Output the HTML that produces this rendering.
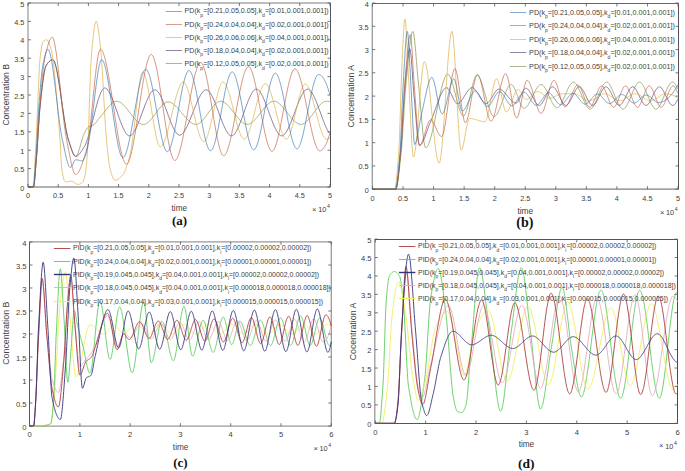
<!DOCTYPE html><html><head><meta charset="utf-8"><style>html,body{margin:0;padding:0;background:#fff;width:685px;height:471px;overflow:hidden}svg{display:block}text{font-family:'Liberation Sans', sans-serif;fill:#404040}</style></head><body>
<svg width="685" height="471" viewBox="0 0 685 471">
<line x1="28.00" y1="3.00" x2="28.00" y2="187.00" stroke="#a0a0a0" stroke-width="1.30"/>
<line x1="28.00" y1="3.00" x2="330.50" y2="3.00" stroke="#a8a8a8" stroke-width="1.30"/>
<line x1="330.50" y1="3.00" x2="330.50" y2="187.00" stroke="#555555" stroke-width="1.00"/>
<line x1="28.00" y1="187.00" x2="330.50" y2="187.00" stroke="#999999" stroke-width="1.30"/>
<line x1="372.30" y1="3.50" x2="372.30" y2="189.20" stroke="#999999" stroke-width="1.30"/>
<line x1="372.30" y1="3.50" x2="678.50" y2="3.50" stroke="#666666" stroke-width="1.00"/>
<line x1="678.50" y1="3.50" x2="678.50" y2="189.20" stroke="#555555" stroke-width="1.00"/>
<line x1="372.30" y1="189.20" x2="678.50" y2="189.20" stroke="#808080" stroke-width="1.20"/>
<line x1="29.50" y1="241.80" x2="29.50" y2="426.20" stroke="#5a5a5a" stroke-width="1.00"/>
<line x1="29.50" y1="241.80" x2="331.30" y2="241.80" stroke="#999999" stroke-width="1.30"/>
<line x1="331.30" y1="241.80" x2="331.30" y2="426.20" stroke="#999999" stroke-width="1.30"/>
<line x1="29.50" y1="426.20" x2="331.30" y2="426.20" stroke="#999999" stroke-width="1.30"/>
<line x1="374.80" y1="239.50" x2="374.80" y2="423.50" stroke="#999999" stroke-width="1.30"/>
<line x1="374.80" y1="239.50" x2="677.50" y2="239.50" stroke="#555555" stroke-width="1.00"/>
<line x1="677.50" y1="239.50" x2="677.50" y2="423.50" stroke="#4a4a4a" stroke-width="1.00"/>
<line x1="374.80" y1="423.50" x2="677.50" y2="423.50" stroke="#555555" stroke-width="1.00"/>
<path d="M28.0 187.0L28.4 187.0L28.7 187.0L29.1 187.0L29.4 187.0L29.8 187.0L30.2 187.0L30.5 187.0L30.9 187.0L31.3 187.0L31.6 187.0L32.0 187.0L32.3 187.0L32.7 187.0L33.1 187.0L33.4 187.0L33.8 186.3L34.2 184.2L34.5 181.2L34.9 177.3L35.2 172.9L35.6 168.2L36.0 163.5L36.3 159.0L36.7 154.6L37.1 149.7L37.4 144.3L37.8 138.6L38.1 132.8L38.5 127.0L38.9 121.4L39.2 116.1L39.6 111.3L40.0 107.2L40.3 103.8L40.7 100.4L41.0 97.1L41.4 93.8L41.8 90.6L42.1 87.5L42.5 84.5L42.9 81.7L43.2 79.0L43.6 76.5L43.9 74.2L44.3 72.1L44.7 70.3L45.0 68.7L45.4 67.3L45.8 66.3L46.1 65.6L46.5 65.0L46.8 64.5L47.2 63.9L47.6 63.4L47.9 63.0L48.3 62.5L48.7 62.1L49.0 61.7L49.4 61.4L49.7 61.0L50.1 60.7L50.5 60.5L50.8 60.2L51.2 60.1L51.6 59.9L51.9 59.8L52.3 59.7L52.6 59.7L53.0 59.7L53.4 60.0L53.7 60.4L54.1 61.0L54.5 61.8L54.8 62.7L55.2 63.8L55.5 65.1L55.9 66.5L56.3 68.0L56.6 69.7L57.0 71.5L57.4 73.4L57.7 75.4L58.1 77.4L58.4 79.6L58.8 81.8L59.2 84.1L59.5 86.5L59.9 88.9L60.3 91.4L60.6 93.9L61.0 96.4L61.3 98.9L61.7 101.5L62.1 104.0L62.4 106.5L62.8 109.0L63.2 111.5L63.5 114.0L63.9 116.4L64.2 118.8L64.6 121.1L65.0 123.3L65.3 125.5L65.7 127.6L66.1 129.6L66.4 131.5L66.8 133.2L67.1 134.9L67.5 136.5L67.9 137.9L68.2 139.1L68.6 140.3L69.0 141.4L69.3 142.5L69.7 143.7L70.0 144.8L70.4 145.9L70.8 147.1L71.1 148.2L71.5 149.2L71.9 150.3L72.2 151.2L72.6 152.1L72.9 153.0L73.3 153.8L73.7 154.5L74.0 155.1L74.4 155.6L74.7 156.0L75.1 156.3L75.5 156.4L75.8 156.4L76.2 156.3L76.6 156.0L76.9 155.5L77.3 154.8L77.6 154.1L78.0 153.2L78.4 152.2L78.7 151.1L79.1 150.0L79.5 148.8L79.8 147.5L80.2 146.2L80.5 144.9L80.9 143.6L81.3 142.3L81.6 141.0L82.0 139.7L82.4 138.5L82.7 137.3L83.1 136.3L83.4 135.3L83.8 134.4L84.2 133.6L84.5 132.9L84.9 132.2L85.3 131.5L85.6 130.8L86.0 130.2L86.3 129.5L86.7 128.9L87.1 128.4L87.4 127.9L87.8 127.5L88.2 127.2L88.5 126.9L88.9 126.7L89.2 126.6L89.6 126.4L90.0 126.3L90.3 126.2L90.7 126.1L91.1 126.0L91.4 125.9L91.8 125.8L92.1 125.7L92.5 125.5L92.9 125.4L93.2 125.2L93.6 124.9L94.0 124.7L94.3 124.3L94.7 124.0L95.0 123.6L95.4 123.1L95.8 122.7L96.1 122.2L96.5 121.7L96.9 121.2L97.2 120.8L97.6 120.3L97.9 119.8L98.3 119.3L98.7 118.9L99.0 118.4L99.4 118.1L99.8 117.7L100.1 117.3L100.5 116.8L100.8 116.4L101.2 116.0L101.6 115.5L101.9 115.1L102.3 114.6L102.7 114.2L103.0 113.7L103.4 113.3L103.7 112.8L104.1 112.3L104.5 111.9L104.8 111.4L105.2 110.9L105.6 110.5L105.9 110.0L106.3 109.5L106.6 109.1L107.0 108.6L107.4 108.2L107.7 107.7L108.1 107.3L108.5 106.9L108.8 106.5L109.2 106.1L109.5 105.7L109.9 105.3L110.3 104.9L110.6 104.6L111.0 104.2L111.4 103.9L111.7 103.6L112.1 103.3L112.4 103.0L112.8 102.7L113.2 102.5L113.5 102.3L113.9 102.1L114.3 101.9L114.6 101.7L115.0 101.6L115.3 101.5L115.7 101.4L116.1 101.3L116.4 101.3L116.8 101.3L117.2 101.3L117.5 101.3L117.9 101.4L118.2 101.5L118.6 101.6L119.0 101.7L119.3 101.8L119.7 102.0L120.0 102.2L120.4 102.4L120.8 102.7L121.1 102.9L121.5 103.2L121.9 103.5L122.2 103.8L122.6 104.1L122.9 104.4L123.3 104.8L123.7 105.1L124.0 105.5L124.4 105.9L124.8 106.3L125.1 106.7L125.5 107.1L125.8 107.5L126.2 107.9L126.6 108.4L126.9 108.8L127.3 109.3L127.7 109.7L128.0 110.2L128.4 110.6L128.7 111.1L129.1 111.6L129.5 112.1L129.8 112.5L130.2 113.0L130.6 113.5L130.9 114.0L131.3 114.4L131.6 114.9L132.0 115.4L132.4 115.8L132.7 116.3L133.1 116.7L133.5 117.2L133.8 117.6L134.2 118.1L134.5 118.5L134.9 118.9L135.3 119.3L135.6 119.7L136.0 120.1L136.4 120.5L136.7 120.8L137.1 121.2L137.4 121.5L137.8 121.8L138.2 122.1L138.5 122.4L138.9 122.7L139.3 122.9L139.6 123.2L140.0 123.4L140.3 123.6L140.7 123.8L141.1 124.0L141.4 124.1L141.8 124.2L142.2 124.3L142.5 124.4L142.9 124.4L143.2 124.4L143.6 124.4L144.0 124.4L144.3 124.3L144.7 124.3L145.1 124.1L145.4 124.0L145.8 123.8L146.1 123.7L146.5 123.4L146.9 123.2L147.2 123.0L147.6 122.7L148.0 122.4L148.3 122.1L148.7 121.8L149.0 121.4L149.4 121.1L149.8 120.7L150.1 120.3L150.5 119.9L150.9 119.5L151.2 119.1L151.6 118.7L151.9 118.2L152.3 117.8L152.7 117.3L153.0 116.9L153.4 116.4L153.8 115.9L154.1 115.4L154.5 114.9L154.8 114.4L155.2 114.0L155.6 113.5L155.9 113.0L156.3 112.5L156.7 112.0L157.0 111.5L157.4 111.0L157.7 110.5L158.1 110.1L158.5 109.6L158.8 109.1L159.2 108.7L159.6 108.2L159.9 107.8L160.3 107.3L160.6 106.9L161.0 106.5L161.4 106.1L161.7 105.7L162.1 105.3L162.5 105.0L162.8 104.7L163.2 104.3L163.5 104.0L163.9 103.7L164.3 103.5L164.6 103.2L165.0 103.0L165.3 102.8L165.7 102.6L166.1 102.4L166.4 102.3L166.8 102.2L167.2 102.1L167.5 102.0L167.9 102.0L168.2 102.0L168.6 102.0L169.0 102.1L169.3 102.1L169.7 102.2L170.1 102.3L170.4 102.4L170.8 102.6L171.1 102.7L171.5 102.9L171.9 103.1L172.2 103.3L172.6 103.5L173.0 103.8L173.3 104.1L173.7 104.3L174.0 104.6L174.4 104.9L174.8 105.2L175.1 105.6L175.5 105.9L175.9 106.2L176.2 106.6L176.6 107.0L176.9 107.3L177.3 107.7L177.7 108.1L178.0 108.5L178.4 108.9L178.8 109.3L179.1 109.8L179.5 110.2L179.8 110.6L180.2 111.0L180.6 111.5L180.9 111.9L181.3 112.3L181.7 112.8L182.0 113.2L182.4 113.7L182.7 114.1L183.1 114.5L183.5 115.0L183.8 115.4L184.2 115.8L184.6 116.3L184.9 116.7L185.3 117.1L185.6 117.5L186.0 117.9L186.4 118.3L186.7 118.7L187.1 119.1L187.5 119.5L187.8 119.8L188.2 120.2L188.5 120.5L188.9 120.9L189.3 121.2L189.6 121.5L190.0 121.8L190.4 122.1L190.7 122.4L191.1 122.6L191.4 122.9L191.8 123.1L192.2 123.3L192.5 123.5L192.9 123.7L193.3 123.9L193.6 124.0L194.0 124.1L194.3 124.2L194.7 124.3L195.1 124.4L195.4 124.4L195.8 124.4L196.2 124.4L196.5 124.4L196.9 124.3L197.2 124.2L197.6 124.1L198.0 124.0L198.3 123.8L198.7 123.6L199.1 123.4L199.4 123.2L199.8 122.9L200.1 122.6L200.5 122.3L200.9 122.0L201.2 121.7L201.6 121.3L202.0 121.0L202.3 120.6L202.7 120.2L203.0 119.8L203.4 119.4L203.8 118.9L204.1 118.5L204.5 118.0L204.9 117.6L205.2 117.1L205.6 116.6L205.9 116.1L206.3 115.6L206.7 115.1L207.0 114.6L207.4 114.1L207.8 113.6L208.1 113.1L208.5 112.6L208.8 112.1L209.2 111.6L209.6 111.1L209.9 110.6L210.3 110.1L210.6 109.6L211.0 109.1L211.4 108.6L211.7 108.1L212.1 107.7L212.5 107.2L212.8 106.8L213.2 106.3L213.5 105.9L213.9 105.5L214.3 105.1L214.6 104.7L215.0 104.4L215.4 104.0L215.7 103.7L216.1 103.4L216.4 103.1L216.8 102.8L217.2 102.5L217.5 102.3L217.9 102.1L218.3 101.9L218.6 101.7L219.0 101.6L219.3 101.4L219.7 101.4L220.1 101.3L220.4 101.3L220.8 101.3L221.2 101.3L221.5 101.3L221.9 101.4L222.2 101.5L222.6 101.6L223.0 101.7L223.3 101.9L223.7 102.1L224.1 102.3L224.4 102.5L224.8 102.7L225.1 103.0L225.5 103.3L225.9 103.6L226.2 103.9L226.6 104.2L227.0 104.5L227.3 104.9L227.7 105.2L228.0 105.6L228.4 106.0L228.8 106.4L229.1 106.8L229.5 107.2L229.9 107.6L230.2 108.1L230.6 108.5L230.9 109.0L231.3 109.4L231.7 109.9L232.0 110.3L232.4 110.8L232.8 111.3L233.1 111.7L233.5 112.2L233.8 112.7L234.2 113.2L234.6 113.6L234.9 114.1L235.3 114.6L235.7 115.0L236.0 115.5L236.4 116.0L236.7 116.4L237.1 116.9L237.5 117.3L237.8 117.8L238.2 118.2L238.6 118.6L238.9 119.0L239.3 119.4L239.6 119.8L240.0 120.2L240.4 120.6L240.7 120.9L241.1 121.3L241.5 121.6L241.8 121.9L242.2 122.2L242.5 122.5L242.9 122.8L243.3 123.0L243.6 123.3L244.0 123.5L244.4 123.7L244.7 123.8L245.1 124.0L245.4 124.1L245.8 124.2L246.2 124.3L246.5 124.4L246.9 124.4L247.3 124.4L247.6 124.4L248.0 124.4L248.3 124.3L248.7 124.2L249.1 124.1L249.4 124.0L249.8 123.8L250.2 123.7L250.5 123.5L250.9 123.3L251.2 123.0L251.6 122.8L252.0 122.5L252.3 122.2L252.7 121.9L253.1 121.6L253.4 121.3L253.8 120.9L254.1 120.6L254.5 120.2L254.9 119.8L255.2 119.4L255.6 119.0L255.9 118.6L256.3 118.2L256.7 117.8L257.0 117.3L257.4 116.9L257.8 116.4L258.1 116.0L258.5 115.5L258.8 115.0L259.2 114.6L259.6 114.1L259.9 113.6L260.3 113.2L260.7 112.7L261.0 112.2L261.4 111.7L261.7 111.3L262.1 110.8L262.5 110.3L262.8 109.9L263.2 109.4L263.6 109.0L263.9 108.5L264.3 108.1L264.6 107.6L265.0 107.2L265.4 106.8L265.7 106.4L266.1 106.0L266.5 105.6L266.8 105.2L267.2 104.9L267.5 104.5L267.9 104.2L268.3 103.9L268.6 103.6L269.0 103.3L269.4 103.0L269.7 102.7L270.1 102.5L270.4 102.3L270.8 102.1L271.2 101.9L271.5 101.7L271.9 101.6L272.3 101.5L272.6 101.4L273.0 101.3L273.3 101.3L273.7 101.3L274.1 101.3L274.4 101.3L274.8 101.3L275.2 101.4L275.5 101.5L275.9 101.6L276.2 101.8L276.6 101.9L277.0 102.1L277.3 102.3L277.7 102.5L278.1 102.8L278.4 103.0L278.8 103.3L279.1 103.6L279.5 103.9L279.9 104.2L280.2 104.5L280.6 104.8L281.0 105.2L281.3 105.6L281.7 105.9L282.0 106.3L282.4 106.7L282.8 107.1L283.1 107.5L283.5 108.0L283.9 108.4L284.2 108.8L284.6 109.3L284.9 109.7L285.3 110.2L285.7 110.6L286.0 111.1L286.4 111.5L286.8 112.0L287.1 112.5L287.5 112.9L287.8 113.4L288.2 113.9L288.6 114.3L288.9 114.8L289.3 115.2L289.7 115.7L290.0 116.1L290.4 116.6L290.7 117.0L291.1 117.4L291.5 117.9L291.8 118.3L292.2 118.7L292.6 119.1L292.9 119.5L293.3 119.9L293.6 120.3L294.0 120.6L294.4 121.0L294.7 121.3L295.1 121.6L295.5 121.9L295.8 122.2L296.2 122.5L296.5 122.8L296.9 123.0L297.3 123.2L297.6 123.5L298.0 123.6L298.4 123.8L298.7 124.0L299.1 124.1L299.4 124.2L299.8 124.3L300.2 124.4L300.5 124.4L300.9 124.4L301.2 124.4L301.6 124.4L302.0 124.3L302.3 124.3L302.7 124.1L303.1 124.0L303.4 123.8L303.8 123.7L304.1 123.5L304.5 123.2L304.9 123.0L305.2 122.7L305.6 122.4L306.0 122.1L306.3 121.8L306.7 121.5L307.0 121.1L307.4 120.8L307.8 120.4L308.1 120.0L308.5 119.6L308.9 119.2L309.2 118.7L309.6 118.3L309.9 117.8L310.3 117.4L310.7 116.9L311.0 116.4L311.4 116.0L311.8 115.5L312.1 115.0L312.5 114.5L312.8 114.0L313.2 113.5L313.6 113.0L313.9 112.5L314.3 112.0L314.7 111.5L315.0 111.0L315.4 110.5L315.7 110.1L316.1 109.6L316.5 109.1L316.8 108.6L317.2 108.2L317.6 107.7L317.9 107.3L318.3 106.8L318.6 106.4L319.0 106.0L319.4 105.6L319.7 105.2L320.1 104.8L320.5 104.5L320.8 104.1L321.2 103.8L321.5 103.5L321.9 103.2L322.3 102.9L322.6 102.6L323.0 102.4L323.4 102.2L323.7 102.0L324.1 101.8L324.4 101.6L324.8 101.5L325.2 101.4L325.5 101.3L325.9 101.3L326.3 101.3L326.6 101.3L327.0 101.3L327.3 101.3L327.7 101.3L328.1 101.3L328.4 101.4L328.8 101.4L329.2 101.5L329.5 101.5L329.9 101.6" fill="none" stroke="#76893a" stroke-width="0.65"/>
<path d="M28.0 187.0L28.4 187.0L28.7 187.0L29.1 187.0L29.4 187.0L29.8 187.0L30.2 187.0L30.5 187.0L30.9 187.0L31.3 187.0L31.6 187.0L32.0 187.0L32.3 187.0L32.7 187.0L33.1 187.0L33.4 187.0L33.8 186.3L34.2 184.2L34.5 181.2L34.9 177.3L35.2 172.9L35.6 168.2L36.0 163.5L36.3 159.0L36.7 154.6L37.1 149.7L37.4 144.3L37.8 138.6L38.1 132.8L38.5 127.0L38.9 121.4L39.2 116.1L39.6 111.3L40.0 107.2L40.3 103.8L40.7 100.4L41.0 97.1L41.4 93.8L41.8 90.6L42.1 87.5L42.5 84.5L42.9 81.7L43.2 79.0L43.6 76.5L43.9 74.2L44.3 72.1L44.7 70.3L45.0 68.7L45.4 67.3L45.8 66.3L46.1 65.6L46.5 65.0L46.8 64.5L47.2 63.9L47.6 63.4L47.9 63.0L48.3 62.5L48.7 62.1L49.0 61.7L49.4 61.4L49.7 61.0L50.1 60.7L50.5 60.5L50.8 60.2L51.2 60.1L51.6 59.9L51.9 59.8L52.3 59.7L52.6 59.7L53.0 59.7L53.4 60.0L53.7 60.4L54.1 61.0L54.5 61.8L54.8 62.7L55.2 63.8L55.5 65.1L55.9 66.5L56.3 68.0L56.6 69.7L57.0 71.5L57.4 73.4L57.7 75.4L58.1 77.4L58.4 79.6L58.8 81.8L59.2 84.1L59.5 86.5L59.9 88.9L60.3 91.4L60.6 93.9L61.0 96.4L61.3 98.9L61.7 101.5L62.1 104.0L62.4 106.5L62.8 109.0L63.2 111.5L63.5 114.0L63.9 116.4L64.2 118.8L64.6 121.1L65.0 123.3L65.3 125.5L65.7 127.6L66.1 129.6L66.4 131.5L66.8 133.2L67.1 134.9L67.5 136.5L67.9 137.9L68.2 139.1L68.6 140.3L69.0 141.4L69.3 142.5L69.7 143.7L70.0 144.8L70.4 145.9L70.8 147.1L71.1 148.2L71.5 149.2L71.9 150.3L72.2 151.2L72.6 152.1L72.9 153.0L73.3 153.8L73.7 154.5L74.0 155.1L74.4 155.6L74.7 156.0L75.1 156.3L75.5 156.4L75.8 156.5L76.2 156.4L76.6 156.3L76.9 156.2L77.3 156.0L77.6 155.7L78.0 155.4L78.4 155.1L78.7 154.7L79.1 154.3L79.5 153.9L79.8 153.4L80.2 153.0L80.5 152.5L80.9 151.9L81.3 151.4L81.6 150.9L82.0 150.3L82.4 149.7L82.7 149.2L83.1 148.6L83.4 148.0L83.8 147.4L84.2 146.9L84.5 146.3L84.9 145.6L85.3 144.9L85.6 144.1L86.0 143.3L86.3 142.4L86.7 141.4L87.1 140.4L87.4 139.4L87.8 138.3L88.2 137.1L88.5 135.9L88.9 134.7L89.2 133.5L89.6 132.2L90.0 130.9L90.3 129.6L90.7 128.2L91.1 126.8L91.4 125.4L91.8 124.0L92.1 122.6L92.5 121.2L92.9 119.7L93.2 118.3L93.6 116.9L94.0 115.4L94.3 114.0L94.7 112.6L95.0 111.2L95.4 109.8L95.8 108.4L96.1 107.0L96.5 105.7L96.9 104.4L97.2 103.1L97.6 101.9L97.9 100.7L98.3 99.5L98.7 98.4L99.0 97.3L99.4 96.2L99.8 95.2L100.1 94.3L100.5 93.4L100.8 92.6L101.2 91.8L101.6 91.1L101.9 90.5L102.3 89.9L102.7 89.4L103.0 88.9L103.4 88.6L103.7 88.3L104.1 88.1L104.5 88.0L104.8 88.0L105.2 88.1L105.6 88.2L105.9 88.3L106.3 88.6L106.6 88.8L107.0 89.2L107.4 89.5L107.7 90.0L108.1 90.4L108.5 91.0L108.8 91.5L109.2 92.1L109.5 92.8L109.9 93.4L110.3 94.2L110.6 94.9L111.0 95.7L111.4 96.5L111.7 97.3L112.1 98.2L112.4 99.1L112.8 100.0L113.2 100.9L113.5 101.9L113.9 102.9L114.3 103.8L114.6 104.8L115.0 105.9L115.3 106.9L115.7 107.9L116.1 109.0L116.4 110.0L116.8 111.1L117.2 112.1L117.5 113.2L117.9 114.2L118.2 115.2L118.6 116.3L119.0 117.3L119.3 118.3L119.7 119.3L120.0 120.3L120.4 121.3L120.8 122.3L121.1 123.2L121.5 124.2L121.9 125.1L122.2 126.0L122.6 126.8L122.9 127.6L123.3 128.4L123.7 129.2L124.0 129.9L124.4 130.6L124.8 131.3L125.1 131.9L125.5 132.5L125.8 133.1L126.2 133.6L126.6 134.0L126.9 134.4L127.3 134.8L127.7 135.1L128.0 135.4L128.4 135.6L128.7 135.7L129.1 135.8L129.5 135.8L129.8 135.8L130.2 135.7L130.6 135.6L130.9 135.4L131.3 135.2L131.6 134.9L132.0 134.6L132.4 134.2L132.7 133.8L133.1 133.3L133.5 132.8L133.8 132.3L134.2 131.7L134.5 131.1L134.9 130.4L135.3 129.7L135.6 129.0L136.0 128.3L136.4 127.5L136.7 126.7L137.1 125.9L137.4 125.1L137.8 124.2L138.2 123.3L138.5 122.4L138.9 121.5L139.3 120.6L139.6 119.7L140.0 118.7L140.3 117.7L140.7 116.8L141.1 115.8L141.4 114.8L141.8 113.8L142.2 112.8L142.5 111.9L142.9 110.9L143.2 109.9L143.6 108.9L144.0 108.0L144.3 107.0L144.7 106.0L145.1 105.1L145.4 104.2L145.8 103.3L146.1 102.4L146.5 101.5L146.9 100.6L147.2 99.8L147.6 99.0L148.0 98.2L148.3 97.4L148.7 96.7L149.0 96.0L149.4 95.3L149.8 94.6L150.1 94.0L150.5 93.4L150.9 92.9L151.2 92.4L151.6 91.9L151.9 91.5L152.3 91.1L152.7 90.8L153.0 90.5L153.4 90.3L153.8 90.1L154.1 90.0L154.5 89.9L154.8 89.8L155.2 89.9L155.6 90.0L155.9 90.1L156.3 90.3L156.7 90.5L157.0 90.8L157.4 91.2L157.7 91.6L158.1 92.0L158.5 92.5L158.8 93.0L159.2 93.5L159.6 94.1L159.9 94.8L160.3 95.4L160.6 96.1L161.0 96.9L161.4 97.6L161.7 98.4L162.1 99.2L162.5 100.0L162.8 100.9L163.2 101.8L163.5 102.7L163.9 103.6L164.3 104.5L164.6 105.5L165.0 106.4L165.3 107.4L165.7 108.4L166.1 109.3L166.4 110.3L166.8 111.3L167.2 112.3L167.5 113.3L167.9 114.3L168.2 115.3L168.6 116.3L169.0 117.3L169.3 118.2L169.7 119.2L170.1 120.1L170.4 121.1L170.8 122.0L171.1 122.9L171.5 123.8L171.9 124.6L172.2 125.5L172.6 126.3L173.0 127.1L173.3 127.9L173.7 128.6L174.0 129.3L174.4 130.0L174.8 130.6L175.1 131.2L175.5 131.8L175.9 132.3L176.2 132.8L176.6 133.3L176.9 133.7L177.3 134.0L177.7 134.3L178.0 134.6L178.4 134.8L178.8 135.0L179.1 135.1L179.5 135.1L179.8 135.1L180.2 135.0L180.6 134.9L180.9 134.8L181.3 134.6L181.7 134.3L182.0 134.1L182.4 133.7L182.7 133.4L183.1 133.0L183.5 132.5L183.8 132.0L184.2 131.5L184.6 131.0L184.9 130.4L185.3 129.8L185.6 129.2L186.0 128.5L186.4 127.8L186.7 127.1L187.1 126.4L187.5 125.6L187.8 124.8L188.2 124.0L188.5 123.2L188.9 122.4L189.3 121.5L189.6 120.6L190.0 119.8L190.4 118.9L190.7 118.0L191.1 117.1L191.4 116.2L191.8 115.3L192.2 114.3L192.5 113.4L192.9 112.5L193.3 111.6L193.6 110.6L194.0 109.7L194.3 108.8L194.7 107.9L195.1 107.0L195.4 106.1L195.8 105.2L196.2 104.3L196.5 103.5L196.9 102.6L197.2 101.8L197.6 100.9L198.0 100.1L198.3 99.4L198.7 98.6L199.1 97.9L199.4 97.2L199.8 96.5L200.1 95.8L200.5 95.2L200.9 94.6L201.2 94.0L201.6 93.4L202.0 92.9L202.3 92.4L202.7 92.0L203.0 91.6L203.4 91.2L203.8 90.9L204.1 90.6L204.5 90.4L204.9 90.2L205.2 90.0L205.6 89.9L205.9 89.9L206.3 89.9L206.7 89.9L207.0 90.0L207.4 90.2L207.8 90.4L208.1 90.6L208.5 90.9L208.8 91.3L209.2 91.6L209.6 92.1L209.9 92.6L210.3 93.1L210.6 93.6L211.0 94.2L211.4 94.8L211.7 95.5L212.1 96.2L212.5 96.9L212.8 97.7L213.2 98.4L213.5 99.2L213.9 100.1L214.3 100.9L214.6 101.8L215.0 102.7L215.4 103.6L215.7 104.5L216.1 105.4L216.4 106.4L216.8 107.3L217.2 108.3L217.5 109.2L217.9 110.2L218.3 111.2L218.6 112.2L219.0 113.2L219.3 114.2L219.7 115.1L220.1 116.1L220.4 117.1L220.8 118.1L221.2 119.0L221.5 120.0L221.9 120.9L222.2 121.8L222.6 122.7L223.0 123.6L223.3 124.5L223.7 125.4L224.1 126.2L224.4 127.0L224.8 127.8L225.1 128.5L225.5 129.3L225.9 130.0L226.2 130.6L226.6 131.3L227.0 131.9L227.3 132.4L227.7 133.0L228.0 133.5L228.4 133.9L228.8 134.3L229.1 134.7L229.5 135.0L229.9 135.3L230.2 135.5L230.6 135.7L230.9 135.8L231.3 135.8L231.7 135.8L232.0 135.8L232.4 135.7L232.8 135.5L233.1 135.3L233.5 135.0L233.8 134.7L234.2 134.3L234.6 133.9L234.9 133.5L235.3 133.0L235.7 132.4L236.0 131.8L236.4 131.2L236.7 130.5L237.1 129.8L237.5 129.1L237.8 128.4L238.2 127.6L238.6 126.7L238.9 125.9L239.3 125.0L239.6 124.1L240.0 123.2L240.4 122.3L240.7 121.3L241.1 120.4L241.5 119.4L241.8 118.4L242.2 117.4L242.5 116.4L242.9 115.4L243.3 114.4L243.6 113.3L244.0 112.3L244.4 111.3L244.7 110.3L245.1 109.2L245.4 108.2L245.8 107.2L246.2 106.2L246.5 105.2L246.9 104.3L247.3 103.3L247.6 102.4L248.0 101.4L248.3 100.5L248.7 99.6L249.1 98.8L249.4 97.9L249.8 97.1L250.2 96.4L250.5 95.6L250.9 94.9L251.2 94.2L251.6 93.5L252.0 92.9L252.3 92.4L252.7 91.8L253.1 91.3L253.4 90.9L253.8 90.5L254.1 90.1L254.5 89.8L254.9 89.6L255.2 89.4L255.6 89.2L255.9 89.1L256.3 89.1L256.7 89.1L257.0 89.2L257.4 89.4L257.8 89.6L258.1 89.8L258.5 90.1L258.8 90.4L259.2 90.8L259.6 91.2L259.9 91.7L260.3 92.2L260.7 92.8L261.0 93.3L261.4 94.0L261.7 94.6L262.1 95.3L262.5 96.0L262.8 96.8L263.2 97.6L263.6 98.4L263.9 99.2L264.3 100.1L264.6 100.9L265.0 101.8L265.4 102.7L265.7 103.7L266.1 104.6L266.5 105.6L266.8 106.5L267.2 107.5L267.5 108.5L267.9 109.5L268.3 110.5L268.6 111.5L269.0 112.5L269.4 113.5L269.7 114.5L270.1 115.5L270.4 116.5L270.8 117.5L271.2 118.4L271.5 119.4L271.9 120.4L272.3 121.3L272.6 122.2L273.0 123.1L273.3 124.0L273.7 124.9L274.1 125.8L274.4 126.6L274.8 127.4L275.2 128.2L275.5 128.9L275.9 129.6L276.2 130.3L276.6 131.0L277.0 131.6L277.3 132.2L277.7 132.7L278.1 133.3L278.4 133.7L278.8 134.2L279.1 134.5L279.5 134.9L279.9 135.2L280.2 135.4L280.6 135.6L281.0 135.7L281.3 135.8L281.7 135.8L282.0 135.8L282.4 135.7L282.8 135.6L283.1 135.4L283.5 135.2L283.9 134.9L284.2 134.6L284.6 134.2L284.9 133.8L285.3 133.4L285.7 132.9L286.0 132.4L286.4 131.8L286.8 131.2L287.1 130.6L287.5 129.9L287.8 129.2L288.2 128.5L288.6 127.7L288.9 127.0L289.3 126.2L289.7 125.3L290.0 124.5L290.4 123.6L290.7 122.8L291.1 121.9L291.5 120.9L291.8 120.0L292.2 119.1L292.6 118.1L292.9 117.2L293.3 116.2L293.6 115.2L294.0 114.3L294.4 113.3L294.7 112.3L295.1 111.3L295.5 110.4L295.8 109.4L296.2 108.4L296.5 107.5L296.9 106.5L297.3 105.6L297.6 104.6L298.0 103.7L298.4 102.8L298.7 101.9L299.1 101.0L299.4 100.2L299.8 99.3L300.2 98.5L300.5 97.7L300.9 97.0L301.2 96.2L301.6 95.5L302.0 94.8L302.3 94.2L302.7 93.6L303.1 93.0L303.4 92.4L303.8 91.9L304.1 91.4L304.5 91.0L304.9 90.6L305.2 90.3L305.6 89.9L306.0 89.7L306.3 89.5L306.7 89.3L307.0 89.2L307.4 89.1L307.8 89.1L308.1 89.2L308.5 89.3L308.9 89.4L309.2 89.6L309.6 89.9L309.9 90.2L310.3 90.5L310.7 90.9L311.0 91.4L311.4 91.9L311.8 92.4L312.1 93.0L312.5 93.6L312.8 94.2L313.2 94.9L313.6 95.6L313.9 96.3L314.3 97.1L314.7 97.8L315.0 98.7L315.4 99.5L315.7 100.3L316.1 101.2L316.5 102.1L316.8 103.0L317.2 104.0L317.6 104.9L317.9 105.9L318.3 106.9L318.6 107.8L319.0 108.8L319.4 109.8L319.7 110.8L320.1 111.8L320.5 112.8L320.8 113.8L321.2 114.8L321.5 115.8L321.9 116.8L322.3 117.8L322.6 118.8L323.0 119.7L323.4 120.7L323.7 121.6L324.1 122.5L324.4 123.4L324.8 124.3L325.2 125.2L325.5 126.0L325.9 126.9L326.3 127.7L326.6 128.4L327.0 129.2L327.3 129.9L327.7 130.6L328.1 131.2L328.4 131.8L328.8 132.4L329.2 132.9L329.5 133.4L329.9 133.9" fill="none" stroke="#4e3366" stroke-width="0.65"/>
<path d="M28.0 187.0L28.4 187.0L28.7 187.0L29.1 187.0L29.4 187.0L29.8 187.0L30.2 187.0L30.5 187.0L30.9 187.0L31.3 187.0L31.6 187.0L32.0 187.0L32.3 187.0L32.7 187.0L33.1 186.5L33.4 184.2L33.8 180.2L34.2 175.2L34.5 169.4L34.9 163.4L35.2 157.6L35.6 151.3L36.0 144.0L36.3 136.1L36.7 127.7L37.1 119.3L37.4 111.2L37.8 103.5L38.1 95.4L38.5 86.9L38.9 78.6L39.2 70.9L39.6 64.3L40.0 59.4L40.3 56.1L40.7 53.2L41.0 50.5L41.4 48.1L41.8 46.0L42.1 44.2L42.5 42.9L42.9 42.0L43.2 41.5L43.6 41.2L43.9 40.9L44.3 40.7L44.7 40.4L45.0 40.2L45.4 40.1L45.8 39.9L46.1 39.9L46.5 39.8L46.8 39.8L47.2 40.0L47.6 40.3L47.9 40.8L48.3 41.4L48.7 42.2L49.0 43.1L49.4 44.1L49.7 45.1L50.1 46.2L50.5 47.4L50.8 48.6L51.2 49.9L51.6 51.4L51.9 53.2L52.3 55.3L52.6 57.7L53.0 60.3L53.4 63.1L53.7 66.1L54.1 69.3L54.5 72.8L54.8 76.4L55.2 80.1L55.5 84.0L55.9 88.1L56.3 92.3L56.6 96.6L57.0 101.0L57.4 105.5L57.7 110.0L58.1 114.7L58.4 119.3L58.8 124.1L59.2 128.8L59.5 133.6L59.9 138.3L60.3 143.5L60.6 150.2L61.0 157.4L61.3 163.8L61.7 168.4L62.1 170.8L62.4 172.8L62.8 174.7L63.2 176.4L63.5 177.9L63.9 179.2L64.2 180.3L64.6 181.1L65.0 181.6L65.3 181.8L65.7 181.8L66.1 181.8L66.4 181.8L66.8 181.8L67.1 181.7L67.5 181.7L67.9 181.6L68.2 181.5L68.6 181.5L69.0 181.4L69.3 181.3L69.7 181.3L70.0 181.2L70.4 181.2L70.8 181.1L71.1 181.1L71.5 181.1L71.9 181.1L72.2 181.2L72.6 181.3L72.9 181.5L73.3 181.7L73.7 181.9L74.0 182.2L74.4 182.5L74.7 182.7L75.1 183.0L75.5 183.3L75.8 183.5L76.2 183.7L76.6 184.0L76.9 184.1L77.3 184.3L77.6 184.4L78.0 184.4L78.4 184.4L78.7 184.4L79.1 184.3L79.5 184.2L79.8 184.1L80.2 183.9L80.5 183.7L80.9 183.5L81.3 183.3L81.6 183.0L82.0 182.7L82.4 182.4L82.7 182.1L83.1 181.7L83.4 181.1L83.8 180.1L84.2 178.9L84.5 177.4L84.9 175.7L85.3 173.8L85.6 171.6L86.0 169.3L86.3 166.3L86.7 162.2L87.1 157.3L87.4 151.7L87.8 145.8L88.2 138.7L88.5 129.9L88.9 119.8L89.2 108.9L89.6 97.7L90.0 86.7L90.3 76.4L90.7 67.2L91.1 59.8L91.4 54.5L91.8 50.6L92.1 46.7L92.5 43.0L92.9 39.5L93.2 36.2L93.6 33.1L94.0 30.4L94.3 27.9L94.7 25.8L95.0 24.1L95.4 22.7L95.8 21.8L96.1 21.4L96.5 21.5L96.9 22.2L97.2 23.4L97.6 25.0L97.9 27.0L98.3 29.4L98.7 32.0L99.0 34.8L99.4 37.8L99.8 40.9L100.1 44.0L100.5 47.2L100.8 50.6L101.2 54.8L101.6 59.6L101.9 65.0L102.3 70.8L102.7 76.9L103.0 83.4L103.4 89.9L103.7 96.6L104.1 103.2L104.5 109.7L104.8 116.0L105.2 122.0L105.6 127.6L105.9 132.7L106.3 137.2L106.6 141.1L107.0 144.9L107.4 148.6L107.7 152.1L108.1 155.5L108.5 158.7L108.8 161.6L109.2 164.2L109.5 166.5L109.9 168.3L110.3 169.8L110.6 171.1L111.0 172.3L111.4 173.6L111.7 174.7L112.1 175.8L112.4 176.8L112.8 177.7L113.2 178.4L113.5 179.1L113.9 179.6L114.3 180.0L114.6 180.3L115.0 180.4L115.3 180.4L115.7 180.3L116.1 180.2L116.4 180.1L116.8 180.0L117.2 179.8L117.5 179.6L117.9 179.4L118.2 179.2L118.6 179.0L119.0 178.7L119.3 178.4L119.7 178.1L120.0 177.8L120.4 177.4L120.8 177.1L121.1 176.7L121.5 176.3L121.9 175.9L122.2 175.5L122.6 175.1L122.9 174.7L123.3 174.2L123.7 173.6L124.0 173.0L124.4 172.2L124.8 171.4L125.1 170.6L125.5 169.7L125.8 168.7L126.2 167.7L126.6 166.7L126.9 165.6L127.3 164.5L127.7 163.4L128.0 162.3L128.4 161.1L128.7 159.8L129.1 158.4L129.5 157.0L129.8 155.5L130.2 153.9L130.6 152.2L130.9 150.5L131.3 148.6L131.6 146.4L132.0 144.1L132.4 141.6L132.7 139.0L133.1 136.2L133.5 133.3L133.8 130.3L134.2 127.3L134.5 124.1L134.9 121.0L135.3 117.7L135.6 114.5L136.0 111.3L136.4 108.1L136.7 104.9L137.1 101.8L137.4 98.7L137.8 95.7L138.2 92.9L138.5 90.1L138.9 87.5L139.3 85.0L139.6 82.7L140.0 80.6L140.3 78.6L140.7 76.9L141.1 75.5L141.4 74.3L141.8 73.3L142.2 72.6L142.5 72.3L142.9 72.2L143.2 72.4L143.6 72.7L144.0 73.2L144.3 73.9L144.7 74.7L145.1 75.7L145.4 76.8L145.8 78.1L146.1 79.5L146.5 81.0L146.9 82.6L147.2 84.3L147.6 86.1L148.0 88.0L148.3 90.0L148.7 92.0L149.0 94.1L149.4 96.3L149.8 98.5L150.1 100.7L150.5 103.0L150.9 105.3L151.2 107.6L151.6 109.9L151.9 112.2L152.3 114.5L152.7 116.8L153.0 119.1L153.4 121.3L153.8 123.5L154.1 125.7L154.5 127.7L154.8 129.8L155.2 131.7L155.6 133.6L155.9 135.4L156.3 137.0L156.7 138.6L157.0 140.1L157.4 141.4L157.7 142.6L158.1 143.7L158.5 144.7L158.8 145.4L159.2 146.1L159.6 146.5L159.9 146.8L160.3 146.9L160.6 146.8L161.0 146.7L161.4 146.5L161.7 146.1L162.1 145.7L162.5 145.3L162.8 144.7L163.2 144.0L163.5 143.3L163.9 142.6L164.3 141.7L164.6 140.8L165.0 139.8L165.3 138.8L165.7 137.7L166.1 136.6L166.4 135.4L166.8 134.2L167.2 132.9L167.5 131.6L167.9 130.2L168.2 128.9L168.6 127.5L169.0 126.0L169.3 124.6L169.7 123.1L170.1 121.6L170.4 120.1L170.8 118.6L171.1 117.1L171.5 115.5L171.9 114.0L172.2 112.5L172.6 110.9L173.0 109.4L173.3 107.9L173.7 106.4L174.0 104.9L174.4 103.5L174.8 102.0L175.1 100.6L175.5 99.2L175.9 97.9L176.2 96.5L176.6 95.3L176.9 94.0L177.3 92.8L177.7 91.7L178.0 90.6L178.4 89.5L178.8 88.5L179.1 87.6L179.5 86.7L179.8 85.9L180.2 85.2L180.6 84.5L180.9 83.9L181.3 83.4L181.7 83.0L182.0 82.6L182.4 82.4L182.7 82.2L183.1 82.1L183.5 82.1L183.8 82.3L184.2 82.5L184.6 82.8L184.9 83.3L185.3 83.8L185.6 84.4L186.0 85.1L186.4 85.9L186.7 86.7L187.1 87.7L187.5 88.7L187.8 89.7L188.2 90.9L188.5 92.0L188.9 93.3L189.3 94.6L189.6 95.9L190.0 97.3L190.4 98.7L190.7 100.1L191.1 101.6L191.4 103.1L191.8 104.6L192.2 106.2L192.5 107.7L192.9 109.3L193.3 110.9L193.6 112.5L194.0 114.0L194.3 115.6L194.7 117.2L195.1 118.7L195.4 120.2L195.8 121.8L196.2 123.2L196.5 124.7L196.9 126.1L197.2 127.5L197.6 128.9L198.0 130.2L198.3 131.4L198.7 132.6L199.1 133.8L199.4 134.8L199.8 135.9L200.1 136.8L200.5 137.7L200.9 138.5L201.2 139.2L201.6 139.9L202.0 140.4L202.3 140.9L202.7 141.3L203.0 141.5L203.4 141.7L203.8 141.7L204.1 141.7L204.5 141.5L204.9 141.2L205.2 140.8L205.6 140.3L205.9 139.6L206.3 138.9L206.7 138.1L207.0 137.2L207.4 136.2L207.8 135.2L208.1 134.0L208.5 132.8L208.8 131.6L209.2 130.2L209.6 128.9L209.9 127.4L210.3 125.9L210.6 124.4L211.0 122.9L211.4 121.3L211.7 119.7L212.1 118.0L212.5 116.4L212.8 114.7L213.2 113.0L213.5 111.4L213.9 109.7L214.3 108.0L214.6 106.4L215.0 104.7L215.4 103.1L215.7 101.5L216.1 99.9L216.4 98.4L216.8 96.9L217.2 95.5L217.5 94.1L217.9 92.7L218.3 91.4L218.6 90.2L219.0 89.1L219.3 88.0L219.7 87.0L220.1 86.0L220.4 85.2L220.8 84.4L221.2 83.8L221.5 83.2L221.9 82.8L222.2 82.5L222.6 82.2L223.0 82.1L223.3 82.1L223.7 82.3L224.1 82.5L224.4 82.8L224.8 83.2L225.1 83.6L225.5 84.2L225.9 84.8L226.2 85.5L226.6 86.3L227.0 87.1L227.3 88.1L227.7 89.0L228.0 90.0L228.4 91.1L228.8 92.3L229.1 93.4L229.5 94.6L229.9 95.9L230.2 97.2L230.6 98.5L230.9 99.9L231.3 101.3L231.7 102.7L232.0 104.1L232.4 105.5L232.8 107.0L233.1 108.4L233.5 109.9L233.8 111.4L234.2 112.8L234.6 114.3L234.9 115.7L235.3 117.2L235.7 118.6L236.0 120.0L236.4 121.4L236.7 122.8L237.1 124.1L237.5 125.4L237.8 126.6L238.2 127.9L238.6 129.0L238.9 130.2L239.3 131.2L239.6 132.3L240.0 133.2L240.4 134.1L240.7 135.0L241.1 135.8L241.5 136.5L241.8 137.1L242.2 137.6L242.5 138.1L242.9 138.5L243.3 138.8L243.6 139.0L244.0 139.1L244.4 139.2L244.7 139.1L245.1 138.9L245.4 138.6L245.8 138.3L246.2 137.9L246.5 137.3L246.9 136.7L247.3 136.1L247.6 135.3L248.0 134.5L248.3 133.7L248.7 132.8L249.1 131.8L249.4 130.7L249.8 129.7L250.2 128.5L250.5 127.4L250.9 126.1L251.2 124.9L251.6 123.6L252.0 122.3L252.3 121.0L252.7 119.6L253.1 118.2L253.4 116.8L253.8 115.4L254.1 114.0L254.5 112.6L254.9 111.1L255.2 109.7L255.6 108.3L255.9 106.9L256.3 105.5L256.7 104.1L257.0 102.7L257.4 101.3L257.8 100.0L258.1 98.7L258.5 97.4L258.8 96.2L259.2 95.0L259.6 93.8L259.9 92.7L260.3 91.7L260.7 90.6L261.0 89.7L261.4 88.8L261.7 87.9L262.1 87.2L262.5 86.4L262.8 85.8L263.2 85.2L263.6 84.7L263.9 84.3L264.3 84.0L264.6 83.8L265.0 83.6L265.4 83.6L265.7 83.6L266.1 83.8L266.5 84.0L266.8 84.3L267.2 84.7L267.5 85.2L267.9 85.8L268.3 86.4L268.6 87.2L269.0 87.9L269.4 88.8L269.7 89.7L270.1 90.6L270.4 91.7L270.8 92.7L271.2 93.8L271.5 95.0L271.9 96.2L272.3 97.4L272.6 98.7L273.0 100.0L273.3 101.3L273.7 102.7L274.1 104.1L274.4 105.5L274.8 106.9L275.2 108.3L275.5 109.7L275.9 111.1L276.2 112.6L276.6 114.0L277.0 115.4L277.3 116.8L277.7 118.2L278.1 119.6L278.4 121.0L278.8 122.3L279.1 123.6L279.5 124.9L279.9 126.1L280.2 127.4L280.6 128.5L281.0 129.7L281.3 130.7L281.7 131.8L282.0 132.8L282.4 133.7L282.8 134.5L283.1 135.3L283.5 136.1L283.9 136.7L284.2 137.3L284.6 137.9L284.9 138.3L285.3 138.6L285.7 138.9L286.0 139.1L286.4 139.2L286.8 139.1L287.1 139.0L287.5 138.7L287.8 138.4L288.2 137.9L288.6 137.3L288.9 136.6L289.3 135.9L289.7 135.0L290.0 134.1L290.4 133.1L290.7 132.0L291.1 130.8L291.5 129.6L291.8 128.3L292.2 127.0L292.6 125.6L292.9 124.2L293.3 122.8L293.6 121.3L294.0 119.7L294.4 118.2L294.7 116.6L295.1 115.0L295.5 113.4L295.8 111.8L296.2 110.2L296.5 108.6L296.9 107.0L297.3 105.5L297.6 103.9L298.0 102.4L298.4 100.9L298.7 99.4L299.1 98.0L299.4 96.6L299.8 95.2L300.2 93.9L300.5 92.7L300.9 91.5L301.2 90.4L301.6 89.4L302.0 88.4L302.3 87.5L302.7 86.7L303.1 86.0L303.4 85.4L303.8 84.9L304.1 84.5L304.5 84.2L304.9 84.0L305.2 84.0L305.6 84.0L306.0 84.2L306.3 84.4L306.7 84.7L307.0 85.1L307.4 85.6L307.8 86.2L308.1 86.8L308.5 87.5L308.9 88.3L309.2 89.1L309.6 90.0L309.9 91.0L310.3 92.0L310.7 93.0L311.0 94.1L311.4 95.3L311.8 96.5L312.1 97.7L312.5 99.0L312.8 100.3L313.2 101.6L313.6 102.9L313.9 104.3L314.3 105.7L314.7 107.1L315.0 108.5L315.4 109.9L315.7 111.3L316.1 112.7L316.5 114.2L316.8 115.6L317.2 117.0L317.6 118.4L317.9 119.7L318.3 121.1L318.6 122.4L319.0 123.7L319.4 125.0L319.7 126.2L320.1 127.4L320.5 128.6L320.8 129.7L321.2 130.8L321.5 131.8L321.9 132.8L322.3 133.7L322.6 134.6L323.0 135.4L323.4 136.1L323.7 136.8L324.1 137.3L324.4 137.9L324.8 138.3L325.2 138.6L325.5 138.9L325.9 139.1L326.3 139.2L326.6 139.2L327.0 139.1L327.3 139.1L327.7 139.0L328.1 138.8L328.4 138.7L328.8 138.5L329.2 138.3L329.5 138.0L329.9 137.8" fill="none" stroke="#d9aa35" stroke-width="0.65"/>
<path d="M28.0 187.0L28.4 187.0L28.7 187.0L29.1 187.0L29.4 187.0L29.8 187.0L30.2 187.0L30.5 187.0L30.9 187.0L31.3 187.0L31.6 187.0L32.0 187.0L32.3 187.0L32.7 187.0L33.1 187.0L33.4 187.0L33.8 186.3L34.2 184.3L34.5 181.3L34.9 177.4L35.2 173.1L35.6 168.4L36.0 163.6L36.3 159.0L36.7 154.5L37.1 149.5L37.4 143.9L37.8 137.9L38.1 131.8L38.5 125.6L38.9 119.6L39.2 113.8L39.6 108.5L40.0 103.8L40.3 99.6L40.7 95.5L41.0 91.5L41.4 87.6L41.8 83.7L42.1 80.0L42.5 76.4L42.9 72.9L43.2 69.7L43.6 66.6L43.9 63.8L44.3 61.2L44.7 58.8L45.0 56.8L45.4 55.0L45.8 53.5L46.1 52.1L46.5 50.6L46.8 49.2L47.2 47.9L47.6 46.6L47.9 45.3L48.3 44.1L48.7 43.0L49.0 42.0L49.4 41.0L49.7 40.1L50.1 39.4L50.5 38.7L50.8 38.2L51.2 37.7L51.6 37.4L51.9 37.3L52.3 37.2L52.6 37.5L53.0 38.0L53.4 38.8L53.7 39.8L54.1 41.1L54.5 42.6L54.8 44.4L55.2 46.3L55.5 48.5L55.9 50.8L56.3 53.2L56.6 55.9L57.0 58.6L57.4 61.5L57.7 64.5L58.1 67.7L58.4 70.9L58.8 74.2L59.2 77.5L59.5 80.9L59.9 84.4L60.3 87.8L60.6 91.3L61.0 94.8L61.3 98.3L61.7 101.7L62.1 105.1L62.4 108.5L62.8 111.8L63.2 115.0L63.5 118.2L63.9 121.2L64.2 124.2L64.6 127.0L65.0 129.6L65.3 132.1L65.7 134.5L66.1 136.7L66.4 138.7L66.8 140.5L67.1 142.3L67.5 144.1L67.9 146.0L68.2 147.9L68.6 149.7L69.0 151.6L69.3 153.5L69.7 155.4L70.0 157.2L70.4 159.0L70.8 160.7L71.1 162.4L71.5 164.0L71.9 165.6L72.2 167.0L72.6 168.3L72.9 169.6L73.3 170.7L73.7 171.7L74.0 172.6L74.4 173.3L74.7 173.8L75.1 174.2L75.5 174.4L75.8 174.5L76.2 174.4L76.6 174.3L76.9 174.0L77.3 173.7L77.6 173.4L78.0 172.9L78.4 172.4L78.7 171.8L79.1 171.2L79.5 170.5L79.8 169.8L80.2 169.0L80.5 168.1L80.9 167.2L81.3 166.3L81.6 165.3L82.0 164.3L82.4 163.3L82.7 162.2L83.1 161.1L83.4 159.9L83.8 158.8L84.2 157.6L84.5 156.4L84.9 155.2L85.3 154.0L85.6 152.8L86.0 151.5L86.3 150.3L86.7 149.0L87.1 147.6L87.4 145.8L87.8 143.9L88.2 141.7L88.5 139.3L88.9 136.7L89.2 133.9L89.6 131.0L90.0 127.9L90.3 124.7L90.7 121.4L91.1 118.0L91.4 114.5L91.8 111.0L92.1 107.4L92.5 103.8L92.9 100.1L93.2 96.5L93.6 92.9L94.0 89.3L94.3 85.8L94.7 82.3L95.0 78.9L95.4 75.6L95.8 72.5L96.1 69.5L96.5 66.6L96.9 63.9L97.2 61.3L97.6 59.0L97.9 56.9L98.3 55.0L98.7 53.3L99.0 51.9L99.4 50.8L99.8 50.0L100.1 49.5L100.5 49.4L100.8 49.4L101.2 49.6L101.6 50.0L101.9 50.4L102.3 51.0L102.7 51.6L103.0 52.4L103.4 53.3L103.7 54.3L104.1 55.5L104.5 56.7L104.8 57.9L105.2 59.3L105.6 60.8L105.9 62.4L106.3 64.0L106.6 65.7L107.0 67.5L107.4 69.3L107.7 71.2L108.1 73.2L108.5 75.2L108.8 77.3L109.2 79.4L109.5 81.5L109.9 83.7L110.3 86.0L110.6 88.3L111.0 90.6L111.4 92.9L111.7 95.2L112.1 97.6L112.4 100.0L112.8 102.4L113.2 104.8L113.5 107.2L113.9 109.6L114.3 112.0L114.6 114.4L115.0 116.7L115.3 119.1L115.7 121.4L116.1 123.8L116.4 126.1L116.8 128.3L117.2 130.6L117.5 132.7L117.9 134.9L118.2 137.0L118.6 139.0L119.0 141.0L119.3 143.0L119.7 144.9L120.0 146.7L120.4 148.4L120.8 150.1L121.1 151.7L121.5 153.3L121.9 154.7L122.2 156.0L122.6 157.3L122.9 158.5L123.3 159.6L123.7 160.5L124.0 161.4L124.4 162.1L124.8 162.8L125.1 163.3L125.5 163.7L125.8 164.0L126.2 164.2L126.6 164.2L126.9 164.1L127.3 163.8L127.7 163.4L128.0 162.9L128.4 162.3L128.7 161.5L129.1 160.7L129.5 159.7L129.8 158.6L130.2 157.4L130.6 156.1L130.9 154.8L131.3 153.3L131.6 151.7L132.0 150.1L132.4 148.4L132.7 146.6L133.1 144.7L133.5 142.8L133.8 140.8L134.2 138.8L134.5 136.7L134.9 134.6L135.3 132.4L135.6 130.1L136.0 127.9L136.4 125.6L136.7 123.3L137.1 120.9L137.4 118.5L137.8 116.2L138.2 113.8L138.5 111.4L138.9 109.0L139.3 106.5L139.6 104.1L140.0 101.8L140.3 99.4L140.7 97.0L141.1 94.7L141.4 92.4L141.8 90.1L142.2 87.8L142.5 85.6L142.9 83.4L143.2 81.3L143.6 79.2L144.0 77.2L144.3 75.2L144.7 73.3L145.1 71.5L145.4 69.7L145.8 68.1L146.1 66.4L146.5 64.9L146.9 63.5L147.2 62.1L147.6 60.9L148.0 59.7L148.3 58.7L148.7 57.7L149.0 56.9L149.4 56.2L149.8 55.6L150.1 55.1L150.5 54.8L150.9 54.6L151.2 54.5L151.6 54.6L151.9 54.8L152.3 55.2L152.7 55.7L153.0 56.3L153.4 57.1L153.8 57.9L154.1 58.9L154.5 60.1L154.8 61.3L155.2 62.6L155.6 64.0L155.9 65.5L156.3 67.2L156.7 68.8L157.0 70.6L157.4 72.5L157.7 74.4L158.1 76.4L158.5 78.4L158.8 80.6L159.2 82.7L159.6 84.9L159.9 87.2L160.3 89.5L160.6 91.8L161.0 94.2L161.4 96.6L161.7 99.0L162.1 101.4L162.5 103.8L162.8 106.3L163.2 108.7L163.5 111.2L163.9 113.6L164.3 116.0L164.6 118.4L165.0 120.8L165.3 123.2L165.7 125.5L166.1 127.8L166.4 130.1L166.8 132.3L167.2 134.5L167.5 136.6L167.9 138.6L168.2 140.6L168.6 142.5L169.0 144.4L169.3 146.2L169.7 147.9L170.1 149.5L170.4 151.0L170.8 152.4L171.1 153.8L171.5 155.0L171.9 156.1L172.2 157.1L172.6 158.0L173.0 158.7L173.3 159.3L173.7 159.8L174.0 160.2L174.4 160.4L174.8 160.5L175.1 160.4L175.5 160.3L175.9 160.0L176.2 159.6L176.6 159.1L176.9 158.6L177.3 157.9L177.7 157.1L178.0 156.3L178.4 155.3L178.8 154.3L179.1 153.2L179.5 152.0L179.8 150.8L180.2 149.4L180.6 148.0L180.9 146.6L181.3 145.1L181.7 143.5L182.0 141.9L182.4 140.2L182.7 138.5L183.1 136.7L183.5 134.9L183.8 133.1L184.2 131.2L184.6 129.3L184.9 127.4L185.3 125.4L185.6 123.4L186.0 121.4L186.4 119.4L186.7 117.4L187.1 115.3L187.5 113.3L187.8 111.2L188.2 109.2L188.5 107.1L188.9 105.1L189.3 103.1L189.6 101.0L190.0 99.1L190.4 97.1L190.7 95.1L191.1 93.2L191.4 91.3L191.8 89.4L192.2 87.6L192.5 85.8L192.9 84.0L193.3 82.3L193.6 80.7L194.0 79.1L194.3 77.5L194.7 76.0L195.1 74.6L195.4 73.2L195.8 71.9L196.2 70.7L196.5 69.6L196.9 68.5L197.2 67.5L197.6 66.6L198.0 65.7L198.3 65.0L198.7 64.4L199.1 63.8L199.4 63.4L199.8 63.0L200.1 62.8L200.5 62.6L200.9 62.6L201.2 62.7L201.6 63.0L202.0 63.4L202.3 63.9L202.7 64.5L203.0 65.2L203.4 66.1L203.8 67.0L204.1 68.1L204.5 69.2L204.9 70.5L205.2 71.8L205.6 73.3L205.9 74.8L206.3 76.3L206.7 78.0L207.0 79.7L207.4 81.5L207.8 83.3L208.1 85.2L208.5 87.2L208.8 89.2L209.2 91.2L209.6 93.3L209.9 95.4L210.3 97.5L210.6 99.7L211.0 101.8L211.4 104.0L211.7 106.2L212.1 108.4L212.5 110.6L212.8 112.8L213.2 115.0L213.5 117.2L213.9 119.4L214.3 121.5L214.6 123.7L215.0 125.7L215.4 127.8L215.7 129.8L216.1 131.8L216.4 133.7L216.8 135.6L217.2 137.4L217.5 139.2L217.9 140.9L218.3 142.5L218.6 144.1L219.0 145.6L219.3 147.0L219.7 148.3L220.1 149.5L220.4 150.6L220.8 151.6L221.2 152.6L221.5 153.4L221.9 154.1L222.2 154.7L222.6 155.1L223.0 155.4L223.3 155.7L223.7 155.7L224.1 155.7L224.4 155.5L224.8 155.2L225.1 154.8L225.5 154.4L225.9 153.8L226.2 153.1L226.6 152.3L227.0 151.5L227.3 150.6L227.7 149.5L228.0 148.4L228.4 147.3L228.8 146.0L229.1 144.7L229.5 143.4L229.9 141.9L230.2 140.4L230.6 138.9L230.9 137.3L231.3 135.7L231.7 134.0L232.0 132.2L232.4 130.5L232.8 128.7L233.1 126.9L233.5 125.0L233.8 123.1L234.2 121.2L234.6 119.3L234.9 117.4L235.3 115.4L235.7 113.5L236.0 111.5L236.4 109.6L236.7 107.6L237.1 105.7L237.5 103.7L237.8 101.8L238.2 99.9L238.6 98.0L238.9 96.1L239.3 94.3L239.6 92.5L240.0 90.7L240.4 89.0L240.7 87.3L241.1 85.6L241.5 84.0L241.8 82.5L242.2 80.9L242.5 79.5L242.9 78.1L243.3 76.8L243.6 75.5L244.0 74.3L244.4 73.2L244.7 72.2L245.1 71.2L245.4 70.3L245.8 69.5L246.2 68.8L246.5 68.2L246.9 67.7L247.3 67.3L247.6 67.0L248.0 66.8L248.3 66.7L248.7 66.7L249.1 66.8L249.4 67.1L249.8 67.4L250.2 67.9L250.5 68.5L250.9 69.2L251.2 69.9L251.6 70.8L252.0 71.7L252.3 72.8L252.7 73.9L253.1 75.1L253.4 76.3L253.8 77.6L254.1 79.0L254.5 80.5L254.9 82.0L255.2 83.6L255.6 85.2L255.9 86.9L256.3 88.6L256.7 90.4L257.0 92.2L257.4 94.0L257.8 95.8L258.1 97.7L258.5 99.6L258.8 101.5L259.2 103.5L259.6 105.4L259.9 107.4L260.3 109.3L260.7 111.3L261.0 113.2L261.4 115.1L261.7 117.1L262.1 119.0L262.5 120.9L262.8 122.8L263.2 124.6L263.6 126.4L263.9 128.2L264.3 129.9L264.6 131.6L265.0 133.3L265.4 134.9L265.7 136.5L266.1 138.0L266.5 139.4L266.8 140.8L267.2 142.1L267.5 143.3L267.9 144.5L268.3 145.6L268.6 146.6L269.0 147.5L269.4 148.3L269.7 149.0L270.1 149.7L270.4 150.2L270.8 150.7L271.2 151.0L271.5 151.2L271.9 151.3L272.3 151.3L272.6 151.1L273.0 150.9L273.3 150.5L273.7 150.0L274.1 149.4L274.4 148.8L274.8 148.0L275.2 147.1L275.5 146.1L275.9 145.1L276.2 143.9L276.6 142.7L277.0 141.4L277.3 140.1L277.7 138.7L278.1 137.2L278.4 135.6L278.8 134.0L279.1 132.4L279.5 130.7L279.9 129.0L280.2 127.2L280.6 125.4L281.0 123.5L281.3 121.7L281.7 119.8L282.0 117.9L282.4 115.9L282.8 114.0L283.1 112.0L283.5 110.1L283.9 108.1L284.2 106.2L284.6 104.2L284.9 102.3L285.3 100.4L285.7 98.5L286.0 96.6L286.4 94.8L286.8 93.0L287.1 91.2L287.5 89.5L287.8 87.8L288.2 86.1L288.6 84.5L288.9 83.0L289.3 81.5L289.7 80.1L290.0 78.7L290.4 77.4L290.7 76.2L291.1 75.1L291.5 74.0L291.8 73.1L292.2 72.2L292.6 71.4L292.9 70.7L293.3 70.1L293.6 69.7L294.0 69.3L294.4 69.0L294.7 68.9L295.1 68.9L295.5 69.0L295.8 69.2L296.2 69.4L296.5 69.8L296.9 70.3L297.3 70.9L297.6 71.5L298.0 72.2L298.4 73.0L298.7 73.9L299.1 74.9L299.4 75.9L299.8 77.0L300.2 78.2L300.5 79.4L300.9 80.7L301.2 82.0L301.6 83.4L302.0 84.9L302.3 86.3L302.7 87.9L303.1 89.4L303.4 91.0L303.8 92.7L304.1 94.3L304.5 96.0L304.9 97.8L305.2 99.5L305.6 101.3L306.0 103.0L306.3 104.8L306.7 106.6L307.0 108.4L307.4 110.2L307.8 112.0L308.1 113.8L308.5 115.6L308.9 117.4L309.2 119.1L309.6 120.9L309.9 122.6L310.3 124.3L310.7 126.0L311.0 127.7L311.4 129.3L311.8 130.9L312.1 132.4L312.5 134.0L312.8 135.4L313.2 136.9L313.6 138.2L313.9 139.5L314.3 140.8L314.7 142.0L315.0 143.2L315.4 144.2L315.7 145.2L316.1 146.2L316.5 147.0L316.8 147.8L317.2 148.5L317.6 149.1L317.9 149.7L318.3 150.1L318.6 150.5L319.0 150.7L319.4 150.9L319.7 150.9L320.1 150.9L320.5 150.8L320.8 150.7L321.2 150.6L321.5 150.4L321.9 150.1L322.3 149.8L322.6 149.4L323.0 149.1L323.4 148.6L323.7 148.1L324.1 147.6L324.4 147.0L324.8 146.4L325.2 145.8L325.5 145.0L325.9 144.3L326.3 143.5L326.6 142.7L327.0 141.8L327.3 140.9L327.7 139.9L328.1 138.9L328.4 137.8L328.8 136.7L329.2 135.6L329.5 134.4L329.9 133.2" fill="none" stroke="#c0583a" stroke-width="0.65"/>
<path d="M28.0 187.0L28.4 187.0L28.7 187.0L29.1 187.0L29.4 187.0L29.8 187.0L30.2 187.0L30.5 187.0L30.9 187.0L31.3 187.0L31.6 187.0L32.0 187.0L32.3 187.0L32.7 187.0L33.1 187.0L33.4 187.0L33.8 185.9L34.2 182.8L34.5 178.3L34.9 172.8L35.2 167.0L35.6 161.1L36.0 155.8L36.3 150.0L36.7 143.7L37.1 137.0L37.4 130.2L37.8 123.4L38.1 117.0L38.5 111.1L38.9 106.0L39.2 101.4L39.6 96.8L40.0 92.4L40.3 88.0L40.7 83.9L41.0 79.9L41.4 76.2L41.8 72.9L42.1 69.8L42.5 67.2L42.9 64.9L43.2 63.2L43.6 61.5L43.9 59.9L44.3 58.3L44.7 56.8L45.0 55.4L45.4 54.1L45.8 53.0L46.1 51.9L46.5 51.1L46.8 50.3L47.2 49.8L47.6 49.5L47.9 49.4L48.3 49.5L48.7 49.9L49.0 50.5L49.4 51.3L49.7 52.4L50.1 53.7L50.5 55.1L50.8 56.8L51.2 58.6L51.6 60.5L51.9 62.7L52.3 64.9L52.6 67.3L53.0 69.8L53.4 72.4L53.7 75.1L54.1 77.9L54.5 80.8L54.8 83.7L55.2 86.7L55.5 89.7L55.9 92.8L56.3 95.8L56.6 98.9L57.0 102.0L57.4 105.0L57.7 108.0L58.1 111.0L58.4 114.0L58.8 116.8L59.2 119.6L59.5 122.4L59.9 125.0L60.3 127.5L60.6 129.9L61.0 132.2L61.3 134.4L61.7 136.4L62.1 138.2L62.4 139.9L62.8 141.5L63.2 143.2L63.5 144.9L63.9 146.6L64.2 148.3L64.6 150.0L65.0 151.8L65.3 153.5L65.7 155.1L66.1 156.7L66.4 158.2L66.8 159.7L67.1 161.1L67.5 162.4L67.9 163.5L68.2 164.6L68.6 165.5L69.0 166.2L69.3 166.8L69.7 167.2L70.0 167.5L70.4 167.5L70.8 167.3L71.1 167.0L71.5 166.5L71.9 165.9L72.2 165.3L72.6 164.5L72.9 163.8L73.3 163.0L73.7 162.2L74.0 161.5L74.4 160.9L74.7 160.4L75.1 160.0L75.5 159.8L75.8 159.8L76.2 159.8L76.6 159.8L76.9 159.9L77.3 159.9L77.6 160.0L78.0 160.1L78.4 160.2L78.7 160.2L79.1 160.3L79.5 160.4L79.8 160.5L80.2 160.6L80.5 160.7L80.9 160.7L81.3 160.8L81.6 160.8L82.0 160.9L82.4 160.9L82.7 160.8L83.1 160.5L83.4 160.0L83.8 159.4L84.2 158.6L84.5 157.8L84.9 156.9L85.3 155.9L85.6 154.9L86.0 153.9L86.3 152.7L86.7 151.4L87.1 149.8L87.4 148.1L87.8 146.3L88.2 144.4L88.5 142.4L88.9 140.5L89.2 138.6L89.6 136.5L90.0 134.3L90.3 131.9L90.7 129.4L91.1 126.8L91.4 124.1L91.8 121.3L92.1 118.4L92.5 115.4L92.9 112.4L93.2 109.4L93.6 106.3L94.0 103.2L94.3 100.1L94.7 97.1L95.0 94.1L95.4 91.1L95.8 88.1L96.1 85.3L96.5 82.5L96.9 79.8L97.2 77.3L97.6 74.8L97.9 72.5L98.3 70.3L98.7 68.3L99.0 66.5L99.4 64.8L99.8 63.4L100.1 62.2L100.5 61.2L100.8 60.4L101.2 59.9L101.6 59.7L101.9 59.7L102.3 59.9L102.7 60.3L103.0 60.8L103.4 61.5L103.7 62.3L104.1 63.2L104.5 64.3L104.8 65.5L105.2 66.8L105.6 68.3L105.9 69.9L106.3 71.5L106.6 73.3L107.0 75.1L107.4 77.1L107.7 79.1L108.1 81.2L108.5 83.3L108.8 85.5L109.2 87.8L109.5 90.2L109.9 92.5L110.3 94.9L110.6 97.4L111.0 99.8L111.4 102.3L111.7 104.8L112.1 107.4L112.4 109.9L112.8 112.4L113.2 114.9L113.5 117.4L113.9 119.9L114.3 122.3L114.6 124.7L115.0 127.1L115.3 129.4L115.7 131.7L116.1 133.9L116.4 136.1L116.8 138.2L117.2 140.2L117.5 142.1L117.9 144.0L118.2 145.7L118.6 147.4L119.0 148.9L119.3 150.4L119.7 151.7L120.0 152.9L120.4 154.0L120.8 155.0L121.1 155.8L121.5 156.4L121.9 157.0L122.2 157.3L122.6 157.5L122.9 157.6L123.3 157.4L123.7 157.2L124.0 156.9L124.4 156.4L124.8 155.8L125.1 155.1L125.5 154.3L125.8 153.4L126.2 152.4L126.6 151.3L126.9 150.1L127.3 148.8L127.7 147.5L128.0 146.0L128.4 144.5L128.7 143.0L129.1 141.3L129.5 139.6L129.8 137.9L130.2 136.1L130.6 134.2L130.9 132.4L131.3 130.4L131.6 128.5L132.0 126.5L132.4 124.5L132.7 122.4L133.1 120.3L133.5 118.3L133.8 116.2L134.2 114.1L134.5 112.0L134.9 109.9L135.3 107.8L135.6 105.8L136.0 103.7L136.4 101.7L136.7 99.7L137.1 97.7L137.4 95.7L137.8 93.8L138.2 91.9L138.5 90.1L138.9 88.3L139.3 86.6L139.6 84.9L140.0 83.3L140.3 81.8L140.7 80.3L141.1 78.9L141.4 77.6L141.8 76.3L142.2 75.2L142.5 74.1L142.9 73.1L143.2 72.2L143.6 71.5L144.0 70.8L144.3 70.3L144.7 69.8L145.1 69.5L145.4 69.3L145.8 69.2L146.1 69.3L146.5 69.5L146.9 69.8L147.2 70.3L147.6 70.9L148.0 71.6L148.3 72.4L148.7 73.3L149.0 74.3L149.4 75.4L149.8 76.6L150.1 77.9L150.5 79.3L150.9 80.8L151.2 82.3L151.6 83.9L151.9 85.5L152.3 87.3L152.7 89.0L153.0 90.9L153.4 92.7L153.8 94.7L154.1 96.6L154.5 98.6L154.8 100.6L155.2 102.6L155.6 104.7L155.9 106.7L156.3 108.8L156.7 110.9L157.0 113.0L157.4 115.0L157.7 117.1L158.1 119.1L158.5 121.1L158.8 123.1L159.2 125.1L159.6 127.1L159.9 128.9L160.3 130.8L160.6 132.6L161.0 134.4L161.4 136.1L161.7 137.7L162.1 139.3L162.5 140.8L162.8 142.2L163.2 143.5L163.5 144.8L163.9 146.0L164.3 147.0L164.6 148.0L165.0 148.9L165.3 149.6L165.7 150.3L166.1 150.8L166.4 151.2L166.8 151.5L167.2 151.6L167.5 151.7L167.9 151.5L168.2 151.3L168.6 150.9L169.0 150.4L169.3 149.8L169.7 149.0L170.1 148.2L170.4 147.3L170.8 146.2L171.1 145.1L171.5 143.9L171.9 142.6L172.2 141.2L172.6 139.7L173.0 138.2L173.3 136.6L173.7 134.9L174.0 133.2L174.4 131.4L174.8 129.6L175.1 127.8L175.5 125.9L175.9 123.9L176.2 122.0L176.6 120.0L176.9 118.0L177.3 115.9L177.7 113.9L178.0 111.9L178.4 109.8L178.8 107.8L179.1 105.8L179.5 103.7L179.8 101.7L180.2 99.8L180.6 97.8L180.9 95.9L181.3 94.0L181.7 92.1L182.0 90.3L182.4 88.6L182.7 86.9L183.1 85.2L183.5 83.6L183.8 82.1L184.2 80.7L184.6 79.3L184.9 78.0L185.3 76.8L185.6 75.7L186.0 74.7L186.4 73.8L186.7 73.0L187.1 72.3L187.5 71.7L187.8 71.2L188.2 70.9L188.5 70.6L188.9 70.6L189.3 70.6L189.6 70.8L190.0 71.1L190.4 71.5L190.7 72.1L191.1 72.7L191.4 73.5L191.8 74.3L192.2 75.3L192.5 76.4L192.9 77.5L193.3 78.8L193.6 80.1L194.0 81.5L194.3 83.0L194.7 84.5L195.1 86.1L195.4 87.8L195.8 89.5L196.2 91.3L196.5 93.1L196.9 95.0L197.2 96.9L197.6 98.8L198.0 100.7L198.3 102.7L198.7 104.7L199.1 106.7L199.4 108.7L199.8 110.7L200.1 112.8L200.5 114.8L200.9 116.8L201.2 118.8L201.6 120.7L202.0 122.7L202.3 124.6L202.7 126.5L203.0 128.3L203.4 130.2L203.8 131.9L204.1 133.6L204.5 135.3L204.9 136.9L205.2 138.4L205.6 139.9L205.9 141.3L206.3 142.6L206.7 143.9L207.0 145.0L207.4 146.1L207.8 147.0L208.1 147.9L208.5 148.6L208.8 149.3L209.2 149.8L209.6 150.2L209.9 150.5L210.3 150.7L210.6 150.7L211.0 150.6L211.4 150.4L211.7 150.1L212.1 149.6L212.5 149.0L212.8 148.3L213.2 147.5L213.5 146.6L213.9 145.6L214.3 144.5L214.6 143.4L215.0 142.1L215.4 140.8L215.7 139.4L216.1 137.9L216.4 136.3L216.8 134.7L217.2 133.1L217.5 131.4L217.9 129.6L218.3 127.8L218.6 126.0L219.0 124.1L219.3 122.2L219.7 120.3L220.1 118.3L220.4 116.3L220.8 114.4L221.2 112.4L221.5 110.4L221.9 108.4L222.2 106.4L222.6 104.5L223.0 102.5L223.3 100.6L223.7 98.7L224.1 96.8L224.4 95.0L224.8 93.2L225.1 91.4L225.5 89.7L225.9 88.0L226.2 86.4L226.6 84.9L227.0 83.4L227.3 82.0L227.7 80.6L228.0 79.3L228.4 78.2L228.8 77.1L229.1 76.1L229.5 75.2L229.9 74.4L230.2 73.7L230.6 73.1L230.9 72.6L231.3 72.2L231.7 72.0L232.0 71.9L232.4 71.9L232.8 72.1L233.1 72.3L233.5 72.7L233.8 73.2L234.2 73.9L234.6 74.6L234.9 75.4L235.3 76.3L235.7 77.4L236.0 78.5L236.4 79.7L236.7 80.9L237.1 82.3L237.5 83.7L237.8 85.2L238.2 86.8L238.6 88.4L238.9 90.0L239.3 91.7L239.6 93.5L240.0 95.3L240.4 97.1L240.7 99.0L241.1 100.9L241.5 102.8L241.8 104.7L242.2 106.7L242.5 108.6L242.9 110.6L243.3 112.6L243.6 114.5L244.0 116.5L244.4 118.4L244.7 120.3L245.1 122.2L245.4 124.1L245.8 125.9L246.2 127.7L246.5 129.5L246.9 131.2L247.3 132.9L247.6 134.5L248.0 136.1L248.3 137.6L248.7 139.0L249.1 140.4L249.4 141.7L249.8 142.9L250.2 144.1L250.5 145.1L250.9 146.1L251.2 146.9L251.6 147.7L252.0 148.3L252.3 148.9L252.7 149.3L253.1 149.6L253.4 149.8L253.8 149.8L254.1 149.7L254.5 149.5L254.9 149.2L255.2 148.8L255.6 148.2L255.9 147.6L256.3 146.8L256.7 146.0L257.0 145.0L257.4 144.0L257.8 142.9L258.1 141.6L258.5 140.4L258.8 139.0L259.2 137.6L259.6 136.1L259.9 134.5L260.3 132.9L260.7 131.3L261.0 129.6L261.4 127.8L261.7 126.0L262.1 124.2L262.5 122.4L262.8 120.5L263.2 118.6L263.6 116.7L263.9 114.8L264.3 112.9L264.6 110.9L265.0 109.0L265.4 107.1L265.7 105.2L266.1 103.3L266.5 101.4L266.8 99.5L267.2 97.7L267.5 95.9L267.9 94.2L268.3 92.4L268.6 90.8L269.0 89.1L269.4 87.6L269.7 86.0L270.1 84.6L270.4 83.2L270.8 81.9L271.2 80.6L271.5 79.5L271.9 78.4L272.3 77.4L272.6 76.5L273.0 75.7L273.3 75.0L273.7 74.4L274.1 73.9L274.4 73.6L274.8 73.3L275.2 73.2L275.5 73.2L275.9 73.3L276.2 73.6L276.6 73.9L277.0 74.4L277.3 75.0L277.7 75.7L278.1 76.5L278.4 77.4L278.8 78.3L279.1 79.4L279.5 80.6L279.9 81.8L280.2 83.1L280.6 84.5L281.0 85.9L281.3 87.4L281.7 88.9L282.0 90.6L282.4 92.2L282.8 93.9L283.1 95.6L283.5 97.4L283.9 99.2L284.2 101.1L284.6 102.9L284.9 104.8L285.3 106.7L285.7 108.6L286.0 110.5L286.4 112.4L286.8 114.3L287.1 116.2L287.5 118.1L287.8 119.9L288.2 121.8L288.6 123.6L288.9 125.4L289.3 127.2L289.7 128.9L290.0 130.6L290.4 132.2L290.7 133.8L291.1 135.3L291.5 136.8L291.8 138.2L292.2 139.6L292.6 140.8L292.9 142.0L293.3 143.1L293.6 144.2L294.0 145.1L294.4 145.9L294.7 146.7L295.1 147.3L295.5 147.9L295.8 148.3L296.2 148.6L296.5 148.8L296.9 148.9L297.3 148.8L297.6 148.7L298.0 148.4L298.4 148.0L298.7 147.5L299.1 146.8L299.4 146.1L299.8 145.3L300.2 144.4L300.5 143.4L300.9 142.3L301.2 141.2L301.6 139.9L302.0 138.6L302.3 137.2L302.7 135.8L303.1 134.3L303.4 132.8L303.8 131.2L304.1 129.5L304.5 127.8L304.9 126.1L305.2 124.3L305.6 122.6L306.0 120.8L306.3 118.9L306.7 117.1L307.0 115.2L307.4 113.3L307.8 111.5L308.1 109.6L308.5 107.7L308.9 105.9L309.2 104.0L309.6 102.2L309.9 100.4L310.3 98.6L310.7 96.9L311.0 95.1L311.4 93.5L311.8 91.8L312.1 90.2L312.5 88.7L312.8 87.2L313.2 85.8L313.6 84.4L313.9 83.2L314.3 81.9L314.7 80.8L315.0 79.7L315.4 78.8L315.7 77.9L316.1 77.1L316.5 76.4L316.8 75.8L317.2 75.3L317.6 74.9L317.9 74.7L318.3 74.5L318.6 74.5L319.0 74.5L319.4 74.6L319.7 74.7L320.1 74.9L320.5 75.1L320.8 75.3L321.2 75.6L321.5 75.9L321.9 76.3L322.3 76.7L322.6 77.1L323.0 77.6L323.4 78.2L323.7 78.7L324.1 79.3L324.4 80.0L324.8 80.7L325.2 81.4L325.5 82.2L325.9 83.0L326.3 83.9L326.6 84.8L327.0 85.7L327.3 86.7L327.7 87.7L328.1 88.8L328.4 89.9L328.8 91.1L329.2 92.3L329.5 93.5L329.9 94.8" fill="none" stroke="#2f72ad" stroke-width="0.65"/>
<path d="M372.5 189.2L372.9 189.2L373.2 189.2L373.6 189.2L374.0 189.2L374.3 189.2L374.7 189.2L375.1 189.2L375.4 189.2L375.8 189.2L376.2 189.2L376.5 189.2L376.9 189.2L377.3 189.2L377.6 189.2L378.0 189.2L378.4 189.2L378.7 189.2L379.1 189.2L379.5 189.2L379.8 189.2L380.2 189.2L380.6 189.2L380.9 189.2L381.3 189.2L381.7 189.2L382.0 189.2L382.4 189.2L382.8 189.2L383.1 189.2L383.5 189.2L383.9 189.2L384.2 189.2L384.6 189.2L385.0 189.2L385.3 189.2L385.7 189.2L386.1 189.2L386.4 189.2L386.8 189.2L387.2 189.2L387.5 189.2L387.9 189.2L388.3 189.2L388.6 189.2L389.0 189.2L389.4 189.2L389.7 189.2L390.1 189.2L390.5 189.2L390.8 189.2L391.2 189.2L391.6 189.2L391.9 189.2L392.3 189.2L392.7 189.2L393.0 189.2L393.4 189.2L393.8 189.2L394.1 189.2L394.5 189.2L394.9 189.2L395.2 189.2L395.6 189.2L396.0 189.1L396.3 188.5L396.7 187.4L397.1 185.9L397.4 184.0L397.8 181.8L398.2 179.3L398.5 176.5L398.9 173.4L399.3 170.2L399.6 166.9L400.0 163.5L400.4 160.0L400.7 156.5L401.1 153.1L401.5 149.5L401.8 145.3L402.2 140.5L402.6 135.2L402.9 129.5L403.3 123.6L403.7 117.5L404.0 111.5L404.4 105.5L404.8 99.7L405.1 94.2L405.5 89.2L405.9 84.7L406.2 80.9L406.6 77.1L407.0 73.3L407.3 69.5L407.7 65.7L408.1 61.9L408.4 58.2L408.8 54.6L409.2 51.1L409.5 47.8L409.9 44.7L410.3 41.9L410.6 39.3L411.0 37.0L411.4 35.1L411.7 33.5L412.1 32.4L412.5 31.6L412.8 31.4L413.2 31.8L413.6 33.1L413.9 35.1L414.3 37.7L414.7 40.8L415.0 44.5L415.4 48.4L415.8 52.7L416.1 57.1L416.5 61.6L416.9 66.1L417.2 70.5L417.6 74.7L418.0 78.6L418.3 82.1L418.7 85.6L419.1 89.4L419.4 93.3L419.8 97.5L420.2 101.8L420.5 106.1L420.9 110.5L421.3 114.8L421.6 119.1L422.0 123.3L422.4 127.3L422.7 131.1L423.1 134.6L423.5 137.8L423.8 140.6L424.2 143.1L424.6 145.1L424.9 146.5L425.3 147.5L425.7 147.8L426.0 147.7L426.4 147.5L426.8 147.2L427.1 146.8L427.5 146.3L427.9 145.7L428.2 145.0L428.6 144.2L429.0 143.3L429.3 142.3L429.7 141.3L430.1 140.1L430.4 138.9L430.8 137.6L431.2 136.3L431.5 134.9L431.9 133.4L432.3 131.9L432.6 130.3L433.0 128.7L433.4 127.0L433.7 125.4L434.1 123.6L434.5 121.9L434.8 120.1L435.2 118.3L435.6 116.5L435.9 114.7L436.3 112.8L436.7 111.0L437.0 109.2L437.4 107.3L437.8 105.5L438.1 103.7L438.5 101.9L438.9 100.1L439.2 98.4L439.6 96.6L440.0 94.9L440.3 93.3L440.7 91.7L441.1 90.1L441.4 88.6L441.8 87.1L442.2 85.7L442.5 84.4L442.9 83.1L443.3 81.9L443.6 80.7L444.0 79.7L444.4 78.7L444.7 77.8L445.1 77.0L445.5 76.3L445.8 75.7L446.2 75.2L446.6 74.8L446.9 74.5L447.3 74.3L447.7 74.2L448.0 74.3L448.4 74.5L448.8 74.8L449.1 75.2L449.5 75.8L449.9 76.4L450.2 77.1L450.6 78.0L451.0 78.9L451.3 79.9L451.7 80.9L452.1 82.1L452.4 83.3L452.8 84.5L453.2 85.8L453.5 87.1L453.9 88.5L454.3 89.9L454.6 91.3L455.0 92.8L455.4 94.2L455.7 95.7L456.1 97.1L456.5 98.5L456.8 100.0L457.2 101.4L457.6 102.7L457.9 104.1L458.3 105.4L458.7 106.7L459.0 107.9L459.4 109.0L459.8 110.1L460.1 111.1L460.5 112.1L460.9 112.9L461.2 113.7L461.6 114.4L462.0 114.9L462.3 115.4L462.7 115.8L463.1 116.0L463.4 116.1L463.8 116.1L464.1 115.9L464.5 115.5L464.9 115.0L465.2 114.3L465.6 113.5L466.0 112.5L466.3 111.5L466.7 110.3L467.1 109.1L467.4 107.7L467.8 106.3L468.2 104.8L468.5 103.3L468.9 101.7L469.3 100.1L469.6 98.4L470.0 96.8L470.4 95.1L470.7 93.4L471.1 91.7L471.5 90.1L471.8 88.5L472.2 86.9L472.6 85.4L472.9 84.0L473.3 82.6L473.7 81.3L474.0 80.2L474.4 79.1L474.8 78.1L475.1 77.2L475.5 76.5L475.9 75.9L476.2 75.5L476.6 75.2L477.0 75.2L477.3 75.2L477.7 75.4L478.1 75.6L478.4 76.0L478.8 76.5L479.2 77.0L479.5 77.7L479.9 78.4L480.3 79.2L480.6 80.0L481.0 81.0L481.4 82.0L481.7 83.0L482.1 84.1L482.5 85.2L482.8 86.4L483.2 87.6L483.6 88.9L483.9 90.2L484.3 91.5L484.7 92.8L485.0 94.1L485.4 95.4L485.8 96.8L486.1 98.1L486.5 99.4L486.9 100.7L487.2 102.0L487.6 103.3L488.0 104.5L488.3 105.7L488.7 106.9L489.1 108.0L489.4 109.1L489.8 110.1L490.2 111.1L490.5 112.0L490.9 112.8L491.3 113.6L491.6 114.3L492.0 114.9L492.4 115.4L492.7 115.9L493.1 116.2L493.5 116.4L493.8 116.6L494.2 116.6L494.6 116.5L494.9 116.3L495.3 116.1L495.7 115.8L496.0 115.4L496.4 115.0L496.8 114.5L497.1 113.9L497.5 113.2L497.9 112.6L498.2 111.8L498.6 111.0L499.0 110.2L499.3 109.4L499.7 108.5L500.1 107.5L500.4 106.6L500.8 105.6L501.2 104.6L501.5 103.6L501.9 102.6L502.3 101.6L502.6 100.5L503.0 99.5L503.4 98.5L503.7 97.4L504.1 96.4L504.5 95.4L504.8 94.5L505.2 93.5L505.6 92.6L505.9 91.7L506.3 90.8L506.7 90.0L507.0 89.2L507.4 88.5L507.8 87.8L508.1 87.2L508.5 86.6L508.9 86.1L509.2 85.6L509.6 85.2L510.0 84.9L510.3 84.7L510.7 84.5L511.1 84.5L511.4 84.5L511.8 84.6L512.2 84.9L512.5 85.2L512.9 85.6L513.3 86.1L513.6 86.7L514.0 87.4L514.4 88.1L514.7 88.9L515.1 89.7L515.5 90.6L515.8 91.5L516.2 92.5L516.6 93.5L516.9 94.5L517.3 95.5L517.7 96.5L518.0 97.5L518.4 98.5L518.8 99.5L519.1 100.5L519.5 101.4L519.9 102.3L520.2 103.2L520.6 104.0L521.0 104.8L521.3 105.5L521.7 106.2L522.1 106.7L522.4 107.2L522.8 107.6L523.2 107.9L523.5 108.1L523.9 108.2L524.3 108.2L524.6 108.1L525.0 108.0L525.4 107.8L525.7 107.5L526.1 107.2L526.5 106.9L526.8 106.5L527.2 106.1L527.6 105.6L527.9 105.0L528.3 104.5L528.7 103.9L529.0 103.3L529.4 102.6L529.8 102.0L530.1 101.3L530.5 100.6L530.9 99.8L531.2 99.1L531.6 98.4L532.0 97.6L532.3 96.8L532.7 96.1L533.1 95.3L533.4 94.6L533.8 93.8L534.2 93.1L534.5 92.3L534.9 91.6L535.3 90.9L535.6 90.2L536.0 89.6L536.4 89.0L536.7 88.4L537.1 87.8L537.5 87.3L537.8 86.8L538.2 86.3L538.6 85.9L538.9 85.5L539.3 85.2L539.7 85.0L540.0 84.7L540.4 84.6L540.8 84.5L541.1 84.5L541.5 84.5L541.9 84.6L542.2 84.8L542.6 85.0L543.0 85.3L543.3 85.7L543.7 86.1L544.1 86.5L544.4 87.1L544.8 87.6L545.2 88.2L545.5 88.8L545.9 89.5L546.3 90.2L546.6 90.9L547.0 91.6L547.4 92.4L547.7 93.2L548.1 94.0L548.5 94.8L548.8 95.6L549.2 96.4L549.6 97.2L549.9 98.0L550.3 98.8L550.7 99.5L551.0 100.3L551.4 101.1L551.8 101.8L552.1 102.5L552.5 103.2L552.9 103.8L553.2 104.4L553.6 105.0L554.0 105.5L554.3 106.0L554.7 106.4L555.1 106.8L555.4 107.1L555.8 107.3L556.2 107.5L556.5 107.7L556.9 107.7L557.3 107.7L557.6 107.6L558.0 107.5L558.4 107.3L558.7 107.0L559.1 106.6L559.5 106.2L559.8 105.8L560.2 105.3L560.6 104.7L560.9 104.1L561.3 103.5L561.7 102.8L562.0 102.1L562.4 101.4L562.8 100.6L563.1 99.8L563.5 99.0L563.9 98.2L564.2 97.3L564.6 96.5L565.0 95.6L565.3 94.8L565.7 93.9L566.1 93.1L566.4 92.3L566.8 91.4L567.2 90.6L567.5 89.8L567.9 89.0L568.3 88.3L568.6 87.5L569.0 86.9L569.4 86.2L569.7 85.6L570.1 85.0L570.5 84.4L570.8 84.0L571.2 83.5L571.6 83.1L571.9 82.8L572.3 82.5L572.7 82.3L573.0 82.2L573.4 82.1L573.8 82.2L574.1 82.2L574.5 82.4L574.9 82.6L575.2 82.9L575.6 83.3L576.0 83.7L576.3 84.2L576.7 84.8L577.1 85.3L577.4 86.0L577.8 86.6L578.2 87.3L578.5 88.1L578.9 88.9L579.3 89.7L579.6 90.5L580.0 91.4L580.4 92.2L580.7 93.1L581.1 94.0L581.5 94.9L581.8 95.8L582.2 96.7L582.6 97.6L582.9 98.5L583.3 99.3L583.7 100.2L584.0 101.0L584.4 101.9L584.8 102.7L585.1 103.4L585.5 104.2L585.9 104.9L586.2 105.5L586.6 106.1L587.0 106.7L587.3 107.2L587.7 107.7L588.1 108.1L588.4 108.4L588.8 108.7L589.2 108.9L589.5 109.1L589.9 109.1L590.3 109.1L590.6 109.0L591.0 108.9L591.4 108.6L591.7 108.3L592.1 108.0L592.5 107.5L592.8 107.1L593.2 106.5L593.6 105.9L593.9 105.3L594.3 104.6L594.7 103.9L595.0 103.2L595.4 102.4L595.8 101.6L596.1 100.8L596.5 99.9L596.9 99.1L597.2 98.2L597.6 97.3L598.0 96.4L598.3 95.5L598.7 94.6L599.1 93.7L599.4 92.8L599.8 91.9L600.2 91.1L600.5 90.2L600.9 89.4L601.3 88.6L601.6 87.8L602.0 87.1L602.4 86.4L602.7 85.8L603.1 85.1L603.5 84.6L603.8 84.1L604.2 83.6L604.6 83.2L604.9 82.8L605.3 82.6L605.7 82.3L606.0 82.2L606.4 82.1L606.8 82.2L607.1 82.2L607.5 82.4L607.9 82.6L608.2 82.9L608.6 83.3L609.0 83.7L609.3 84.2L609.7 84.8L610.1 85.3L610.4 86.0L610.8 86.6L611.2 87.3L611.5 88.1L611.9 88.9L612.3 89.7L612.6 90.5L613.0 91.4L613.4 92.2L613.7 93.1L614.1 94.0L614.5 94.9L614.8 95.8L615.2 96.7L615.6 97.6L615.9 98.5L616.3 99.3L616.7 100.2L617.0 101.0L617.4 101.9L617.8 102.7L618.1 103.4L618.5 104.2L618.9 104.9L619.2 105.5L619.6 106.1L620.0 106.7L620.3 107.2L620.7 107.7L621.1 108.1L621.4 108.4L621.8 108.7L622.2 108.9L622.5 109.1L622.9 109.1L623.3 109.1L623.6 109.0L624.0 108.9L624.4 108.6L624.7 108.3L625.1 108.0L625.5 107.5L625.8 107.1L626.2 106.5L626.6 105.9L626.9 105.3L627.3 104.6L627.7 103.9L628.0 103.2L628.4 102.4L628.8 101.6L629.1 100.8L629.5 99.9L629.9 99.1L630.2 98.2L630.6 97.3L631.0 96.4L631.3 95.5L631.7 94.6L632.1 93.7L632.4 92.8L632.8 91.9L633.2 91.1L633.5 90.2L633.9 89.4L634.3 88.6L634.6 87.8L635.0 87.1L635.4 86.4L635.7 85.8L636.1 85.1L636.5 84.6L636.8 84.1L637.2 83.6L637.6 83.2L637.9 82.8L638.3 82.6L638.7 82.3L639.0 82.2L639.4 82.1L639.8 82.2L640.1 82.2L640.5 82.4L640.9 82.6L641.2 82.9L641.6 83.3L642.0 83.7L642.3 84.2L642.7 84.8L643.1 85.3L643.4 86.0L643.8 86.6L644.2 87.3L644.5 88.1L644.9 88.9L645.3 89.7L645.6 90.5L646.0 91.4L646.4 92.2L646.7 93.1L647.1 94.0L647.5 94.9L647.8 95.8L648.2 96.7L648.5 97.6L648.9 98.5L649.3 99.3L649.6 100.2L650.0 101.0L650.4 101.9L650.7 102.7L651.1 103.4L651.5 104.2L651.8 104.9L652.2 105.5L652.6 106.1L652.9 106.7L653.3 107.2L653.7 107.7L654.0 108.1L654.4 108.4L654.8 108.7L655.1 108.9L655.5 109.1L655.9 109.1L656.2 109.1L656.6 109.0L657.0 108.9L657.3 108.6L657.7 108.3L658.1 108.0L658.4 107.5L658.8 107.1L659.2 106.5L659.5 105.9L659.9 105.3L660.3 104.6L660.6 103.9L661.0 103.2L661.4 102.4L661.7 101.6L662.1 100.8L662.5 99.9L662.8 99.1L663.2 98.2L663.6 97.3L663.9 96.4L664.3 95.5L664.7 94.6L665.0 93.7L665.4 92.8L665.8 91.9L666.1 91.1L666.5 90.2L666.9 89.4L667.2 88.6L667.6 87.8L668.0 87.1L668.3 86.4L668.7 85.8L669.1 85.1L669.4 84.6L669.8 84.1L670.2 83.6L670.5 83.2L670.9 82.8L671.3 82.6L671.6 82.3L672.0 82.2L672.4 82.1L672.7 82.2L673.1 82.2L673.5 82.4L673.8 82.6L674.2 82.9L674.6 83.3L674.9 83.7L675.3 84.2L675.7 84.8L676.0 85.3L676.4 86.0L676.8 86.6L677.1 87.3L677.5 88.1L677.9 88.9" fill="none" stroke="#76893a" stroke-width="0.65"/>
<path d="M372.5 189.2L372.9 189.2L373.2 189.2L373.6 189.2L374.0 189.2L374.3 189.2L374.7 189.2L375.1 189.2L375.4 189.2L375.8 189.2L376.2 189.2L376.5 189.2L376.9 189.2L377.3 189.2L377.6 189.2L378.0 189.2L378.4 189.2L378.7 189.2L379.1 189.2L379.5 189.2L379.8 189.2L380.2 189.2L380.6 189.2L380.9 189.2L381.3 189.2L381.7 189.2L382.0 189.2L382.4 189.2L382.8 189.2L383.1 189.2L383.5 189.2L383.9 189.2L384.2 189.2L384.6 189.2L385.0 189.2L385.3 189.2L385.7 189.2L386.1 189.2L386.4 189.2L386.8 189.2L387.2 189.2L387.5 189.2L387.9 189.2L388.3 189.2L388.6 189.2L389.0 189.2L389.4 189.2L389.7 189.2L390.1 189.2L390.5 189.2L390.8 189.2L391.2 189.2L391.6 189.2L391.9 189.2L392.3 189.2L392.7 189.2L393.0 189.2L393.4 189.2L393.8 189.2L394.1 189.2L394.5 189.2L394.9 189.2L395.2 189.2L395.6 189.2L396.0 189.0L396.3 188.3L396.7 186.9L397.1 185.0L397.4 182.7L397.8 179.9L398.2 176.8L398.5 173.5L398.9 169.8L399.3 166.1L399.6 162.2L400.0 158.3L400.4 154.5L400.7 150.7L401.1 146.2L401.5 141.0L401.8 135.3L402.2 129.1L402.6 122.7L402.9 116.2L403.3 109.8L403.7 103.6L404.0 97.9L404.4 92.6L404.8 88.1L405.1 84.2L405.5 80.3L405.9 76.3L406.2 72.4L406.6 68.5L407.0 64.8L407.3 61.3L407.7 58.2L408.1 55.3L408.4 52.9L408.8 51.0L409.2 49.6L409.5 48.8L409.9 48.7L410.3 49.8L410.6 52.2L411.0 55.5L411.4 59.7L411.7 64.5L412.1 69.7L412.5 75.1L412.8 80.5L413.2 85.7L413.6 90.6L413.9 94.8L414.3 98.6L414.7 102.6L415.0 106.8L415.4 111.2L415.8 115.5L416.1 119.9L416.5 124.2L416.9 128.3L417.2 132.1L417.6 135.6L418.0 138.7L418.3 141.3L418.7 143.4L419.1 144.7L419.4 145.4L419.8 145.4L420.2 145.3L420.5 145.1L420.9 144.8L421.3 144.4L421.6 143.9L422.0 143.4L422.4 142.7L422.7 142.0L423.1 141.3L423.5 140.5L423.8 139.6L424.2 138.8L424.6 137.8L424.9 136.9L425.3 135.9L425.7 134.8L426.0 133.8L426.4 132.8L426.8 131.7L427.1 130.7L427.5 129.6L427.9 128.6L428.2 127.5L428.6 126.5L429.0 125.5L429.3 124.6L429.7 123.7L430.1 122.8L430.4 122.0L430.8 121.2L431.2 120.3L431.5 119.5L431.9 118.6L432.3 117.7L432.6 116.7L433.0 115.8L433.4 114.8L433.7 113.8L434.1 112.8L434.5 111.8L434.8 110.7L435.2 109.7L435.6 108.6L435.9 107.6L436.3 106.6L436.7 105.5L437.0 104.5L437.4 103.5L437.8 102.4L438.1 101.4L438.5 100.4L438.9 99.5L439.2 98.5L439.6 97.6L440.0 96.7L440.3 95.8L440.7 95.0L441.1 94.2L441.4 93.4L441.8 92.7L442.2 92.0L442.5 91.3L442.9 90.7L443.3 90.2L443.6 89.7L444.0 89.2L444.4 88.8L444.7 88.5L445.1 88.2L445.5 88.0L445.8 87.8L446.2 87.7L446.6 87.7L446.9 87.8L447.3 88.0L447.7 88.3L448.0 88.6L448.4 89.0L448.8 89.5L449.1 90.1L449.5 90.7L449.9 91.4L450.2 92.1L450.6 92.8L451.0 93.5L451.3 94.3L451.7 95.1L452.1 95.9L452.4 96.7L452.8 97.5L453.2 98.2L453.5 99.0L453.9 99.7L454.3 100.3L454.6 101.0L455.0 101.6L455.4 102.1L455.7 102.5L456.1 102.9L456.5 103.2L456.8 103.4L457.2 103.5L457.6 103.5L457.9 103.5L458.3 103.4L458.7 103.2L459.0 103.0L459.4 102.8L459.8 102.5L460.1 102.1L460.5 101.8L460.9 101.4L461.2 100.9L461.6 100.5L462.0 100.0L462.3 99.4L462.7 98.9L463.1 98.4L463.4 97.8L463.8 97.2L464.1 96.6L464.5 96.0L464.9 95.4L465.2 94.8L465.6 94.3L466.0 93.7L466.3 93.1L466.7 92.5L467.1 92.0L467.4 91.5L467.8 91.0L468.2 90.5L468.5 90.0L468.9 89.6L469.3 89.2L469.6 88.9L470.0 88.6L470.4 88.3L470.7 88.1L471.1 87.9L471.5 87.8L471.8 87.7L472.2 87.7L472.6 87.8L472.9 87.9L473.3 88.1L473.7 88.3L474.0 88.6L474.4 88.9L474.8 89.2L475.1 89.6L475.5 90.1L475.9 90.6L476.2 91.1L476.6 91.6L477.0 92.1L477.3 92.7L477.7 93.3L478.1 93.9L478.4 94.5L478.8 95.1L479.2 95.7L479.5 96.4L479.9 97.0L480.3 97.6L480.6 98.2L481.0 98.8L481.4 99.3L481.7 99.9L482.1 100.4L482.5 100.9L482.8 101.3L483.2 101.8L483.6 102.2L483.9 102.5L484.3 102.8L484.7 103.1L485.0 103.3L485.4 103.4L485.8 103.5L486.1 103.5L486.5 103.5L486.9 103.4L487.2 103.2L487.6 103.0L488.0 102.7L488.3 102.4L488.7 102.0L489.1 101.6L489.4 101.2L489.8 100.7L490.2 100.2L490.5 99.6L490.9 99.1L491.3 98.5L491.6 97.9L492.0 97.3L492.4 96.6L492.7 96.0L493.1 95.4L493.5 94.8L493.8 94.2L494.2 93.6L494.6 93.0L494.9 92.5L495.3 92.0L495.7 91.5L496.0 91.0L496.4 90.6L496.8 90.2L497.1 89.9L497.5 89.6L497.9 89.4L498.2 89.3L498.6 89.2L499.0 89.1L499.3 89.1L499.7 89.2L500.1 89.3L500.4 89.4L500.8 89.6L501.2 89.8L501.5 90.0L501.9 90.2L502.3 90.5L502.6 90.8L503.0 91.1L503.4 91.4L503.7 91.8L504.1 92.1L504.5 92.5L504.8 92.9L505.2 93.3L505.6 93.7L505.9 94.2L506.3 94.6L506.7 95.1L507.0 95.5L507.4 96.0L507.8 96.4L508.1 96.8L508.5 97.3L508.9 97.7L509.2 98.2L509.6 98.6L510.0 99.0L510.3 99.4L510.7 99.8L511.1 100.2L511.4 100.6L511.8 100.9L512.2 101.2L512.5 101.5L512.9 101.8L513.3 102.1L513.6 102.3L514.0 102.5L514.4 102.7L514.7 102.8L515.1 103.0L515.5 103.0L515.8 103.1L516.2 103.1L516.6 103.0L516.9 102.8L517.3 102.4L517.7 102.0L518.0 101.5L518.4 101.0L518.8 100.3L519.1 99.6L519.5 98.9L519.9 98.1L520.2 97.3L520.6 96.5L521.0 95.6L521.3 94.8L521.7 94.0L522.1 93.2L522.4 92.4L522.8 91.6L523.2 90.9L523.5 90.3L523.9 89.7L524.3 89.2L524.6 88.8L525.0 88.5L525.4 88.3L525.7 88.2L526.1 88.2L526.5 88.3L526.8 88.5L527.2 88.7L527.6 89.0L527.9 89.3L528.3 89.7L528.7 90.2L529.0 90.6L529.4 91.2L529.8 91.8L530.1 92.4L530.5 93.0L530.9 93.6L531.2 94.3L531.6 95.0L532.0 95.7L532.3 96.4L532.7 97.1L533.1 97.8L533.4 98.5L533.8 99.2L534.2 99.9L534.5 100.6L534.9 101.2L535.3 101.8L535.6 102.4L536.0 102.9L536.4 103.4L536.7 103.9L537.1 104.3L537.5 104.6L537.8 104.9L538.2 105.1L538.6 105.3L538.9 105.4L539.3 105.4L539.7 105.3L540.0 105.2L540.4 105.0L540.8 104.7L541.1 104.4L541.5 104.0L541.9 103.5L542.2 103.0L542.6 102.4L543.0 101.8L543.3 101.2L543.7 100.5L544.1 99.8L544.4 99.1L544.8 98.3L545.2 97.6L545.5 96.8L545.9 96.1L546.3 95.3L546.6 94.5L547.0 93.8L547.4 93.1L547.7 92.3L548.1 91.6L548.5 91.0L548.8 90.3L549.2 89.7L549.6 89.2L549.9 88.7L550.3 88.2L550.7 87.8L551.0 87.5L551.4 87.2L551.8 87.0L552.1 86.8L552.5 86.8L552.9 86.8L553.2 86.9L553.6 87.1L554.0 87.4L554.3 87.7L554.7 88.1L555.1 88.5L555.4 89.0L555.8 89.5L556.2 90.1L556.5 90.8L556.9 91.4L557.3 92.1L557.6 92.8L558.0 93.5L558.4 94.3L558.7 95.0L559.1 95.8L559.5 96.6L559.8 97.3L560.2 98.1L560.6 98.8L560.9 99.6L561.3 100.3L561.7 101.0L562.0 101.6L562.4 102.2L562.8 102.8L563.1 103.3L563.5 103.8L563.9 104.2L564.2 104.6L564.6 104.9L565.0 105.1L565.3 105.3L565.7 105.4L566.1 105.4L566.4 105.3L566.8 105.2L567.2 104.9L567.5 104.7L567.9 104.3L568.3 103.9L568.6 103.4L569.0 102.9L569.4 102.3L569.7 101.7L570.1 101.1L570.5 100.4L570.8 99.7L571.2 99.0L571.6 98.2L571.9 97.5L572.3 96.7L572.7 95.9L573.0 95.2L573.4 94.4L573.8 93.7L574.1 92.9L574.5 92.2L574.9 91.5L575.2 90.9L575.6 90.2L576.0 89.6L576.3 89.1L576.7 88.6L577.1 88.1L577.4 87.7L577.8 87.4L578.2 87.1L578.5 87.0L578.9 86.8L579.3 86.8L579.6 86.8L580.0 87.0L580.4 87.1L580.7 87.4L581.1 87.7L581.5 88.1L581.8 88.6L582.2 89.1L582.6 89.6L582.9 90.2L583.3 90.9L583.7 91.5L584.0 92.2L584.4 92.9L584.8 93.7L585.1 94.4L585.5 95.2L585.9 95.9L586.2 96.7L586.6 97.5L587.0 98.2L587.3 99.0L587.7 99.7L588.1 100.4L588.4 101.1L588.8 101.7L589.2 102.3L589.5 102.9L589.9 103.4L590.3 103.9L590.6 104.3L591.0 104.7L591.4 104.9L591.7 105.2L592.1 105.3L592.5 105.4L592.8 105.4L593.2 105.3L593.6 105.1L593.9 104.9L594.3 104.6L594.7 104.2L595.0 103.8L595.4 103.3L595.8 102.8L596.1 102.2L596.5 101.6L596.9 101.0L597.2 100.3L597.6 99.6L598.0 98.8L598.3 98.1L598.7 97.3L599.1 96.6L599.4 95.8L599.8 95.0L600.2 94.3L600.5 93.5L600.9 92.8L601.3 92.1L601.6 91.4L602.0 90.8L602.4 90.1L602.7 89.5L603.1 89.0L603.5 88.5L603.8 88.1L604.2 87.7L604.6 87.4L604.9 87.1L605.3 86.9L605.7 86.8L606.0 86.8L606.4 86.8L606.8 87.0L607.1 87.2L607.5 87.5L607.9 87.8L608.2 88.2L608.6 88.7L609.0 89.2L609.3 89.7L609.7 90.3L610.1 91.0L610.4 91.6L610.8 92.3L611.2 93.1L611.5 93.8L611.9 94.5L612.3 95.3L612.6 96.1L613.0 96.8L613.4 97.6L613.7 98.3L614.1 99.1L614.5 99.8L614.8 100.5L615.2 101.2L615.6 101.8L615.9 102.4L616.3 103.0L616.7 103.5L617.0 104.0L617.4 104.4L617.8 104.7L618.1 105.0L618.5 105.2L618.9 105.3L619.2 105.4L619.6 105.4L620.0 105.3L620.3 105.1L620.7 104.9L621.1 104.5L621.4 104.2L621.8 103.7L622.2 103.2L622.5 102.7L622.9 102.1L623.3 101.5L623.6 100.8L624.0 100.2L624.4 99.5L624.7 98.7L625.1 98.0L625.5 97.2L625.8 96.5L626.2 95.7L626.6 94.9L626.9 94.2L627.3 93.4L627.7 92.7L628.0 92.0L628.4 91.3L628.8 90.6L629.1 90.0L629.5 89.5L629.9 88.9L630.2 88.4L630.6 88.0L631.0 87.6L631.3 87.3L631.7 87.1L632.1 86.9L632.4 86.8L632.8 86.8L633.2 86.9L633.5 87.0L633.9 87.2L634.3 87.5L634.6 87.9L635.0 88.3L635.4 88.8L635.7 89.3L636.1 89.8L636.5 90.4L636.8 91.1L637.2 91.8L637.6 92.5L637.9 93.2L638.3 93.9L638.7 94.7L639.0 95.4L639.4 96.2L639.8 97.0L640.1 97.7L640.5 98.5L640.9 99.2L641.2 99.9L641.6 100.6L642.0 101.3L642.3 101.9L642.7 102.5L643.1 103.1L643.4 103.6L643.8 104.0L644.2 104.4L644.5 104.8L644.9 105.0L645.3 105.2L645.6 105.4L646.0 105.4L646.4 105.4L646.7 105.3L647.1 105.1L647.5 104.8L647.8 104.5L648.2 104.1L648.5 103.7L648.9 103.2L649.3 102.6L649.6 102.0L650.0 101.4L650.4 100.7L650.7 100.0L651.1 99.3L651.5 98.6L651.8 97.8L652.2 97.1L652.6 96.3L652.9 95.6L653.3 94.8L653.7 94.0L654.0 93.3L654.4 92.6L654.8 91.9L655.1 91.2L655.5 90.5L655.9 89.9L656.2 89.4L656.6 88.8L657.0 88.4L657.3 87.9L657.7 87.6L658.1 87.3L658.4 87.0L658.8 86.9L659.2 86.8L659.5 86.8L659.9 86.9L660.3 87.0L660.6 87.3L661.0 87.6L661.4 87.9L661.7 88.4L662.1 88.8L662.5 89.4L662.8 89.9L663.2 90.5L663.6 91.2L663.9 91.9L664.3 92.6L664.7 93.3L665.0 94.0L665.4 94.8L665.8 95.6L666.1 96.3L666.5 97.1L666.9 97.8L667.2 98.6L667.6 99.3L668.0 100.0L668.3 100.7L668.7 101.4L669.1 102.0L669.4 102.6L669.8 103.2L670.2 103.7L670.5 104.1L670.9 104.5L671.3 104.8L671.6 105.1L672.0 105.3L672.4 105.4L672.7 105.4L673.1 105.4L673.5 105.2L673.8 105.0L674.2 104.8L674.6 104.4L674.9 104.0L675.3 103.6L675.7 103.1L676.0 102.5L676.4 101.9L676.8 101.3L677.1 100.6L677.5 99.9L677.9 99.2" fill="none" stroke="#4e3366" stroke-width="0.65"/>
<path d="M372.5 189.2L372.9 189.2L373.2 189.2L373.6 189.2L374.0 189.2L374.3 189.2L374.7 189.2L375.1 189.2L375.4 189.2L375.8 189.2L376.2 189.2L376.5 189.2L376.9 189.2L377.3 189.2L377.6 189.2L378.0 189.2L378.4 189.2L378.7 189.2L379.1 189.2L379.5 189.2L379.8 189.2L380.2 189.2L380.6 189.2L380.9 189.2L381.3 189.2L381.7 189.2L382.0 189.2L382.4 189.2L382.8 189.2L383.1 189.2L383.5 189.2L383.9 189.2L384.2 189.2L384.6 189.2L385.0 189.2L385.3 189.2L385.7 189.2L386.1 189.2L386.4 189.2L386.8 189.2L387.2 189.2L387.5 189.2L387.9 189.2L388.3 189.2L388.6 189.2L389.0 189.2L389.4 189.2L389.7 189.2L390.1 189.2L390.5 189.2L390.8 189.2L391.2 189.2L391.6 189.2L391.9 189.2L392.3 189.2L392.7 189.2L393.0 189.2L393.4 189.2L393.8 189.2L394.1 189.2L394.5 189.2L394.9 188.8L395.2 187.7L395.6 185.9L396.0 183.6L396.3 180.7L396.7 177.3L397.1 173.5L397.4 169.3L397.8 164.8L398.2 160.1L398.5 155.3L398.9 150.1L399.3 142.9L399.6 133.4L400.0 122.4L400.4 110.6L400.7 98.6L401.1 87.1L401.5 76.7L401.8 68.2L402.2 60.4L402.6 52.4L402.9 44.4L403.3 36.9L403.7 30.2L404.0 24.8L404.4 20.9L404.8 19.0L405.1 19.3L405.5 21.8L405.9 26.0L406.2 31.7L406.6 38.4L407.0 45.8L407.3 53.5L407.7 61.3L408.1 68.7L408.4 75.4L408.8 81.6L409.2 88.4L409.5 95.9L409.9 103.6L410.3 111.6L410.6 119.5L411.0 127.1L411.4 134.4L411.7 140.9L412.1 146.7L412.5 151.3L412.8 154.7L413.2 156.7L413.6 157.0L413.9 156.5L414.3 155.4L414.7 153.8L415.0 151.7L415.4 149.1L415.8 146.1L416.1 142.8L416.5 139.1L416.9 135.1L417.2 130.9L417.6 126.5L418.0 122.0L418.3 117.3L418.7 112.5L419.1 107.8L419.4 103.0L419.8 98.3L420.2 93.7L420.5 89.3L420.9 85.0L421.3 80.9L421.6 77.2L422.0 73.7L422.4 70.6L422.7 67.9L423.1 65.6L423.5 63.8L423.8 62.5L424.2 61.8L424.6 61.7L424.9 62.0L425.3 62.6L425.7 63.6L426.0 65.0L426.4 66.6L426.8 68.5L427.1 70.6L427.5 73.0L427.9 75.6L428.2 78.5L428.6 81.5L429.0 84.6L429.3 88.0L429.7 91.4L430.1 95.0L430.4 98.6L430.8 102.3L431.2 106.1L431.5 109.9L431.9 113.7L432.3 117.5L432.6 121.2L433.0 125.0L433.4 128.6L433.7 132.2L434.1 135.7L434.5 139.0L434.8 142.3L435.2 145.3L435.6 148.2L435.9 150.9L436.3 153.4L436.7 155.6L437.0 157.6L437.4 159.3L437.8 160.7L438.1 161.8L438.5 162.6L438.9 163.0L439.2 163.1L439.6 162.6L440.0 161.5L440.3 159.8L440.7 157.6L441.1 154.9L441.4 151.8L441.8 148.2L442.2 144.3L442.5 140.0L442.9 135.5L443.3 130.6L443.6 125.6L444.0 120.3L444.4 114.9L444.7 109.4L445.1 103.8L445.5 98.2L445.8 92.6L446.2 87.0L446.6 81.4L446.9 76.0L447.3 70.7L447.7 65.5L448.0 60.6L448.4 56.0L448.8 51.6L449.1 47.6L449.5 43.9L449.9 40.6L450.2 37.8L450.6 35.4L451.0 33.6L451.3 32.3L451.7 31.5L452.1 31.5L452.4 32.4L452.8 34.3L453.2 37.2L453.5 40.9L453.9 45.3L454.3 50.4L454.6 56.0L455.0 62.2L455.4 68.7L455.7 75.5L456.1 82.5L456.5 89.6L456.8 96.7L457.2 103.7L457.6 110.6L457.9 117.2L458.3 123.5L458.7 129.3L459.0 134.6L459.4 139.2L459.8 143.2L460.1 146.3L460.5 148.6L460.9 149.8L461.2 150.1L461.6 149.8L462.0 149.2L462.3 148.3L462.7 147.2L463.1 145.9L463.4 144.4L463.8 142.7L464.1 140.9L464.5 139.0L464.9 137.0L465.2 134.9L465.6 132.9L466.0 130.9L466.3 128.9L466.7 127.1L467.1 125.3L467.4 123.6L467.8 122.2L468.2 120.9L468.5 119.9L468.9 119.1L469.3 118.6L469.6 118.4L470.0 118.4L470.4 118.5L470.7 118.5L471.1 118.5L471.5 118.6L471.8 118.6L472.2 118.7L472.6 118.8L472.9 118.8L473.3 118.9L473.7 119.0L474.0 119.1L474.4 119.2L474.8 119.3L475.1 119.4L475.5 119.5L475.9 119.6L476.2 119.7L476.6 119.9L477.0 120.0L477.3 120.1L477.7 120.2L478.1 120.3L478.4 120.4L478.8 120.6L479.2 120.7L479.5 120.8L479.9 120.9L480.3 121.0L480.6 121.1L481.0 121.2L481.4 121.3L481.7 121.3L482.1 121.4L482.5 121.5L482.8 121.5L483.2 121.6L483.6 121.6L483.9 121.7L484.3 121.7L484.7 121.7L485.0 121.7L485.4 121.5L485.8 121.0L486.1 120.4L486.5 119.5L486.9 118.5L487.2 117.2L487.6 115.9L488.0 114.4L488.3 112.7L488.7 111.0L489.1 109.2L489.4 107.3L489.8 105.3L490.2 103.3L490.5 101.3L490.9 99.3L491.3 97.3L491.6 95.3L492.0 93.3L492.4 91.4L492.7 89.6L493.1 87.8L493.5 86.2L493.8 84.7L494.2 83.3L494.6 82.1L494.9 81.1L495.3 80.2L495.7 79.5L496.0 79.1L496.4 78.9L496.8 78.9L497.1 79.2L497.5 79.8L497.9 80.6L498.2 81.6L498.6 82.7L499.0 84.0L499.3 85.5L499.7 87.1L500.1 88.8L500.4 90.5L500.8 92.3L501.2 94.2L501.5 96.0L501.9 97.9L502.3 99.7L502.6 101.5L503.0 103.2L503.4 104.8L503.7 106.3L504.1 107.7L504.5 108.9L504.8 109.9L505.2 110.8L505.6 111.4L505.9 111.8L506.3 111.9L506.7 111.9L507.0 111.7L507.4 111.4L507.8 110.9L508.1 110.4L508.5 109.8L508.9 109.1L509.2 108.4L509.6 107.5L510.0 106.6L510.3 105.7L510.7 104.7L511.1 103.7L511.4 102.7L511.8 101.6L512.2 100.6L512.5 99.5L512.9 98.5L513.3 97.4L513.6 96.4L514.0 95.5L514.4 94.6L514.7 93.7L515.1 92.9L515.5 92.1L515.8 91.5L516.2 90.9L516.6 90.4L516.9 90.0L517.3 89.8L517.7 89.6L518.0 89.6L518.4 89.7L518.8 89.9L519.1 90.1L519.5 90.5L519.9 90.9L520.2 91.4L520.6 91.9L521.0 92.4L521.3 93.0L521.7 93.6L522.1 94.3L522.4 94.9L522.8 95.5L523.2 96.1L523.5 96.7L523.9 97.2L524.3 97.8L524.6 98.2L525.0 98.6L525.4 98.9L525.7 99.2L526.1 99.3L526.5 99.4L526.8 99.3L527.2 99.3L527.6 99.1L527.9 99.0L528.3 98.8L528.7 98.5L529.0 98.3L529.4 98.0L529.8 97.6L530.1 97.3L530.5 96.9L530.9 96.6L531.2 96.2L531.6 95.8L532.0 95.4L532.3 95.0L532.7 94.6L533.1 94.2L533.4 93.9L533.8 93.5L534.2 93.2L534.5 92.8L534.9 92.5L535.3 92.3L535.6 92.0L536.0 91.8L536.4 91.7L536.7 91.5L537.1 91.5L537.5 91.4L537.8 91.5L538.2 91.5L538.6 91.6L538.9 91.7L539.3 91.9L539.7 92.0L540.0 92.2L540.4 92.5L540.8 92.7L541.1 93.0L541.5 93.2L541.9 93.5L542.2 93.8L542.6 94.1L543.0 94.4L543.3 94.7L543.7 95.0L544.1 95.4L544.4 95.7L544.8 96.0L545.2 96.3L545.5 96.6L545.9 96.8L546.3 97.1L546.6 97.3L547.0 97.6L547.4 97.8L547.7 97.9L548.1 98.1L548.5 98.2L548.8 98.3L549.2 98.4L549.6 98.4L549.9 98.4L550.3 98.4L550.7 98.3L551.0 98.3L551.4 98.2L551.8 98.1L552.1 97.9L552.5 97.8L552.9 97.6L553.2 97.5L553.6 97.3L554.0 97.1L554.3 96.9L554.7 96.7L555.1 96.5L555.4 96.3L555.8 96.1L556.2 95.9L556.5 95.7L556.9 95.5L557.3 95.3L557.6 95.1L558.0 94.9L558.4 94.7L558.7 94.6L559.1 94.4L559.5 94.3L559.8 94.1L560.2 94.0L560.6 93.9L560.9 93.9L561.3 93.8L561.7 93.8L562.0 93.8L562.4 93.8L562.8 93.8L563.1 93.8L563.5 93.8L563.9 93.8L564.2 93.8L564.6 93.8L565.0 93.8L565.3 93.8L565.7 93.8L566.1 93.8L566.4 93.8L566.8 93.8L567.2 93.8L567.5 93.8L567.9 93.8L568.3 93.8L568.6 93.8L569.0 93.8L569.4 93.8L569.7 93.8L570.1 93.8L570.5 93.8L570.8 93.8L571.2 93.8L571.6 93.8L571.9 93.8L572.3 93.8L572.7 93.8L573.0 93.8L573.4 93.8L573.8 93.8L574.1 93.8L574.5 93.8L574.9 93.8L575.2 93.9L575.6 94.0L576.0 94.1L576.3 94.2L576.7 94.3L577.1 94.4L577.4 94.6L577.8 94.8L578.2 95.0L578.5 95.2L578.9 95.4L579.3 95.6L579.6 95.8L580.0 96.1L580.4 96.3L580.7 96.6L581.1 96.8L581.5 97.1L581.8 97.3L582.2 97.6L582.6 97.8L582.9 98.1L583.3 98.3L583.7 98.5L584.0 98.8L584.4 99.0L584.8 99.2L585.1 99.4L585.5 99.6L585.9 99.8L586.2 100.0L586.6 100.1L587.0 100.3L587.3 100.4L587.7 100.5L588.1 100.6L588.4 100.7L588.8 100.7L589.2 100.7L589.5 100.8L589.9 100.7L590.3 100.7L590.6 100.6L591.0 100.5L591.4 100.4L591.7 100.3L592.1 100.2L592.5 100.0L592.8 99.9L593.2 99.7L593.6 99.5L593.9 99.3L594.3 99.1L594.7 98.8L595.0 98.6L595.4 98.4L595.8 98.1L596.1 97.9L596.5 97.6L596.9 97.4L597.2 97.1L597.6 96.9L598.0 96.6L598.3 96.4L598.7 96.2L599.1 95.9L599.4 95.7L599.8 95.5L600.2 95.2L600.5 95.0L600.9 94.8L601.3 94.7L601.6 94.5L602.0 94.3L602.4 94.2L602.7 94.1L603.1 94.0L603.5 93.9L603.8 93.8L604.2 93.8L604.6 93.8L604.9 93.8L605.3 93.8L605.7 93.9L606.0 93.9L606.4 94.0L606.8 94.1L607.1 94.3L607.5 94.4L607.9 94.6L608.2 94.7L608.6 94.9L609.0 95.1L609.3 95.3L609.7 95.5L610.1 95.8L610.4 96.0L610.8 96.2L611.2 96.5L611.5 96.7L611.9 97.0L612.3 97.2L612.6 97.5L613.0 97.7L613.4 98.0L613.7 98.2L614.1 98.5L614.5 98.7L614.8 98.9L615.2 99.1L615.6 99.4L615.9 99.6L616.3 99.7L616.7 99.9L617.0 100.1L617.4 100.2L617.8 100.4L618.1 100.5L618.5 100.6L618.9 100.7L619.2 100.7L619.6 100.7L620.0 100.8L620.3 100.7L620.7 100.7L621.1 100.7L621.4 100.6L621.8 100.5L622.2 100.4L622.5 100.2L622.9 100.1L623.3 99.9L623.6 99.7L624.0 99.6L624.4 99.4L624.7 99.1L625.1 98.9L625.5 98.7L625.8 98.5L626.2 98.2L626.6 98.0L626.9 97.7L627.3 97.5L627.7 97.2L628.0 97.0L628.4 96.7L628.8 96.5L629.1 96.2L629.5 96.0L629.9 95.8L630.2 95.5L630.6 95.3L631.0 95.1L631.3 94.9L631.7 94.7L632.1 94.6L632.4 94.4L632.8 94.3L633.2 94.1L633.5 94.0L633.9 93.9L634.3 93.9L634.6 93.8L635.0 93.8L635.4 93.8L635.7 93.8L636.1 93.8L636.5 93.9L636.8 94.0L637.2 94.1L637.6 94.2L637.9 94.3L638.3 94.5L638.7 94.7L639.0 94.8L639.4 95.0L639.8 95.2L640.1 95.5L640.5 95.7L640.9 95.9L641.2 96.2L641.6 96.4L642.0 96.6L642.3 96.9L642.7 97.1L643.1 97.4L643.4 97.6L643.8 97.9L644.2 98.1L644.5 98.4L644.9 98.6L645.3 98.8L645.6 99.1L646.0 99.3L646.4 99.5L646.7 99.7L647.1 99.9L647.5 100.0L647.8 100.2L648.2 100.3L648.5 100.4L648.9 100.5L649.3 100.6L649.6 100.7L650.0 100.7L650.4 100.8L650.7 100.7L651.1 100.7L651.5 100.7L651.8 100.6L652.2 100.5L652.6 100.4L652.9 100.3L653.3 100.1L653.7 100.0L654.0 99.8L654.4 99.6L654.8 99.4L655.1 99.2L655.5 99.0L655.9 98.8L656.2 98.5L656.6 98.3L657.0 98.1L657.3 97.8L657.7 97.6L658.1 97.3L658.4 97.1L658.8 96.8L659.2 96.6L659.5 96.3L659.9 96.1L660.3 95.8L660.6 95.6L661.0 95.4L661.4 95.2L661.7 95.0L662.1 94.8L662.5 94.6L662.8 94.4L663.2 94.3L663.6 94.2L663.9 94.1L664.3 94.0L664.7 93.9L665.0 93.8L665.4 93.8L665.8 93.8L666.1 93.8L666.5 93.8L666.9 93.8L667.2 93.8L667.6 93.9L668.0 93.9L668.3 94.0L668.7 94.0L669.1 94.1L669.4 94.2L669.8 94.3L670.2 94.4L670.5 94.5L670.9 94.6L671.3 94.7L671.6 94.8L672.0 94.9L672.4 95.1L672.7 95.2L673.1 95.4L673.5 95.5L673.8 95.7L674.2 95.9L674.6 96.1L674.9 96.3L675.3 96.5L675.7 96.7L676.0 96.9L676.4 97.2L676.8 97.4L677.1 97.6L677.5 97.9L677.9 98.2" fill="none" stroke="#d9aa35" stroke-width="0.65"/>
<path d="M372.5 189.2L372.9 189.2L373.2 189.2L373.6 189.2L374.0 189.2L374.3 189.2L374.7 189.2L375.1 189.2L375.4 189.2L375.8 189.2L376.2 189.2L376.5 189.2L376.9 189.2L377.3 189.2L377.6 189.2L378.0 189.2L378.4 189.2L378.7 189.2L379.1 189.2L379.5 189.2L379.8 189.2L380.2 189.2L380.6 189.2L380.9 189.2L381.3 189.2L381.7 189.2L382.0 189.2L382.4 189.2L382.8 189.2L383.1 189.2L383.5 189.2L383.9 189.2L384.2 189.2L384.6 189.2L385.0 189.2L385.3 189.2L385.7 189.2L386.1 189.2L386.4 189.2L386.8 189.2L387.2 189.2L387.5 189.2L387.9 189.2L388.3 189.2L388.6 189.2L389.0 189.2L389.4 189.2L389.7 189.2L390.1 189.2L390.5 189.2L390.8 189.2L391.2 189.2L391.6 189.2L391.9 189.2L392.3 189.2L392.7 189.2L393.0 189.2L393.4 189.2L393.8 189.2L394.1 189.2L394.5 189.2L394.9 189.2L395.2 189.2L395.6 189.2L396.0 189.1L396.3 188.3L396.7 187.0L397.1 185.1L397.4 182.8L397.8 180.1L398.2 177.0L398.5 173.6L398.9 170.0L399.3 166.3L399.6 162.4L400.0 158.5L400.4 154.5L400.7 150.6L401.1 146.0L401.5 140.5L401.8 134.4L402.2 127.9L402.6 121.0L402.9 114.1L403.3 107.2L403.7 100.5L404.0 94.2L404.4 88.5L404.8 83.6L405.1 79.3L405.5 75.0L405.9 70.6L406.2 66.2L406.6 61.9L407.0 57.7L407.3 53.7L407.7 49.9L408.1 46.4L408.4 43.3L408.8 40.5L409.2 38.2L409.5 36.5L409.9 35.3L410.3 34.7L410.6 35.1L411.0 37.1L411.4 40.6L411.7 45.3L412.1 50.8L412.5 56.9L412.8 63.2L413.2 69.4L413.6 75.3L413.9 80.6L414.3 85.2L414.7 90.2L415.0 95.5L415.4 101.0L415.8 106.6L416.1 112.3L416.5 117.8L416.9 123.1L417.2 128.0L417.6 132.6L418.0 136.6L418.3 140.0L418.7 142.7L419.1 144.5L419.4 145.4L419.8 145.4L420.2 145.2L420.5 144.9L420.9 144.4L421.3 143.8L421.6 143.0L422.0 142.2L422.4 141.3L422.7 140.3L423.1 139.2L423.5 138.0L423.8 136.8L424.2 135.6L424.6 134.3L424.9 133.1L425.3 131.8L425.7 130.5L426.0 129.3L426.4 128.0L426.8 126.9L427.1 125.7L427.5 124.7L427.9 123.7L428.2 122.8L428.6 122.0L429.0 121.3L429.3 120.7L429.7 120.3L430.1 120.0L430.4 119.8L430.8 119.9L431.2 120.0L431.5 120.2L431.9 120.5L432.3 120.9L432.6 121.4L433.0 122.0L433.4 122.6L433.7 123.2L434.1 123.9L434.5 124.7L434.8 125.5L435.2 126.3L435.6 127.1L435.9 127.9L436.3 128.8L436.7 129.6L437.0 130.4L437.4 131.2L437.8 132.0L438.1 132.7L438.5 133.4L438.9 134.1L439.2 134.7L439.6 135.2L440.0 135.7L440.3 136.0L440.7 136.3L441.1 136.5L441.4 136.6L441.8 136.5L442.2 136.2L442.5 135.6L442.9 134.7L443.3 133.6L443.6 132.2L444.0 130.7L444.4 128.9L444.7 127.0L445.1 124.9L445.5 122.7L445.8 120.3L446.2 117.9L446.6 115.3L446.9 112.7L447.3 110.0L447.7 107.2L448.0 104.5L448.4 101.7L448.8 98.9L449.1 96.2L449.5 93.5L449.9 90.8L450.2 88.2L450.6 85.7L451.0 83.3L451.3 81.0L451.7 78.9L452.1 76.9L452.4 75.1L452.8 73.5L453.2 72.1L453.5 70.9L453.9 69.9L454.3 69.2L454.6 68.8L455.0 68.6L455.4 68.8L455.7 69.4L456.1 70.3L456.5 71.6L456.8 73.1L457.2 74.9L457.6 76.9L457.9 79.1L458.3 81.5L458.7 84.1L459.0 86.7L459.4 89.5L459.8 92.3L460.1 95.2L460.5 98.0L460.9 100.8L461.2 103.6L461.6 106.3L462.0 108.9L462.3 111.4L462.7 113.7L463.1 115.7L463.4 117.6L463.8 119.2L464.1 120.6L464.5 121.6L464.9 122.3L465.2 122.6L465.6 122.6L466.0 122.3L466.3 121.8L466.7 121.0L467.1 120.1L467.4 118.9L467.8 117.6L468.2 116.2L468.5 114.6L468.9 112.9L469.3 111.0L469.6 109.1L470.0 107.1L470.4 105.1L470.7 103.0L471.1 100.8L471.5 98.7L471.8 96.5L472.2 94.4L472.6 92.3L472.9 90.2L473.3 88.2L473.7 86.3L474.0 84.4L474.4 82.7L474.8 81.1L475.1 79.7L475.5 78.4L475.9 77.2L476.2 76.3L476.6 75.6L477.0 75.0L477.3 74.7L477.7 74.7L478.1 74.9L478.4 75.2L478.8 75.8L479.2 76.5L479.5 77.4L479.9 78.4L480.3 79.5L480.6 80.8L481.0 82.2L481.4 83.7L481.7 85.3L482.1 86.9L482.5 88.7L482.8 90.5L483.2 92.3L483.6 94.2L483.9 96.1L484.3 98.0L484.7 99.9L485.0 101.8L485.4 103.6L485.8 105.5L486.1 107.2L486.5 109.0L486.9 110.6L487.2 112.2L487.6 113.7L488.0 115.1L488.3 116.4L488.7 117.6L489.1 118.6L489.4 119.4L489.8 120.2L490.2 120.7L490.5 121.1L490.9 121.2L491.3 121.2L491.6 121.0L492.0 120.6L492.4 120.1L492.7 119.4L493.1 118.6L493.5 117.7L493.8 116.7L494.2 115.5L494.6 114.3L494.9 112.9L495.3 111.5L495.7 110.0L496.0 108.4L496.4 106.8L496.8 105.1L497.1 103.4L497.5 101.6L497.9 99.9L498.2 98.1L498.6 96.3L499.0 94.5L499.3 92.8L499.7 91.0L500.1 89.3L500.4 87.7L500.8 86.1L501.2 84.5L501.5 83.0L501.9 81.6L502.3 80.3L502.6 79.1L503.0 78.0L503.4 77.0L503.7 76.1L504.1 75.3L504.5 74.7L504.8 74.2L505.2 73.9L505.6 73.8L505.9 73.8L506.3 74.2L506.7 74.7L507.0 75.6L507.4 76.6L507.8 77.9L508.1 79.3L508.5 80.9L508.9 82.7L509.2 84.6L509.6 86.6L510.0 88.6L510.3 90.7L510.7 92.9L511.1 95.1L511.4 97.3L511.8 99.5L512.2 101.7L512.5 103.8L512.9 105.9L513.3 107.8L513.6 109.6L514.0 111.3L514.4 112.9L514.7 114.3L515.1 115.5L515.5 116.5L515.8 117.2L516.2 117.7L516.6 118.0L516.9 117.9L517.3 117.6L517.7 117.0L518.0 116.2L518.4 115.2L518.8 114.1L519.1 112.7L519.5 111.2L519.9 109.6L520.2 107.8L520.6 106.0L521.0 104.1L521.3 102.1L521.7 100.1L522.1 98.1L522.4 96.1L522.8 94.2L523.2 92.3L523.5 90.4L523.9 88.7L524.3 87.1L524.6 85.6L525.0 84.2L525.4 83.0L525.7 82.0L526.1 81.2L526.5 80.6L526.8 80.3L527.2 80.3L527.6 80.4L527.9 80.6L528.3 81.0L528.7 81.4L529.0 82.0L529.4 82.7L529.8 83.4L530.1 84.3L530.5 85.2L530.9 86.2L531.2 87.2L531.6 88.3L532.0 89.5L532.3 90.7L532.7 91.9L533.1 93.2L533.4 94.4L533.8 95.7L534.2 97.0L534.5 98.3L534.9 99.6L535.3 100.9L535.6 102.1L536.0 103.3L536.4 104.5L536.7 105.6L537.1 106.7L537.5 107.7L537.8 108.7L538.2 109.6L538.6 110.4L538.9 111.1L539.3 111.8L539.7 112.3L540.0 112.7L540.4 113.1L540.8 113.3L541.1 113.3L541.5 113.2L541.9 113.0L542.2 112.6L542.6 112.1L543.0 111.5L543.3 110.7L543.7 109.9L544.1 108.9L544.4 107.9L544.8 106.8L545.2 105.6L545.5 104.3L545.9 103.0L546.3 101.7L546.6 100.3L547.0 98.9L547.4 97.5L547.7 96.1L548.1 94.7L548.5 93.3L548.8 91.9L549.2 90.6L549.6 89.3L549.9 88.0L550.3 86.8L550.7 85.7L551.0 84.7L551.4 83.7L551.8 82.9L552.1 82.1L552.5 81.5L552.9 81.0L553.2 80.6L553.6 80.4L554.0 80.3L554.3 80.4L554.7 80.6L555.1 81.0L555.4 81.6L555.8 82.2L556.2 83.0L556.5 83.9L556.9 84.9L557.3 86.0L557.6 87.2L558.0 88.4L558.4 89.6L558.7 90.9L559.1 92.2L559.5 93.5L559.8 94.9L560.2 96.2L560.6 97.5L560.9 98.7L561.3 99.9L561.7 101.1L562.0 102.2L562.4 103.1L562.8 104.0L563.1 104.8L563.5 105.5L563.9 106.1L564.2 106.5L564.6 106.7L565.0 106.8L565.3 106.8L565.7 106.6L566.1 106.4L566.4 106.0L566.8 105.6L567.2 105.1L567.5 104.5L567.9 103.9L568.3 103.2L568.6 102.5L569.0 101.7L569.4 100.9L569.7 100.0L570.1 99.1L570.5 98.2L570.8 97.3L571.2 96.3L571.6 95.4L571.9 94.5L572.3 93.5L572.7 92.6L573.0 91.7L573.4 90.9L573.8 90.1L574.1 89.3L574.5 88.5L574.9 87.8L575.2 87.2L575.6 86.6L576.0 86.1L576.3 85.7L576.7 85.4L577.1 85.1L577.4 85.0L577.8 84.9L578.2 85.0L578.5 85.2L578.9 85.5L579.3 85.9L579.6 86.4L580.0 86.9L580.4 87.6L580.7 88.3L581.1 89.1L581.5 90.0L581.8 90.9L582.2 91.8L582.6 92.8L582.9 93.8L583.3 94.8L583.7 95.8L584.0 96.9L584.4 97.9L584.8 98.9L585.1 99.9L585.5 100.9L585.9 101.8L586.2 102.7L586.6 103.5L587.0 104.3L587.3 104.9L587.7 105.6L588.1 106.1L588.4 106.6L588.8 106.9L589.2 107.1L589.5 107.3L589.9 107.3L590.3 107.1L590.6 106.9L591.0 106.6L591.4 106.2L591.7 105.6L592.1 105.0L592.5 104.4L592.8 103.6L593.2 102.9L593.6 102.0L593.9 101.1L594.3 100.2L594.7 99.3L595.0 98.3L595.4 97.3L595.8 96.3L596.1 95.3L596.5 94.4L596.9 93.4L597.2 92.5L597.6 91.6L598.0 90.7L598.3 89.9L598.7 89.1L599.1 88.4L599.4 87.8L599.8 87.2L600.2 86.8L600.5 86.4L600.9 86.1L601.3 85.9L601.6 85.9L602.0 85.9L602.4 86.1L602.7 86.4L603.1 86.8L603.5 87.2L603.8 87.8L604.2 88.4L604.6 89.1L604.9 89.9L605.3 90.7L605.7 91.6L606.0 92.5L606.4 93.4L606.8 94.4L607.1 95.3L607.5 96.3L607.9 97.3L608.2 98.3L608.6 99.3L609.0 100.2L609.3 101.1L609.7 102.0L610.1 102.9L610.4 103.6L610.8 104.4L611.2 105.0L611.5 105.6L611.9 106.2L612.3 106.6L612.6 106.9L613.0 107.1L613.4 107.3L613.7 107.3L614.1 107.1L614.5 106.9L614.8 106.6L615.2 106.2L615.6 105.6L615.9 105.0L616.3 104.4L616.7 103.6L617.0 102.9L617.4 102.0L617.8 101.1L618.1 100.2L618.5 99.3L618.9 98.3L619.2 97.3L619.6 96.3L620.0 95.3L620.3 94.4L620.7 93.4L621.1 92.5L621.4 91.6L621.8 90.7L622.2 89.9L622.5 89.1L622.9 88.4L623.3 87.8L623.6 87.2L624.0 86.8L624.4 86.4L624.7 86.1L625.1 85.9L625.5 85.9L625.8 85.9L626.2 86.1L626.6 86.4L626.9 86.8L627.3 87.2L627.7 87.8L628.0 88.4L628.4 89.1L628.8 89.9L629.1 90.7L629.5 91.6L629.9 92.5L630.2 93.4L630.6 94.4L631.0 95.3L631.3 96.3L631.7 97.3L632.1 98.3L632.4 99.3L632.8 100.2L633.2 101.1L633.5 102.0L633.9 102.9L634.3 103.6L634.6 104.4L635.0 105.0L635.4 105.6L635.7 106.2L636.1 106.6L636.5 106.9L636.8 107.1L637.2 107.3L637.6 107.3L637.9 107.1L638.3 106.9L638.7 106.6L639.0 106.2L639.4 105.6L639.8 105.0L640.1 104.4L640.5 103.6L640.9 102.9L641.2 102.0L641.6 101.1L642.0 100.2L642.3 99.3L642.7 98.3L643.1 97.3L643.4 96.3L643.8 95.3L644.2 94.4L644.5 93.4L644.9 92.5L645.3 91.6L645.6 90.7L646.0 89.9L646.4 89.1L646.7 88.4L647.1 87.8L647.5 87.2L647.8 86.8L648.2 86.4L648.5 86.1L648.9 85.9L649.3 85.9L649.6 85.9L650.0 86.1L650.4 86.4L650.7 86.8L651.1 87.2L651.5 87.8L651.8 88.4L652.2 89.1L652.6 89.9L652.9 90.7L653.3 91.6L653.7 92.5L654.0 93.4L654.4 94.4L654.8 95.3L655.1 96.3L655.5 97.3L655.9 98.3L656.2 99.3L656.6 100.2L657.0 101.1L657.3 102.0L657.7 102.9L658.1 103.6L658.4 104.4L658.8 105.0L659.2 105.6L659.5 106.2L659.9 106.6L660.3 106.9L660.6 107.1L661.0 107.3L661.4 107.3L661.7 107.1L662.1 106.9L662.5 106.6L662.8 106.2L663.2 105.6L663.6 105.0L663.9 104.4L664.3 103.6L664.7 102.9L665.0 102.0L665.4 101.1L665.8 100.2L666.1 99.3L666.5 98.3L666.9 97.3L667.2 96.3L667.6 95.3L668.0 94.4L668.3 93.4L668.7 92.5L669.1 91.6L669.4 90.7L669.8 89.9L670.2 89.1L670.5 88.4L670.9 87.8L671.3 87.2L671.6 86.8L672.0 86.4L672.4 86.1L672.7 85.9L673.1 85.9L673.5 85.9L673.8 86.1L674.2 86.4L674.6 86.8L674.9 87.2L675.3 87.8L675.7 88.4L676.0 89.1L676.4 89.9L676.8 90.7L677.1 91.6L677.5 92.5L677.9 93.4" fill="none" stroke="#c0583a" stroke-width="0.65"/>
<path d="M372.5 189.2L372.9 189.2L373.2 189.2L373.6 189.2L374.0 189.2L374.3 189.2L374.7 189.2L375.1 189.2L375.4 189.2L375.8 189.2L376.2 189.2L376.5 189.2L376.9 189.2L377.3 189.2L377.6 189.2L378.0 189.2L378.4 189.2L378.7 189.2L379.1 189.2L379.5 189.2L379.8 189.2L380.2 189.2L380.6 189.2L380.9 189.2L381.3 189.2L381.7 189.2L382.0 189.2L382.4 189.2L382.8 189.2L383.1 189.2L383.5 189.2L383.9 189.2L384.2 189.2L384.6 189.2L385.0 189.2L385.3 189.2L385.7 189.2L386.1 189.2L386.4 189.2L386.8 189.2L387.2 189.2L387.5 189.2L387.9 189.2L388.3 189.2L388.6 189.2L389.0 189.2L389.4 189.2L389.7 189.2L390.1 189.2L390.5 189.2L390.8 189.2L391.2 189.2L391.6 189.2L391.9 189.2L392.3 189.2L392.7 189.2L393.0 189.2L393.4 189.2L393.8 189.2L394.1 189.2L394.5 189.2L394.9 189.2L395.2 189.2L395.6 188.7L396.0 187.6L396.3 186.1L396.7 184.0L397.1 181.6L397.4 178.7L397.8 175.5L398.2 172.1L398.5 168.4L398.9 164.5L399.3 160.4L399.6 156.2L400.0 152.0L400.4 146.7L400.7 139.8L401.1 131.6L401.5 122.7L401.8 113.5L402.2 104.5L402.6 96.1L402.9 88.9L403.3 82.7L403.7 76.4L404.0 69.9L404.4 63.5L404.8 57.2L405.1 51.3L405.5 45.9L405.9 41.1L406.2 37.1L406.6 34.0L407.0 32.1L407.3 31.4L407.7 32.4L408.1 35.3L408.4 39.8L408.8 45.5L409.2 52.0L409.5 59.2L409.9 66.5L410.3 73.8L410.6 80.7L411.0 86.8L411.4 93.0L411.7 100.0L412.1 107.6L412.5 115.2L412.8 122.7L413.2 129.6L413.6 135.6L413.9 140.3L414.3 143.4L414.7 144.5L415.0 144.3L415.4 143.8L415.8 143.0L416.1 141.9L416.5 140.5L416.9 139.0L417.2 137.2L417.6 135.3L418.0 133.3L418.3 131.2L418.7 129.1L419.1 126.9L419.4 124.7L419.8 122.6L420.2 120.6L420.5 118.6L420.9 116.8L421.3 115.2L421.6 113.7L422.0 112.2L422.4 110.6L422.7 108.9L423.1 107.3L423.5 105.5L423.8 103.8L424.2 102.0L424.6 100.3L424.9 98.5L425.3 96.8L425.7 95.1L426.0 93.4L426.4 91.7L426.8 90.1L427.1 88.6L427.5 87.1L427.9 85.7L428.2 84.3L428.6 83.1L429.0 82.0L429.3 80.9L429.7 80.0L430.1 79.2L430.4 78.6L430.8 78.1L431.2 77.7L431.5 77.5L431.9 77.5L432.3 77.7L432.6 78.2L433.0 78.9L433.4 79.8L433.7 80.9L434.1 82.1L434.5 83.5L434.8 85.1L435.2 86.7L435.6 88.4L435.9 90.3L436.3 92.1L436.7 94.0L437.0 96.0L437.4 97.9L437.8 99.8L438.1 101.6L438.5 103.4L438.9 105.1L439.2 106.7L439.6 108.2L440.0 109.6L440.3 110.8L440.7 111.8L441.1 112.7L441.4 113.3L441.8 113.7L442.2 113.8L442.5 113.7L442.9 113.4L443.3 112.9L443.6 112.3L444.0 111.5L444.4 110.5L444.7 109.4L445.1 108.2L445.5 106.9L445.8 105.5L446.2 104.1L446.6 102.5L446.9 101.0L447.3 99.4L447.7 97.7L448.0 96.1L448.4 94.4L448.8 92.8L449.1 91.2L449.5 89.6L449.9 88.1L450.2 86.7L450.6 85.3L451.0 84.0L451.3 82.9L451.7 81.8L452.1 80.9L452.4 80.2L452.8 79.6L453.2 79.2L453.5 78.9L453.9 78.9L454.3 79.2L454.6 79.8L455.0 80.7L455.4 81.8L455.7 83.1L456.1 84.7L456.5 86.4L456.8 88.2L457.2 90.2L457.6 92.2L457.9 94.2L458.3 96.3L458.7 98.4L459.0 100.3L459.4 102.3L459.8 104.1L460.1 105.7L460.5 107.2L460.9 108.5L461.2 109.5L461.6 110.3L462.0 110.8L462.3 111.0L462.7 110.9L463.1 110.8L463.4 110.6L463.8 110.3L464.1 109.9L464.5 109.4L464.9 108.9L465.2 108.3L465.6 107.7L466.0 107.0L466.3 106.3L466.7 105.6L467.1 104.8L467.4 104.0L467.8 103.1L468.2 102.3L468.5 101.4L468.9 100.6L469.3 99.7L469.6 98.9L470.0 98.0L470.4 97.2L470.7 96.4L471.1 95.7L471.5 94.9L471.8 94.3L472.2 93.6L472.6 93.1L472.9 92.5L473.3 92.1L473.7 91.7L474.0 91.4L474.4 91.2L474.8 91.0L475.1 91.0L475.5 91.0L475.9 91.1L476.2 91.3L476.6 91.6L477.0 91.9L477.3 92.3L477.7 92.7L478.1 93.2L478.4 93.7L478.8 94.3L479.2 94.9L479.5 95.5L479.9 96.2L480.3 96.8L480.6 97.5L481.0 98.2L481.4 98.9L481.7 99.6L482.1 100.3L482.5 101.0L482.8 101.6L483.2 102.2L483.6 102.8L483.9 103.4L484.3 104.0L484.7 104.5L485.0 104.9L485.4 105.3L485.8 105.7L486.1 105.9L486.5 106.2L486.9 106.3L487.2 106.4L487.6 106.4L488.0 106.3L488.3 106.1L488.7 105.9L489.1 105.6L489.4 105.2L489.8 104.8L490.2 104.4L490.5 103.9L490.9 103.4L491.3 102.8L491.6 102.2L492.0 101.6L492.4 101.0L492.7 100.3L493.1 99.7L493.5 99.0L493.8 98.4L494.2 97.7L494.6 97.1L494.9 96.4L495.3 95.8L495.7 95.2L496.0 94.7L496.4 94.2L496.8 93.7L497.1 93.2L497.5 92.8L497.9 92.5L498.2 92.2L498.6 92.0L499.0 91.8L499.3 91.7L499.7 91.7L500.1 91.8L500.4 91.9L500.8 92.1L501.2 92.3L501.5 92.7L501.9 93.0L502.3 93.4L502.6 93.9L503.0 94.4L503.4 94.9L503.7 95.5L504.1 96.1L504.5 96.7L504.8 97.3L505.2 97.9L505.6 98.5L505.9 99.2L506.3 99.8L506.7 100.4L507.0 101.0L507.4 101.6L507.8 102.2L508.1 102.8L508.5 103.3L508.9 103.8L509.2 104.2L509.6 104.6L510.0 105.0L510.3 105.2L510.7 105.5L511.1 105.7L511.4 105.8L511.8 105.8L512.2 105.8L512.5 105.7L512.9 105.5L513.3 105.3L513.6 105.0L514.0 104.7L514.4 104.3L514.7 103.8L515.1 103.4L515.5 102.9L515.8 102.4L516.2 101.8L516.6 101.2L516.9 100.6L517.3 100.0L517.7 99.4L518.0 98.8L518.4 98.2L518.8 97.6L519.1 97.0L519.5 96.4L519.9 95.9L520.2 95.4L520.6 94.8L521.0 94.4L521.3 93.9L521.7 93.5L522.1 93.2L522.4 92.9L522.8 92.6L523.2 92.4L523.5 92.3L523.9 92.3L524.3 92.3L524.6 92.3L525.0 92.5L525.4 92.7L525.7 92.9L526.1 93.3L526.5 93.6L526.8 94.0L527.2 94.4L527.6 94.9L527.9 95.4L528.3 95.9L528.7 96.5L529.0 97.0L529.4 97.6L529.8 98.2L530.1 98.8L530.5 99.3L530.9 99.9L531.2 100.5L531.6 101.0L532.0 101.6L532.3 102.1L532.7 102.6L533.1 103.1L533.4 103.5L533.8 103.9L534.2 104.3L534.5 104.6L534.9 104.8L535.3 105.0L535.6 105.2L536.0 105.2L536.4 105.2L536.7 105.2L537.1 105.1L537.5 104.9L537.8 104.7L538.2 104.4L538.6 104.1L538.9 103.7L539.3 103.3L539.7 102.9L540.0 102.4L540.4 101.9L540.8 101.4L541.1 100.9L541.5 100.3L541.9 99.8L542.2 99.2L542.6 98.7L543.0 98.1L543.3 97.6L543.7 97.0L544.1 96.5L544.4 96.0L544.8 95.5L545.2 95.0L545.5 94.6L545.9 94.2L546.3 93.9L546.6 93.6L547.0 93.3L547.4 93.1L547.7 92.9L548.1 92.8L548.5 92.8L548.8 92.8L549.2 92.9L549.6 93.1L549.9 93.3L550.3 93.5L550.7 93.8L551.0 94.2L551.4 94.5L551.8 94.9L552.1 95.4L552.5 95.8L552.9 96.3L553.2 96.8L553.6 97.3L554.0 97.9L554.3 98.4L554.7 98.9L555.1 99.5L555.4 100.0L555.8 100.5L556.2 101.0L556.5 101.5L556.9 102.0L557.3 102.4L557.6 102.8L558.0 103.2L558.4 103.6L558.7 103.9L559.1 104.1L559.5 104.4L559.8 104.5L560.2 104.6L560.6 104.7L560.9 104.7L561.3 104.6L561.7 104.5L562.0 104.3L562.4 104.1L562.8 103.8L563.1 103.5L563.5 103.2L563.9 102.8L564.2 102.4L564.6 102.0L565.0 101.5L565.3 101.0L565.7 100.5L566.1 100.0L566.4 99.5L566.8 99.0L567.2 98.5L567.5 98.0L567.9 97.5L568.3 97.0L568.6 96.6L569.0 96.1L569.4 95.7L569.7 95.3L570.1 94.9L570.5 94.5L570.8 94.2L571.2 94.0L571.6 93.8L571.9 93.6L572.3 93.5L572.7 93.4L573.0 93.4L573.4 93.4L573.8 93.5L574.1 93.7L574.5 93.9L574.9 94.1L575.2 94.4L575.6 94.7L576.0 95.1L576.3 95.4L576.7 95.8L577.1 96.3L577.4 96.7L577.8 97.2L578.2 97.6L578.5 98.1L578.9 98.6L579.3 99.1L579.6 99.6L580.0 100.0L580.4 100.5L580.7 101.0L581.1 101.4L581.5 101.8L581.8 102.2L582.2 102.6L582.6 102.9L582.9 103.2L583.3 103.5L583.7 103.7L584.0 103.9L584.4 104.0L584.8 104.1L585.1 104.1L585.5 104.1L585.9 104.0L586.2 103.9L586.6 103.7L587.0 103.5L587.3 103.3L587.7 103.0L588.1 102.7L588.4 102.3L588.8 101.9L589.2 101.5L589.5 101.1L589.9 100.7L590.3 100.2L590.6 99.8L591.0 99.3L591.4 98.9L591.7 98.4L592.1 98.0L592.5 97.5L592.8 97.1L593.2 96.7L593.6 96.3L593.9 95.9L594.3 95.5L594.7 95.2L595.0 94.9L595.4 94.6L595.8 94.4L596.1 94.2L596.5 94.1L596.9 94.0L597.2 93.9L597.6 93.9L598.0 94.0L598.3 94.1L598.7 94.3L599.1 94.4L599.4 94.7L599.8 94.9L600.2 95.2L600.5 95.5L600.9 95.9L601.3 96.3L601.6 96.6L602.0 97.1L602.4 97.5L602.7 97.9L603.1 98.3L603.5 98.8L603.8 99.2L604.2 99.6L604.6 100.0L604.9 100.5L605.3 100.9L605.7 101.2L606.0 101.6L606.4 102.0L606.8 102.3L607.1 102.6L607.5 102.8L607.9 103.1L608.2 103.3L608.6 103.4L609.0 103.5L609.3 103.6L609.7 103.6L610.1 103.5L610.4 103.4L610.8 103.3L611.2 103.2L611.5 103.0L611.9 102.7L612.3 102.5L612.6 102.2L613.0 101.8L613.4 101.5L613.7 101.1L614.1 100.8L614.5 100.4L614.8 100.0L615.2 99.6L615.6 99.2L615.9 98.8L616.3 98.4L616.7 98.0L617.0 97.6L617.4 97.2L617.8 96.8L618.1 96.5L618.5 96.1L618.9 95.8L619.2 95.5L619.6 95.3L620.0 95.0L620.3 94.9L620.7 94.7L621.1 94.6L621.4 94.5L621.8 94.5L622.2 94.5L622.5 94.6L622.9 94.7L623.3 94.8L623.6 95.0L624.0 95.2L624.4 95.5L624.7 95.7L625.1 96.0L625.5 96.3L625.8 96.7L626.2 97.0L626.6 97.4L626.9 97.7L627.3 98.1L627.7 98.5L628.0 98.9L628.4 99.3L628.8 99.6L629.1 100.0L629.5 100.4L629.9 100.7L630.2 101.1L630.6 101.4L631.0 101.7L631.3 102.0L631.7 102.2L632.1 102.4L632.4 102.6L632.8 102.8L633.2 102.9L633.5 103.0L633.9 103.0L634.3 103.0L634.6 103.0L635.0 102.9L635.4 102.7L635.7 102.6L636.1 102.4L636.5 102.2L636.8 101.9L637.2 101.7L637.6 101.4L637.9 101.1L638.3 100.8L638.7 100.4L639.0 100.1L639.4 99.7L639.8 99.4L640.1 99.0L640.5 98.7L640.9 98.3L641.2 98.0L641.6 97.6L642.0 97.3L642.3 97.0L642.7 96.7L643.1 96.4L643.4 96.1L643.8 95.9L644.2 95.7L644.5 95.5L644.9 95.3L645.3 95.2L645.6 95.1L646.0 95.1L646.4 95.1L646.7 95.1L647.1 95.2L647.5 95.3L647.8 95.4L648.2 95.6L648.5 95.7L648.9 96.0L649.3 96.2L649.6 96.5L650.0 96.7L650.4 97.0L650.7 97.3L651.1 97.7L651.5 98.0L651.8 98.3L652.2 98.6L652.6 99.0L652.9 99.3L653.3 99.6L653.7 100.0L654.0 100.3L654.4 100.6L654.8 100.9L655.1 101.1L655.5 101.4L655.9 101.6L656.2 101.8L656.6 102.0L657.0 102.2L657.3 102.3L657.7 102.4L658.1 102.4L658.4 102.5L658.8 102.5L659.2 102.4L659.5 102.4L659.9 102.4L660.3 102.3L660.6 102.2L661.0 102.2L661.4 102.1L661.7 102.0L662.1 101.9L662.5 101.7L662.8 101.6L663.2 101.4L663.6 101.3L663.9 101.1L664.3 100.9L664.7 100.7L665.0 100.5L665.4 100.3L665.8 100.0L666.1 99.8L666.5 99.5L666.9 99.2L667.2 98.9L667.6 98.6L668.0 98.3L668.3 98.0L668.7 97.7L669.1 97.3L669.4 96.9L669.8 96.5L670.2 96.2L670.5 95.7L670.9 95.3L671.3 94.9L671.6 94.4L672.0 94.0L672.4 93.5L672.7 93.0L673.1 92.5L673.5 92.0L673.8 91.5L674.2 90.9L674.6 90.4L674.9 89.8L675.3 89.2L675.7 88.6L676.0 88.0L676.4 87.4L676.8 86.7L677.1 86.1L677.5 85.4L677.9 84.7" fill="none" stroke="#2f72ad" stroke-width="0.65"/>
<path d="M29.6 426.0L29.9 426.0L30.2 426.0L30.5 426.0L30.8 426.0L31.1 426.0L31.4 426.0L31.7 426.0L32.0 426.0L32.3 426.0L32.6 426.0L32.9 426.0L33.2 426.0L33.5 426.0L33.8 426.0L34.1 426.0L34.4 426.0L34.7 426.0L35.0 426.0L35.3 426.0L35.6 426.0L35.9 426.0L36.2 426.0L36.5 426.0L36.8 426.0L37.1 426.0L37.4 426.0L37.7 425.9L38.0 425.9L38.3 425.9L38.7 425.9L39.0 425.9L39.3 425.9L39.6 425.8L39.9 425.8L40.2 425.8L40.5 425.8L40.8 425.8L41.1 425.7L41.4 425.7L41.7 425.7L42.0 425.6L42.3 425.6L42.6 425.6L42.9 425.5L43.2 425.5L43.5 425.4L43.8 425.4L44.1 425.3L44.4 425.3L44.7 425.2L45.0 425.2L45.3 425.1L45.6 425.1L45.9 425.0L46.2 425.0L46.5 424.9L46.8 424.8L47.1 424.8L47.4 424.7L47.7 424.6L48.0 424.5L48.3 424.4L48.6 424.4L48.9 424.3L49.2 424.2L49.5 424.1L49.8 424.0L50.1 423.9L50.4 423.8L50.7 423.7L51.0 423.3L51.3 422.3L51.6 420.8L51.9 418.9L52.2 416.5L52.5 413.8L52.8 410.9L53.1 407.7L53.4 404.3L53.7 400.8L54.0 397.3L54.3 393.8L54.6 390.3L54.9 386.8L55.2 382.8L55.5 378.2L55.8 373.2L56.1 367.8L56.5 362.2L56.8 356.4L57.1 350.5L57.4 344.5L57.7 338.7L58.0 333.0L58.3 327.5L58.6 322.3L58.9 317.5L59.2 313.2L59.5 309.5L59.8 306.4L60.1 303.6L60.4 300.9L60.7 298.2L61.0 295.5L61.3 292.8L61.6 290.3L61.9 287.8L62.2 285.4L62.5 283.2L62.8 281.1L63.1 279.2L63.4 277.5L63.7 275.9L64.0 274.6L64.3 273.5L64.6 272.7L64.9 272.2L65.2 271.9L65.5 272.1L65.8 272.9L66.1 274.4L66.4 276.4L66.7 279.0L67.0 281.9L67.3 285.2L67.6 288.8L67.9 292.5L68.2 296.4L68.5 300.2L68.8 304.1L69.1 307.8L69.4 311.3L69.7 314.6L70.0 317.7L70.3 321.0L70.6 324.5L70.9 328.3L71.2 332.2L71.5 336.2L71.8 340.3L72.1 344.4L72.4 348.4L72.7 352.4L73.0 356.2L73.3 359.8L73.6 363.2L73.9 366.3L74.3 369.2L74.6 371.6L74.9 373.6L75.2 375.2L75.5 376.2L75.8 376.7L76.1 376.7L76.4 376.6L76.7 376.3L77.0 375.9L77.3 375.3L77.6 374.7L77.9 373.9L78.2 373.0L78.5 372.1L78.8 371.0L79.1 369.9L79.4 368.7L79.7 367.4L80.0 366.0L80.3 364.6L80.6 363.1L80.9 361.6L81.2 360.1L81.5 358.5L81.8 356.9L82.1 355.2L82.4 353.6L82.7 351.9L83.0 350.2L83.3 348.6L83.6 346.9L83.9 345.3L84.2 343.6L84.5 342.0L84.8 340.5L85.1 338.9L85.4 337.5L85.7 336.0L86.0 334.7L86.3 333.3L86.6 332.1L86.9 330.9L87.2 329.9L87.5 328.9L87.8 328.0L88.1 327.2L88.4 326.5L88.7 325.9L89.0 325.4L89.3 325.1L89.6 324.9L89.9 324.8L90.2 324.8L90.5 324.9L90.8 324.9L91.1 325.0L91.4 325.1L91.8 325.2L92.1 325.4L92.4 325.6L92.7 325.8L93.0 326.0L93.3 326.2L93.6 326.4L93.9 326.7L94.2 326.9L94.5 327.2L94.8 327.5L95.1 327.7L95.4 328.0L95.7 328.3L96.0 328.6L96.3 328.9L96.6 329.2L96.9 329.6L97.2 329.9L97.5 330.2L97.8 330.5L98.1 330.8L98.4 331.1L98.7 331.3L99.0 331.6L99.3 331.9L99.6 332.1L99.9 332.4L100.2 332.6L100.5 332.8L100.8 333.0L101.1 333.2L101.4 333.4L101.7 333.6L102.0 333.7L102.3 333.8L102.6 333.9L102.9 333.9L103.2 334.0L103.5 334.0L103.8 334.0L104.1 333.9L104.4 333.8L104.7 333.7L105.0 333.5L105.3 333.3L105.6 333.0L105.9 332.8L106.2 332.5L106.5 332.2L106.8 331.8L107.1 331.5L107.4 331.1L107.7 330.8L108.0 330.4L108.3 330.0L108.6 329.6L108.9 329.2L109.2 328.8L109.6 328.4L109.9 328.0L110.2 327.7L110.5 327.3L110.8 327.0L111.1 326.6L111.4 326.3L111.7 326.0L112.0 325.8L112.3 325.5L112.6 325.3L112.9 325.1L113.2 325.0L113.5 324.9L113.8 324.8L114.1 324.8L114.4 324.8L114.7 324.9L115.0 325.0L115.3 325.2L115.6 325.4L115.9 325.7L116.2 325.9L116.5 326.3L116.8 326.6L117.1 327.0L117.4 327.4L117.7 327.8L118.0 328.2L118.3 328.6L118.6 329.0L118.9 329.5L119.2 329.9L119.5 330.3L119.8 330.8L120.1 331.2L120.4 331.6L120.7 332.0L121.0 332.3L121.3 332.6L121.6 332.9L121.9 333.2L122.2 333.5L122.5 333.7L122.8 333.8L123.1 333.9L123.4 334.0L123.7 334.0L124.0 334.0L124.3 333.9L124.6 333.8L124.9 333.7L125.2 333.5L125.5 333.3L125.8 333.1L126.1 332.8L126.4 332.5L126.7 332.2L127.0 331.9L127.4 331.6L127.7 331.3L128.0 330.9L128.3 330.5L128.6 330.1L128.9 329.8L129.2 329.4L129.5 329.0L129.8 328.6L130.1 328.2L130.4 327.8L130.7 327.4L131.0 327.0L131.3 326.6L131.6 326.3L131.9 325.9L132.2 325.6L132.5 325.3L132.8 325.0L133.1 324.7L133.4 324.4L133.7 324.2L134.0 324.0L134.3 323.8L134.6 323.7L134.9 323.6L135.2 323.5L135.5 323.4L135.8 323.4L136.1 323.5L136.4 323.5L136.7 323.6L137.0 323.7L137.3 323.9L137.6 324.1L137.9 324.3L138.2 324.5L138.5 324.8L138.8 325.0L139.1 325.3L139.4 325.7L139.7 326.0L140.0 326.3L140.3 326.7L140.6 327.0L140.9 327.4L141.2 327.8L141.5 328.1L141.8 328.5L142.1 328.9L142.4 329.3L142.7 329.7L143.0 330.0L143.3 330.4L143.6 330.8L143.9 331.1L144.2 331.4L144.5 331.8L144.8 332.1L145.2 332.4L145.5 332.6L145.8 332.9L146.1 333.1L146.4 333.3L146.7 333.5L147.0 333.7L147.3 333.8L147.6 333.9L147.9 334.0L148.2 334.0L148.5 334.0L148.8 334.0L149.1 333.9L149.4 333.8L149.7 333.6L150.0 333.5L150.3 333.3L150.6 333.1L150.9 332.8L151.2 332.6L151.5 332.3L151.8 332.0L152.1 331.7L152.4 331.3L152.7 331.0L153.0 330.7L153.3 330.3L153.6 329.9L153.9 329.6L154.2 329.2L154.5 328.8L154.8 328.5L155.1 328.1L155.4 327.8L155.7 327.4L156.0 327.1L156.3 326.8L156.6 326.4L156.9 326.1L157.2 325.9L157.5 325.6L157.8 325.3L158.1 325.1L158.4 324.9L158.7 324.8L159.0 324.6L159.3 324.5L159.6 324.4L159.9 324.4L160.2 324.3L160.5 324.4L160.8 324.4L161.1 324.5L161.4 324.6L161.7 324.8L162.0 325.0L162.3 325.2L162.6 325.4L163.0 325.6L163.3 325.9L163.6 326.2L163.9 326.5L164.2 326.8L164.5 327.1L164.8 327.5L165.1 327.8L165.4 328.2L165.7 328.5L166.0 328.9L166.3 329.3L166.6 329.6L166.9 330.0L167.2 330.4L167.5 330.7L167.8 331.1L168.1 331.4L168.4 331.7L168.7 332.0L169.0 332.3L169.3 332.6L169.6 332.9L169.9 333.1L170.2 333.3L170.5 333.5L170.8 333.7L171.1 333.8L171.4 333.9L171.7 334.0L172.0 334.0L172.3 334.0L172.6 334.0L172.9 333.9L173.2 333.8L173.5 333.7L173.8 333.5L174.1 333.3L174.4 333.1L174.7 332.9L175.0 332.6L175.3 332.3L175.6 332.0L175.9 331.7L176.2 331.4L176.5 331.1L176.8 330.7L177.1 330.4L177.4 330.0L177.7 329.6L178.0 329.3L178.3 328.9L178.6 328.5L178.9 328.2L179.2 327.8L179.5 327.5L179.8 327.1L180.1 326.8L180.4 326.5L180.8 326.2L181.1 325.9L181.4 325.6L181.7 325.4L182.0 325.2L182.3 325.0L182.6 324.8L182.9 324.6L183.2 324.5L183.5 324.4L183.8 324.4L184.1 324.3L184.4 324.4L184.7 324.4L185.0 324.5L185.3 324.6L185.6 324.8L185.9 324.9L186.2 325.1L186.5 325.3L186.8 325.6L187.1 325.9L187.4 326.1L187.7 326.4L188.0 326.8L188.3 327.1L188.6 327.4L188.9 327.8L189.2 328.1L189.5 328.5L189.8 328.8L190.1 329.2L190.4 329.6L190.7 329.9L191.0 330.3L191.3 330.7L191.6 331.0L191.9 331.3L192.2 331.7L192.5 332.0L192.8 332.3L193.1 332.6L193.4 332.8L193.7 333.1L194.0 333.3L194.3 333.5L194.6 333.6L194.9 333.8L195.2 333.9L195.5 334.0L195.8 334.0L196.1 334.0L196.4 334.0L196.7 333.9L197.0 333.8L197.3 333.7L197.6 333.5L197.9 333.3L198.3 333.1L198.6 332.9L198.9 332.6L199.2 332.4L199.5 332.1L199.8 331.8L200.1 331.5L200.4 331.1L200.7 330.8L201.0 330.4L201.3 330.1L201.6 329.7L201.9 329.3L202.2 329.0L202.5 328.6L202.8 328.2L203.1 327.9L203.4 327.5L203.7 327.2L204.0 326.9L204.3 326.5L204.6 326.2L204.9 325.9L205.2 325.7L205.5 325.4L205.8 325.2L206.1 325.0L206.4 324.8L206.7 324.7L207.0 324.5L207.3 324.4L207.6 324.4L207.9 324.3L208.2 324.4L208.5 324.4L208.8 324.5L209.1 324.6L209.4 324.7L209.7 324.9L210.0 325.1L210.3 325.3L210.6 325.5L210.9 325.8L211.2 326.1L211.5 326.4L211.8 326.7L212.1 327.0L212.4 327.4L212.7 327.7L213.0 328.1L213.3 328.4L213.6 328.8L213.9 329.2L214.2 329.5L214.5 329.9L214.8 330.2L215.1 330.6L215.4 330.9L215.7 331.3L216.1 331.6L216.4 331.9L216.7 332.2L217.0 332.5L217.3 332.8L217.6 333.0L217.9 333.2L218.2 333.4L218.5 333.6L218.8 333.7L219.1 333.9L219.4 333.9L219.7 334.0L220.0 334.0L220.3 334.0L220.6 333.9L220.9 333.8L221.2 333.7L221.5 333.5L221.8 333.4L222.1 333.2L222.4 332.9L222.7 332.7L223.0 332.4L223.3 332.1L223.6 331.8L223.9 331.5L224.2 331.2L224.5 330.8L224.8 330.5L225.1 330.1L225.4 329.8L225.7 329.4L226.0 329.0L226.3 328.7L226.6 328.3L226.9 327.9L227.2 327.6L227.5 327.3L227.8 326.9L228.1 326.6L228.4 326.3L228.7 326.0L229.0 325.7L229.3 325.5L229.6 325.2L229.9 325.0L230.2 324.8L230.5 324.7L230.8 324.5L231.1 324.4L231.4 324.4L231.7 324.3L232.0 324.3L232.3 324.4L232.6 324.5L232.9 324.6L233.2 324.7L233.5 324.9L233.9 325.1L234.2 325.3L234.5 325.5L234.8 325.8L235.1 326.0L235.4 326.3L235.7 326.6L236.0 327.0L236.3 327.3L236.6 327.7L236.9 328.0L237.2 328.4L237.5 328.7L237.8 329.1L238.1 329.5L238.4 329.8L238.7 330.2L239.0 330.5L239.3 330.9L239.6 331.2L239.9 331.6L240.2 331.9L240.5 332.2L240.8 332.5L241.1 332.7L241.4 333.0L241.7 333.2L242.0 333.4L242.3 333.6L242.6 333.7L242.9 333.8L243.2 333.9L243.5 334.0L243.8 334.0L244.1 334.0L244.4 333.9L244.7 333.8L245.0 333.7L245.3 333.6L245.6 333.4L245.9 333.2L246.2 333.0L246.5 332.7L246.8 332.5L247.1 332.2L247.4 331.9L247.7 331.6L248.0 331.2L248.3 330.9L248.6 330.5L248.9 330.2L249.2 329.8L249.5 329.5L249.8 329.1L250.1 328.7L250.4 328.4L250.7 328.0L251.0 327.7L251.3 327.3L251.7 327.0L252.0 326.6L252.3 326.3L252.6 326.0L252.9 325.8L253.2 325.5L253.5 325.3L253.8 325.1L254.1 324.9L254.4 324.7L254.7 324.6L255.0 324.5L255.3 324.4L255.6 324.3L255.9 324.3L256.2 324.4L256.5 324.4L256.8 324.5L257.1 324.7L257.4 324.8L257.7 325.0L258.0 325.2L258.3 325.5L258.6 325.7L258.9 326.0L259.2 326.3L259.5 326.6L259.8 326.9L260.1 327.3L260.4 327.6L260.7 327.9L261.0 328.3L261.3 328.7L261.6 329.0L261.9 329.4L262.2 329.8L262.5 330.1L262.8 330.5L263.1 330.8L263.4 331.2L263.7 331.5L264.0 331.8L264.3 332.1L264.6 332.4L264.9 332.7L265.2 332.9L265.5 333.2L265.8 333.4L266.1 333.5L266.4 333.7L266.7 333.8L267.0 333.9L267.3 334.0L267.6 334.0L267.9 334.0L268.2 333.9L268.5 333.9L268.8 333.7L269.1 333.6L269.5 333.4L269.8 333.2L270.1 333.0L270.4 332.8L270.7 332.5L271.0 332.2L271.3 331.9L271.6 331.6L271.9 331.3L272.2 330.9L272.5 330.6L272.8 330.2L273.1 329.9L273.4 329.5L273.7 329.2L274.0 328.8L274.3 328.4L274.6 328.1L274.9 327.7L275.2 327.4L275.5 327.0L275.8 326.7L276.1 326.4L276.4 326.1L276.7 325.8L277.0 325.5L277.3 325.3L277.6 325.1L277.9 324.9L278.2 324.7L278.5 324.6L278.8 324.5L279.1 324.4L279.4 324.4L279.7 324.3L280.0 324.4L280.3 324.4L280.6 324.5L280.9 324.7L281.2 324.8L281.5 325.0L281.8 325.2L282.1 325.4L282.4 325.7L282.7 325.9L283.0 326.2L283.3 326.5L283.6 326.9L283.9 327.2L284.2 327.5L284.5 327.9L284.8 328.2L285.1 328.6L285.4 329.0L285.7 329.3L286.0 329.7L286.3 330.1L286.6 330.4L287.0 330.8L287.3 331.1L287.6 331.5L287.9 331.8L288.2 332.1L288.5 332.4L288.8 332.6L289.1 332.9L289.4 333.1L289.7 333.3L290.0 333.5L290.3 333.7L290.6 333.8L290.9 333.9L291.2 334.0L291.5 334.0L291.8 334.0L292.1 334.0L292.4 333.9L292.7 333.8L293.0 333.6L293.3 333.5L293.6 333.3L293.9 333.1L294.2 332.8L294.5 332.6L294.8 332.3L295.1 332.0L295.4 331.7L295.7 331.3L296.0 331.0L296.3 330.7L296.6 330.3L296.9 329.9L297.2 329.6L297.5 329.2L297.8 328.8L298.1 328.5L298.4 328.1L298.7 327.8L299.0 327.4L299.3 327.1L299.6 326.8L299.9 326.4L300.2 326.1L300.5 325.9L300.8 325.6L301.1 325.3L301.4 325.1L301.7 324.9L302.0 324.8L302.3 324.6L302.6 324.5L302.9 324.4L303.2 324.4L303.5 324.3L303.8 324.4L304.1 324.4L304.4 324.5L304.8 324.6L305.1 324.8L305.4 325.0L305.7 325.2L306.0 325.4L306.3 325.6L306.6 325.9L306.9 326.2L307.2 326.5L307.5 326.8L307.8 327.1L308.1 327.5L308.4 327.8L308.7 328.2L309.0 328.5L309.3 328.9L309.6 329.3L309.9 329.6L310.2 330.0L310.5 330.4L310.8 330.7L311.1 331.1L311.4 331.4L311.7 331.7L312.0 332.0L312.3 332.3L312.6 332.6L312.9 332.9L313.2 333.1L313.5 333.3L313.8 333.5L314.1 333.7L314.4 333.8L314.7 333.9L315.0 334.0L315.3 334.0L315.6 334.0L315.9 334.0L316.2 333.9L316.5 333.8L316.8 333.7L317.1 333.5L317.4 333.3L317.7 333.1L318.0 332.9L318.3 332.6L318.6 332.3L318.9 332.0L319.2 331.7L319.5 331.4L319.8 331.1L320.1 330.7L320.4 330.4L320.7 330.0L321.0 329.6L321.3 329.3L321.6 328.9L321.9 328.5L322.2 328.2L322.6 327.8L322.9 327.5L323.2 327.1L323.5 326.8L323.8 326.5L324.1 326.2L324.4 325.9L324.7 325.6L325.0 325.4L325.3 325.2L325.6 325.0L325.9 324.8L326.2 324.6L326.5 324.5L326.8 324.4L327.1 324.4L327.4 324.3L327.7 324.4L328.0 324.4L328.3 324.5L328.6 324.6L328.9 324.8L329.2 324.9L329.5 325.1L329.8 325.3L330.1 325.6L330.4 325.9L330.7 326.1L331.0 326.4L331.3 326.8" fill="none" stroke="#eeee5a" stroke-width="0.90"/>
<path d="M29.6 426.0L29.9 426.0L30.2 426.0L30.5 426.0L30.8 426.0L31.1 426.0L31.4 426.0L31.7 426.0L32.0 426.0L32.3 426.0L32.6 426.0L32.9 426.0L33.2 426.0L33.5 426.0L33.8 426.0L34.1 426.0L34.4 426.0L34.7 426.0L35.0 426.0L35.3 426.0L35.6 426.0L35.9 426.0L36.2 426.0L36.5 426.0L36.8 426.0L37.1 426.0L37.4 426.0L37.7 426.0L38.0 426.0L38.3 426.0L38.7 426.0L39.0 426.0L39.3 426.0L39.6 426.0L39.9 426.0L40.2 426.0L40.5 426.0L40.8 426.0L41.1 426.0L41.4 426.0L41.7 425.9L42.0 425.9L42.3 425.9L42.6 425.9L42.9 425.9L43.2 425.8L43.5 425.8L43.8 425.8L44.1 425.7L44.4 425.7L44.7 425.6L45.0 425.6L45.3 425.5L45.6 425.5L45.9 425.4L46.2 425.3L46.5 425.2L46.8 425.2L47.1 425.1L47.4 425.0L47.7 424.9L48.0 424.8L48.3 424.7L48.6 424.6L48.9 424.5L49.2 424.4L49.5 424.3L49.8 424.1L50.1 424.0L50.4 423.8L50.7 423.7L51.0 423.2L51.3 422.1L51.6 420.5L51.9 418.3L52.2 415.7L52.5 412.7L52.8 409.5L53.1 405.9L53.4 402.2L53.7 398.4L54.0 393.5L54.3 386.8L54.6 378.8L54.9 370.0L55.2 360.9L55.5 351.9L55.8 343.5L56.1 336.1L56.5 329.9L56.8 323.4L57.1 316.8L57.4 310.1L57.7 303.6L58.0 297.2L58.3 291.2L58.6 285.6L58.9 280.6L59.2 276.3L59.5 272.9L59.8 270.4L60.1 269.0L60.4 268.8L60.7 269.8L61.0 271.9L61.3 275.0L61.6 278.8L61.9 283.2L62.2 288.2L62.5 293.4L62.8 298.7L63.1 304.1L63.4 309.2L63.7 314.1L64.0 318.8L64.3 324.1L64.6 330.1L64.9 336.5L65.2 343.2L65.5 349.8L65.8 356.4L66.1 362.6L66.4 368.2L66.7 373.2L67.0 377.3L67.3 380.2L67.6 382.0L67.9 382.2L68.2 381.3L68.5 379.5L68.8 376.9L69.1 373.8L69.4 370.2L69.7 366.3L70.0 362.3L70.3 358.4L70.6 354.7L70.9 351.3L71.2 347.5L71.5 343.3L71.8 338.7L72.1 334.0L72.4 329.3L72.7 324.8L73.0 320.6L73.3 317.0L73.6 314.1L73.9 312.1L74.3 311.1L74.6 311.1L74.9 311.7L75.2 312.8L75.5 314.1L75.8 315.7L76.1 317.5L76.4 319.3L76.7 321.2L77.0 322.9L77.3 324.4L77.6 325.6L77.9 326.9L78.2 328.1L78.5 329.3L78.8 330.5L79.1 331.6L79.4 332.8L79.7 333.9L80.0 335.1L80.3 336.2L80.6 337.3L80.9 338.4L81.2 339.5L81.5 340.7L81.8 341.8L82.1 342.9L82.4 344.0L82.7 345.2L83.0 346.4L83.3 347.6L83.6 348.9L83.9 350.3L84.2 351.7L84.5 353.2L84.8 354.8L85.1 356.3L85.4 357.9L85.7 359.4L86.0 360.9L86.3 362.4L86.6 363.9L86.9 365.3L87.2 366.6L87.5 367.8L87.8 368.9L88.1 370.0L88.4 370.9L88.7 371.6L89.0 372.3L89.3 372.7L89.6 373.0L89.9 373.1L90.2 372.9L90.5 372.4L90.8 371.5L91.1 370.2L91.4 368.7L91.8 366.9L92.1 364.9L92.4 362.6L92.7 360.1L93.0 357.5L93.3 354.7L93.6 351.8L93.9 348.7L94.2 345.6L94.5 342.4L94.8 339.2L95.1 335.9L95.4 332.7L95.7 329.5L96.0 326.3L96.3 323.2L96.6 320.2L96.9 317.4L97.2 314.7L97.5 312.2L97.8 309.8L98.1 307.7L98.4 305.8L98.7 304.2L99.0 302.9L99.3 301.9L99.6 301.2L99.9 300.9L100.2 300.9L100.5 301.3L100.8 301.9L101.1 302.8L101.4 304.0L101.7 305.4L102.0 307.0L102.3 308.7L102.6 310.7L102.9 312.8L103.2 315.0L103.5 317.3L103.8 319.8L104.1 322.3L104.4 324.9L104.7 327.5L105.0 330.1L105.3 332.7L105.6 335.3L105.9 337.9L106.2 340.4L106.5 342.8L106.8 345.2L107.1 347.4L107.4 349.5L107.7 351.5L108.0 353.2L108.3 354.8L108.6 356.2L108.9 357.3L109.2 358.2L109.6 358.9L109.9 359.2L110.2 359.3L110.5 359.0L110.8 358.5L111.1 357.7L111.4 356.6L111.7 355.3L112.0 353.8L112.3 352.2L112.6 350.3L112.9 348.3L113.2 346.2L113.5 344.0L113.8 341.6L114.1 339.2L114.4 336.8L114.7 334.3L115.0 331.8L115.3 329.4L115.6 326.9L115.9 324.5L116.2 322.2L116.5 320.0L116.8 317.8L117.1 315.8L117.4 314.0L117.7 312.3L118.0 310.8L118.3 309.5L118.6 308.5L118.9 307.7L119.2 307.1L119.5 306.9L119.8 306.9L120.1 307.2L120.4 307.6L120.7 308.3L121.0 309.2L121.3 310.2L121.6 311.4L121.9 312.7L122.2 314.2L122.5 315.8L122.8 317.6L123.1 319.4L123.4 321.4L123.7 323.4L124.0 325.6L124.3 327.8L124.6 330.0L124.9 332.3L125.2 334.6L125.5 337.0L125.8 339.4L126.1 341.7L126.4 344.1L126.7 346.4L127.0 348.7L127.4 351.0L127.7 353.2L128.0 355.4L128.3 357.4L128.6 359.4L128.9 361.3L129.2 363.1L129.5 364.8L129.8 366.3L130.1 367.7L130.4 368.9L130.7 370.0L131.0 370.9L131.3 371.7L131.6 372.2L131.9 372.5L132.2 372.6L132.5 372.5L132.8 372.1L133.1 371.4L133.4 370.5L133.7 369.4L134.0 368.0L134.3 366.5L134.6 364.7L134.9 362.8L135.2 360.8L135.5 358.6L135.8 356.3L136.1 353.8L136.4 351.3L136.7 348.7L137.0 346.1L137.3 343.4L137.6 340.7L137.9 337.9L138.2 335.2L138.5 332.4L138.8 329.7L139.1 327.0L139.4 324.4L139.7 321.9L140.0 319.4L140.3 317.1L140.6 314.8L140.9 312.7L141.2 310.8L141.5 309.0L141.8 307.4L142.1 306.0L142.4 304.8L142.7 303.8L143.0 303.0L143.3 302.5L143.6 302.3L143.9 302.4L144.2 303.0L144.5 304.2L144.8 305.8L145.2 307.8L145.5 310.1L145.8 312.8L146.1 315.8L146.4 319.0L146.7 322.3L147.0 325.8L147.3 329.4L147.6 333.0L147.9 336.6L148.2 340.1L148.5 343.6L148.8 346.9L149.1 350.0L149.4 352.9L149.7 355.5L150.0 357.7L150.3 359.6L150.6 361.0L150.9 362.0L151.2 362.5L151.5 362.5L151.8 362.2L152.1 361.8L152.4 361.3L152.7 360.5L153.0 359.6L153.3 358.6L153.6 357.4L153.9 356.2L154.2 354.8L154.5 353.3L154.8 351.8L155.1 350.2L155.4 348.5L155.7 346.8L156.0 345.1L156.3 343.3L156.6 341.5L156.9 339.8L157.2 338.0L157.5 336.3L157.8 334.6L158.1 332.9L158.4 331.3L158.7 329.8L159.0 328.4L159.3 327.0L159.6 325.8L159.9 324.7L160.2 323.7L160.5 322.9L160.8 322.2L161.1 321.6L161.4 321.3L161.7 321.1L162.0 321.2L162.3 321.3L162.6 321.7L163.0 322.1L163.3 322.7L163.6 323.5L163.9 324.3L164.2 325.2L164.5 326.3L164.8 327.4L165.1 328.6L165.4 329.9L165.7 331.2L166.0 332.6L166.3 334.1L166.6 335.5L166.9 337.1L167.2 338.6L167.5 340.1L167.8 341.7L168.1 343.2L168.4 344.7L168.7 346.3L169.0 347.7L169.3 349.2L169.6 350.6L169.9 351.9L170.2 353.2L170.5 354.4L170.8 355.5L171.1 356.6L171.4 357.5L171.7 358.3L172.0 359.1L172.3 359.7L172.6 360.1L172.9 360.5L173.2 360.6L173.5 360.7L173.8 360.4L174.1 360.0L174.4 359.3L174.7 358.4L175.0 357.3L175.3 356.0L175.6 354.5L175.9 352.9L176.2 351.2L176.5 349.3L176.8 347.3L177.1 345.2L177.4 343.0L177.7 340.8L178.0 338.6L178.3 336.2L178.6 333.9L178.9 331.6L179.2 329.3L179.5 327.0L179.8 324.8L180.1 322.6L180.4 320.5L180.8 318.5L181.1 316.5L181.4 314.7L181.7 313.1L182.0 311.6L182.3 310.2L182.6 309.0L182.9 308.1L183.2 307.3L183.5 306.8L183.8 306.5L184.1 306.4L184.4 306.7L184.7 307.4L185.0 308.3L185.3 309.5L185.6 311.0L185.9 312.7L186.2 314.7L186.5 316.8L186.8 319.0L187.1 321.4L187.4 323.9L187.7 326.4L188.0 329.1L188.3 331.7L188.6 334.3L188.9 336.9L189.2 339.4L189.5 341.9L189.8 344.2L190.1 346.4L190.4 348.5L190.7 350.3L191.0 352.0L191.3 353.4L191.6 354.5L191.9 355.4L192.2 355.9L192.5 356.1L192.8 356.0L193.1 355.7L193.4 355.3L193.7 354.8L194.0 354.1L194.3 353.3L194.6 352.3L194.9 351.3L195.2 350.2L195.5 349.0L195.8 347.7L196.1 346.3L196.4 344.9L196.7 343.5L197.0 342.0L197.3 340.4L197.6 338.9L197.9 337.4L198.3 335.8L198.6 334.3L198.9 332.8L199.2 331.4L199.5 330.0L199.8 328.6L200.1 327.3L200.4 326.1L200.7 325.0L201.0 323.9L201.3 323.0L201.6 322.2L201.9 321.5L202.2 320.9L202.5 320.5L202.8 320.3L203.1 320.2L203.4 320.3L203.7 320.5L204.0 320.9L204.3 321.5L204.6 322.2L204.9 323.0L205.2 323.9L205.5 324.9L205.8 326.0L206.1 327.2L206.4 328.4L206.7 329.7L207.0 331.1L207.3 332.5L207.6 333.9L207.9 335.3L208.2 336.8L208.5 338.2L208.8 339.7L209.1 341.1L209.4 342.4L209.7 343.8L210.0 345.0L210.3 346.2L210.6 347.4L210.9 348.4L211.2 349.4L211.5 350.2L211.8 350.9L212.1 351.5L212.4 351.9L212.7 352.2L213.0 352.4L213.3 352.4L213.6 352.1L213.9 351.8L214.2 351.2L214.5 350.5L214.8 349.7L215.1 348.7L215.4 347.6L215.7 346.5L216.1 345.2L216.4 343.8L216.7 342.4L217.0 340.9L217.3 339.4L217.6 337.9L217.9 336.3L218.2 334.7L218.5 333.1L218.8 331.5L219.1 330.0L219.4 328.4L219.7 327.0L220.0 325.5L220.3 324.2L220.6 322.9L220.9 321.7L221.2 320.7L221.5 319.7L221.8 318.9L222.1 318.2L222.4 317.6L222.7 317.2L223.0 317.0L223.3 317.0L223.6 317.2L223.9 317.5L224.2 318.0L224.5 318.7L224.8 319.5L225.1 320.5L225.4 321.6L225.7 322.7L226.0 324.0L226.3 325.3L226.6 326.7L226.9 328.1L227.2 329.6L227.5 331.0L227.8 332.5L228.1 333.9L228.4 335.3L228.7 336.7L229.0 338.0L229.3 339.2L229.6 340.4L229.9 341.4L230.2 342.3L230.5 343.1L230.8 343.7L231.1 344.2L231.4 344.5L231.7 344.6L232.0 344.5L232.3 344.2L232.6 343.8L232.9 343.2L233.2 342.4L233.5 341.6L233.9 340.6L234.2 339.5L234.5 338.4L234.8 337.2L235.1 335.9L235.4 334.6L235.7 333.3L236.0 332.0L236.3 330.7L236.6 329.4L236.9 328.1L237.2 326.9L237.5 325.8L237.8 324.8L238.1 323.8L238.4 323.0L238.7 322.3L239.0 321.8L239.3 321.4L239.6 321.2L239.9 321.1L240.2 321.2L240.5 321.4L240.8 321.7L241.1 322.1L241.4 322.6L241.7 323.2L242.0 323.9L242.3 324.6L242.6 325.4L242.9 326.2L243.2 327.1L243.5 328.1L243.8 329.0L244.1 330.0L244.4 331.1L244.7 332.1L245.0 333.1L245.3 334.2L245.6 335.2L245.9 336.2L246.2 337.3L246.5 338.2L246.8 339.2L247.1 340.1L247.4 340.9L247.7 341.8L248.0 342.5L248.3 343.2L248.6 343.8L248.9 344.3L249.2 344.8L249.5 345.1L249.8 345.3L250.1 345.5L250.4 345.5L250.7 345.4L251.0 345.1L251.3 344.8L251.7 344.3L252.0 343.8L252.3 343.1L252.6 342.4L252.9 341.5L253.2 340.7L253.5 339.7L253.8 338.7L254.1 337.7L254.4 336.6L254.7 335.5L255.0 334.4L255.3 333.2L255.6 332.1L255.9 331.0L256.2 329.8L256.5 328.7L256.8 327.7L257.1 326.6L257.4 325.7L257.7 324.7L258.0 323.9L258.3 323.1L258.6 322.4L258.9 321.7L259.2 321.2L259.5 320.8L259.8 320.5L260.1 320.3L260.4 320.2L260.7 320.3L261.0 320.5L261.3 320.8L261.6 321.2L261.9 321.7L262.2 322.4L262.5 323.1L262.8 323.9L263.1 324.7L263.4 325.7L263.7 326.6L264.0 327.7L264.3 328.7L264.6 329.8L264.9 331.0L265.2 332.1L265.5 333.2L265.8 334.4L266.1 335.5L266.4 336.6L266.7 337.7L267.0 338.7L267.3 339.7L267.6 340.7L267.9 341.5L268.2 342.4L268.5 343.1L268.8 343.8L269.1 344.3L269.5 344.8L269.8 345.1L270.1 345.4L270.4 345.5L270.7 345.5L271.0 345.3L271.3 345.0L271.6 344.6L271.9 344.0L272.2 343.4L272.5 342.6L272.8 341.8L273.1 340.9L273.4 339.9L273.7 338.8L274.0 337.7L274.3 336.6L274.6 335.4L274.9 334.2L275.2 332.9L275.5 331.7L275.8 330.5L276.1 329.2L276.4 328.0L276.7 326.8L277.0 325.7L277.3 324.6L277.6 323.5L277.9 322.5L278.2 321.6L278.5 320.8L278.8 320.0L279.1 319.4L279.4 318.8L279.7 318.4L280.0 318.1L280.3 317.9L280.6 317.9L280.9 318.0L281.2 318.3L281.5 318.7L281.8 319.2L282.1 319.8L282.4 320.5L282.7 321.3L283.0 322.2L283.3 323.2L283.6 324.2L283.9 325.3L284.2 326.4L284.5 327.6L284.8 328.8L285.1 330.0L285.4 331.3L285.7 332.5L286.0 333.8L286.3 335.0L286.6 336.2L287.0 337.3L287.3 338.5L287.6 339.5L287.9 340.6L288.2 341.5L288.5 342.4L288.8 343.1L289.1 343.8L289.4 344.4L289.7 344.9L290.0 345.2L290.3 345.4L290.6 345.5L290.9 345.4L291.2 345.2L291.5 344.8L291.8 344.3L292.1 343.7L292.4 343.0L292.7 342.2L293.0 341.2L293.3 340.2L293.6 339.1L293.9 338.0L294.2 336.8L294.5 335.6L294.8 334.3L295.1 333.0L295.4 331.7L295.7 330.3L296.0 329.0L296.3 327.7L296.6 326.4L296.9 325.2L297.2 324.0L297.5 322.8L297.8 321.7L298.1 320.7L298.4 319.7L298.7 318.8L299.0 318.1L299.3 317.4L299.6 316.9L299.9 316.5L300.2 316.2L300.5 316.1L300.8 316.1L301.1 316.3L301.4 316.7L301.7 317.2L302.0 317.8L302.3 318.6L302.6 319.4L302.9 320.4L303.2 321.5L303.5 322.6L303.8 323.8L304.1 325.1L304.4 326.4L304.8 327.8L305.1 329.2L305.4 330.5L305.7 331.9L306.0 333.3L306.3 334.7L306.6 336.0L306.9 337.3L307.2 338.5L307.5 339.7L307.8 340.8L308.1 341.8L308.4 342.7L308.7 343.5L309.0 344.2L309.3 344.8L309.6 345.2L309.9 345.4L310.2 345.5L310.5 345.4L310.8 345.2L311.1 344.8L311.4 344.3L311.7 343.7L312.0 342.9L312.3 342.1L312.6 341.1L312.9 340.1L313.2 339.0L313.5 337.8L313.8 336.6L314.1 335.4L314.4 334.1L314.7 332.8L315.0 331.5L315.3 330.2L315.6 328.9L315.9 327.6L316.2 326.4L316.5 325.2L316.8 324.0L317.1 323.0L317.4 322.0L317.7 321.1L318.0 320.2L318.3 319.5L318.6 318.9L318.9 318.5L319.2 318.1L319.5 317.9L319.8 317.9L320.1 318.0L320.4 318.3L320.7 318.8L321.0 319.3L321.3 320.0L321.6 320.8L321.9 321.7L322.2 322.6L322.6 323.7L322.9 324.8L323.2 326.0L323.5 327.2L323.8 328.5L324.1 329.7L324.4 331.0L324.7 332.4L325.0 333.7L325.3 334.9L325.6 336.2L325.9 337.4L326.2 338.6L326.5 339.7L326.8 340.8L327.1 341.7L327.4 342.6L327.7 343.4L328.0 344.1L328.3 344.6L328.6 345.1L328.9 345.4L329.2 345.5L329.5 345.5L329.8 345.3L330.1 345.1L330.4 344.8L330.7 344.3L331.0 343.7L331.3 343.1" fill="none" stroke="#5ccc5c" stroke-width="0.90"/>
<path d="M29.6 426.0L29.9 426.0L30.2 426.0L30.5 426.0L30.8 426.0L31.1 426.0L31.4 426.0L31.7 426.0L32.0 426.0L32.3 426.0L32.6 426.0L32.9 426.0L33.2 426.0L33.5 426.0L33.8 425.6L34.1 423.8L34.4 420.8L34.7 416.9L35.0 412.4L35.3 407.6L35.6 403.0L35.9 397.9L36.2 391.9L36.5 385.0L36.8 377.6L37.1 369.9L37.4 362.0L37.7 354.3L38.0 346.9L38.3 340.1L38.7 334.0L39.0 328.2L39.3 322.1L39.6 315.8L39.9 309.6L40.2 303.5L40.5 297.8L40.8 292.6L41.1 288.0L41.4 284.3L41.7 281.6L42.0 280.0L42.3 279.8L42.6 280.6L42.9 282.3L43.2 284.9L43.5 288.0L43.8 291.8L44.1 296.0L44.4 300.5L44.7 305.2L45.0 310.1L45.3 314.9L45.6 319.6L45.9 324.1L46.2 328.2L46.5 331.9L46.8 335.0L47.1 338.0L47.4 341.1L47.7 344.2L48.0 347.2L48.3 350.3L48.6 353.3L48.9 356.3L49.2 359.2L49.5 362.0L49.8 364.7L50.1 367.2L50.4 369.7L50.7 371.9L51.0 374.0L51.3 375.8L51.6 377.5L51.9 378.9L52.2 380.0L52.5 381.0L52.8 382.0L53.1 382.9L53.4 383.9L53.7 384.8L54.0 385.6L54.3 386.5L54.6 387.3L54.9 388.0L55.2 388.7L55.5 389.4L55.8 390.0L56.1 390.5L56.5 391.0L56.8 391.4L57.1 391.8L57.4 392.0L57.7 392.3L58.0 392.4L58.3 392.4L58.6 392.3L58.9 391.8L59.2 391.0L59.5 390.0L59.8 388.7L60.1 387.2L60.4 385.4L60.7 383.5L61.0 381.4L61.3 379.1L61.6 376.7L61.9 374.2L62.2 371.6L62.5 369.0L62.8 366.2L63.1 363.5L63.4 360.7L63.7 357.9L64.0 355.0L64.3 351.5L64.6 347.4L64.9 342.8L65.2 338.0L65.5 333.0L65.8 327.9L66.1 323.0L66.4 318.2L66.7 313.8L67.0 309.8L67.3 306.4L67.6 303.3L67.9 300.0L68.2 296.8L68.5 293.6L68.8 290.5L69.1 287.7L69.4 285.1L69.7 282.8L70.0 281.0L70.3 279.7L70.6 279.0L70.9 278.9L71.2 279.7L71.5 281.6L71.8 284.2L72.1 287.5L72.4 291.3L72.7 295.5L73.0 300.0L73.3 304.6L73.6 309.2L73.9 313.6L74.3 317.8L74.6 321.6L74.9 324.8L75.2 327.8L75.5 330.9L75.8 334.2L76.1 337.5L76.4 340.9L76.7 344.2L77.0 347.4L77.3 350.5L77.6 353.5L77.9 356.3L78.2 358.8L78.5 361.0L78.8 362.9L79.1 364.4L79.4 365.5L79.7 366.1L80.0 366.2L80.3 366.1L80.6 366.0L80.9 365.9L81.2 365.6L81.5 365.4L81.8 365.1L82.1 364.7L82.4 364.3L82.7 363.9L83.0 363.5L83.3 363.1L83.6 362.6L83.9 362.2L84.2 361.7L84.5 361.2L84.8 360.8L85.1 360.4L85.4 359.9L85.7 359.5L86.0 359.2L86.3 358.8L86.6 358.5L86.9 358.1L87.2 357.8L87.5 357.4L87.8 357.1L88.1 356.7L88.4 356.4L88.7 356.0L89.0 355.7L89.3 355.3L89.6 354.9L89.9 354.5L90.2 354.1L90.5 353.7L90.8 353.3L91.1 352.9L91.4 352.4L91.8 351.9L92.1 351.4L92.4 350.9L92.7 350.3L93.0 349.7L93.3 349.1L93.6 348.5L93.9 347.8L94.2 347.2L94.5 346.6L94.8 345.9L95.1 345.3L95.4 344.6L95.7 343.9L96.0 343.2L96.3 342.4L96.6 341.6L96.9 340.7L97.2 339.9L97.5 339.0L97.8 338.1L98.1 337.2L98.4 336.2L98.7 335.3L99.0 334.3L99.3 333.4L99.6 332.4L99.9 331.5L100.2 330.5L100.5 329.6L100.8 328.6L101.1 327.7L101.4 326.8L101.7 325.9L102.0 325.0L102.3 324.1L102.6 323.3L102.9 322.5L103.2 321.7L103.5 321.0L103.8 320.3L104.1 319.6L104.4 319.0L104.7 318.4L105.0 317.9L105.3 317.4L105.6 316.9L105.9 316.6L106.2 316.2L106.5 316.0L106.8 315.8L107.1 315.7L107.4 315.6L107.7 315.6L108.0 315.8L108.3 316.2L108.6 316.7L108.9 317.3L109.2 318.0L109.6 318.9L109.9 319.8L110.2 320.8L110.5 322.0L110.8 323.2L111.1 324.4L111.4 325.7L111.7 327.1L112.0 328.4L112.3 329.8L112.6 331.2L112.9 332.6L113.2 334.0L113.5 335.4L113.8 336.8L114.1 338.1L114.4 339.3L114.7 340.5L115.0 341.6L115.3 342.7L115.6 343.6L115.9 344.5L116.2 345.2L116.5 345.8L116.8 346.3L117.1 346.7L117.4 346.8L117.7 346.9L118.0 346.7L118.3 346.4L118.6 346.0L118.9 345.4L119.2 344.8L119.5 344.0L119.8 343.2L120.1 342.3L120.4 341.4L120.7 340.5L121.0 339.5L121.3 338.6L121.6 337.6L121.9 336.8L122.2 335.9L122.5 335.2L122.8 334.5L123.1 334.0L123.4 333.5L123.7 333.2L124.0 333.1L124.3 333.1L124.6 333.2L124.9 333.3L125.2 333.5L125.5 333.7L125.8 334.0L126.1 334.3L126.4 334.6L126.7 334.9L127.0 335.3L127.4 335.6L127.7 335.9L128.0 336.3L128.3 336.6L128.6 336.9L128.9 337.1L129.2 337.3L129.5 337.5L129.8 337.6L130.1 337.7L130.4 337.7L130.7 337.6L131.0 337.5L131.3 337.3L131.6 337.1L131.9 336.8L132.2 336.5L132.5 336.2L132.8 335.8L133.1 335.4L133.4 335.0L133.7 334.6L134.0 334.1L134.3 333.6L134.6 333.1L134.9 332.5L135.2 332.0L135.5 331.4L135.8 330.9L136.1 330.3L136.4 329.8L136.7 329.2L137.0 328.7L137.3 328.2L137.6 327.7L137.9 327.2L138.2 326.7L138.5 326.2L138.8 325.8L139.1 325.4L139.4 325.0L139.7 324.7L140.0 324.4L140.3 324.1L140.6 323.9L140.9 323.8L141.2 323.6L141.5 323.6L141.8 323.6L142.1 323.6L142.4 323.8L142.7 324.0L143.0 324.4L143.3 324.7L143.6 325.2L143.9 325.7L144.2 326.2L144.5 326.8L144.8 327.4L145.2 328.1L145.5 328.8L145.8 329.5L146.1 330.2L146.4 330.9L146.7 331.6L147.0 332.4L147.3 333.1L147.6 333.8L147.9 334.5L148.2 335.1L148.5 335.8L148.8 336.3L149.1 336.9L149.4 337.4L149.7 337.8L150.0 338.2L150.3 338.5L150.6 338.7L150.9 338.9L151.2 339.0L151.5 339.0L151.8 338.9L152.1 338.7L152.4 338.4L152.7 338.0L153.0 337.6L153.3 337.2L153.6 336.6L153.9 336.1L154.2 335.4L154.5 334.8L154.8 334.1L155.1 333.4L155.4 332.6L155.7 331.9L156.0 331.1L156.3 330.4L156.6 329.6L156.9 328.9L157.2 328.2L157.5 327.5L157.8 326.8L158.1 326.2L158.4 325.6L158.7 325.0L159.0 324.5L159.3 324.1L159.6 323.7L159.9 323.4L160.2 323.2L160.5 323.1L160.8 323.0L161.1 323.1L161.4 323.2L161.7 323.4L162.0 323.8L162.3 324.1L162.6 324.6L163.0 325.1L163.3 325.6L163.6 326.2L163.9 326.9L164.2 327.6L164.5 328.3L164.8 329.0L165.1 329.8L165.4 330.5L165.7 331.3L166.0 332.1L166.3 332.8L166.6 333.6L166.9 334.3L167.2 335.0L167.5 335.7L167.8 336.3L168.1 336.9L168.4 337.5L168.7 338.0L169.0 338.4L169.3 338.7L169.6 339.0L169.9 339.2L170.2 339.3L170.5 339.3L170.8 339.2L171.1 339.1L171.4 338.8L171.7 338.5L172.0 338.1L172.3 337.6L172.6 337.0L172.9 336.5L173.2 335.8L173.5 335.1L173.8 334.4L174.1 333.7L174.4 332.9L174.7 332.1L175.0 331.3L175.3 330.5L175.6 329.7L175.9 328.9L176.2 328.2L176.5 327.4L176.8 326.7L177.1 326.0L177.4 325.4L177.7 324.8L178.0 324.3L178.3 323.8L178.6 323.4L178.9 323.0L179.2 322.8L179.5 322.6L179.8 322.5L180.1 322.5L180.4 322.7L180.8 322.9L181.1 323.2L181.4 323.5L181.7 324.0L182.0 324.5L182.3 325.0L182.6 325.7L182.9 326.3L183.2 327.0L183.5 327.8L183.8 328.6L184.1 329.3L184.4 330.2L184.7 331.0L185.0 331.8L185.3 332.6L185.6 333.4L185.9 334.2L186.2 334.9L186.5 335.6L186.8 336.3L187.1 337.0L187.4 337.5L187.7 338.1L188.0 338.5L188.3 338.9L188.6 339.3L188.9 339.5L189.2 339.6L189.5 339.7L189.8 339.6L190.1 339.5L190.4 339.2L190.7 338.9L191.0 338.5L191.3 338.0L191.6 337.5L191.9 336.9L192.2 336.2L192.5 335.5L192.8 334.8L193.1 334.0L193.4 333.2L193.7 332.4L194.0 331.5L194.3 330.7L194.6 329.9L194.9 329.0L195.2 328.2L195.5 327.4L195.8 326.7L196.1 325.9L196.4 325.2L196.7 324.6L197.0 324.0L197.3 323.5L197.6 323.0L197.9 322.6L198.3 322.3L198.6 322.1L198.9 322.0L199.2 322.0L199.5 322.1L199.8 322.3L200.1 322.5L200.4 322.9L200.7 323.4L201.0 323.9L201.3 324.4L201.6 325.1L201.9 325.8L202.2 326.5L202.5 327.3L202.8 328.1L203.1 328.9L203.4 329.7L203.7 330.6L204.0 331.4L204.3 332.3L204.6 333.1L204.9 334.0L205.2 334.8L205.5 335.5L205.8 336.3L206.1 336.9L206.4 337.6L206.7 338.2L207.0 338.7L207.3 339.1L207.6 339.5L207.9 339.8L208.2 339.9L208.5 340.0L208.8 340.0L209.1 339.9L209.4 339.7L209.7 339.3L210.0 338.9L210.3 338.5L210.6 337.9L210.9 337.3L211.2 336.6L211.5 335.9L211.8 335.1L212.1 334.3L212.4 333.5L212.7 332.6L213.0 331.8L213.3 330.9L213.6 330.0L213.9 329.1L214.2 328.3L214.5 327.4L214.8 326.6L215.1 325.9L215.4 325.1L215.7 324.4L216.1 323.8L216.4 323.2L216.7 322.7L217.0 322.3L217.3 321.9L217.6 321.7L217.9 321.5L218.2 321.5L218.5 321.5L218.8 321.7L219.1 321.9L219.4 322.3L219.7 322.7L220.0 323.2L220.3 323.8L220.6 324.5L220.9 325.2L221.2 325.9L221.5 326.7L221.8 327.6L222.1 328.4L222.4 329.3L222.7 330.2L223.0 331.1L223.3 332.0L223.6 332.9L223.9 333.7L224.2 334.6L224.5 335.4L224.8 336.2L225.1 336.9L225.4 337.6L225.7 338.2L226.0 338.8L226.3 339.3L226.6 339.7L226.9 340.0L227.2 340.2L227.5 340.4L227.8 340.4L228.1 340.3L228.4 340.1L228.7 339.8L229.0 339.4L229.3 338.9L229.6 338.4L229.9 337.7L230.2 337.1L230.5 336.3L230.8 335.5L231.1 334.7L231.4 333.8L231.7 332.9L232.0 332.0L232.3 331.1L232.6 330.2L232.9 329.3L233.2 328.4L233.5 327.5L233.9 326.6L234.2 325.8L234.5 325.0L234.8 324.3L235.1 323.6L235.4 323.0L235.7 322.4L236.0 321.9L236.3 321.5L236.6 321.2L236.9 321.0L237.2 320.9L237.5 321.0L237.8 321.1L238.1 321.3L238.4 321.7L238.7 322.1L239.0 322.6L239.3 323.2L239.6 323.9L239.9 324.6L240.2 325.3L240.5 326.2L240.8 327.0L241.1 327.9L241.4 328.8L241.7 329.7L242.0 330.7L242.3 331.6L242.6 332.5L242.9 333.5L243.2 334.4L243.5 335.2L243.8 336.1L244.1 336.8L244.4 337.6L244.7 338.3L245.0 338.9L245.3 339.4L245.6 339.9L245.9 340.2L246.2 340.5L246.5 340.7L246.8 340.7L247.1 340.7L247.4 340.5L247.7 340.2L248.0 339.8L248.3 339.4L248.6 338.8L248.9 338.2L249.2 337.5L249.5 336.7L249.8 335.9L250.1 335.1L250.4 334.2L250.7 333.3L251.0 332.3L251.3 331.4L251.7 330.4L252.0 329.5L252.3 328.5L252.6 327.6L252.9 326.7L253.2 325.8L253.5 324.9L253.8 324.1L254.1 323.4L254.4 322.7L254.7 322.1L255.0 321.6L255.3 321.2L255.6 320.8L255.9 320.6L256.2 320.4L256.5 320.4L256.8 320.5L257.1 320.7L257.4 321.1L257.7 321.5L258.0 322.0L258.3 322.6L258.6 323.2L258.9 324.0L259.2 324.7L259.5 325.6L259.8 326.5L260.1 327.4L260.4 328.3L260.7 329.3L261.0 330.3L261.3 331.2L261.6 332.2L261.9 333.2L262.2 334.1L262.5 335.0L262.8 335.9L263.1 336.8L263.4 337.5L263.7 338.3L264.0 338.9L264.3 339.5L264.6 340.0L264.9 340.4L265.2 340.8L265.5 341.0L265.8 341.1L266.1 341.1L266.4 340.9L266.7 340.7L267.0 340.3L267.3 339.8L267.6 339.3L267.9 338.7L268.2 338.0L268.5 337.2L268.8 336.4L269.1 335.5L269.5 334.6L269.8 333.6L270.1 332.6L270.4 331.7L270.7 330.7L271.0 329.7L271.3 328.7L271.6 327.7L271.9 326.7L272.2 325.8L272.5 324.9L272.8 324.1L273.1 323.3L273.4 322.5L273.7 321.9L274.0 321.3L274.3 320.8L274.6 320.4L274.9 320.1L275.2 320.0L275.5 319.9L275.8 320.0L276.1 320.1L276.4 320.4L276.7 320.8L277.0 321.3L277.3 321.9L277.6 322.6L277.9 323.3L278.2 324.1L278.5 325.0L278.8 325.9L279.1 326.8L279.4 327.8L279.7 328.8L280.0 329.8L280.3 330.8L280.6 331.9L280.9 332.9L281.2 333.9L281.5 334.8L281.8 335.7L282.1 336.6L282.4 337.5L282.7 338.3L283.0 339.0L283.3 339.6L283.6 340.2L283.9 340.6L284.2 341.0L284.5 341.3L284.8 341.4L285.1 341.4L285.4 341.3L285.7 341.1L286.0 340.8L286.3 340.3L286.6 339.8L287.0 339.1L287.3 338.4L287.6 337.7L287.9 336.8L288.2 335.9L288.5 335.0L288.8 334.0L289.1 333.0L289.4 332.0L289.7 330.9L290.0 329.9L290.3 328.8L290.6 327.8L290.9 326.8L291.2 325.8L291.5 324.9L291.8 324.0L292.1 323.1L292.4 322.4L292.7 321.7L293.0 321.0L293.3 320.5L293.6 320.0L293.9 319.7L294.2 319.5L294.5 319.4L294.8 319.4L295.1 319.5L295.4 319.8L295.7 320.2L296.0 320.7L296.3 321.3L296.6 321.9L296.9 322.7L297.2 323.5L297.5 324.4L297.8 325.3L298.1 326.3L298.4 327.3L298.7 328.3L299.0 329.3L299.3 330.4L299.6 331.5L299.9 332.5L300.2 333.6L300.5 334.6L300.8 335.5L301.1 336.5L301.4 337.4L301.7 338.2L302.0 339.0L302.3 339.7L302.6 340.3L302.9 340.8L303.2 341.2L303.5 341.5L303.8 341.7L304.1 341.8L304.4 341.7L304.8 341.5L305.1 341.2L305.4 340.8L305.7 340.2L306.0 339.6L306.3 338.9L306.6 338.1L306.9 337.3L307.2 336.4L307.5 335.4L307.8 334.4L308.1 333.4L308.4 332.3L308.7 331.2L309.0 330.1L309.3 329.0L309.6 328.0L309.9 326.9L310.2 325.9L310.5 324.9L310.8 324.0L311.1 323.1L311.4 322.2L311.7 321.5L312.0 320.8L312.3 320.2L312.6 319.7L312.9 319.3L313.2 319.0L313.5 318.9L313.8 318.9L314.1 319.0L314.4 319.2L314.7 319.6L315.0 320.0L315.3 320.6L315.6 321.3L315.9 322.0L316.2 322.8L316.5 323.7L316.8 324.7L317.1 325.7L317.4 326.7L317.7 327.8L318.0 328.8L318.3 329.9L318.6 331.0L318.9 332.1L319.2 333.2L319.5 334.3L319.8 335.3L320.1 336.3L320.4 337.3L320.7 338.1L321.0 339.0L321.3 339.7L321.6 340.4L321.9 340.9L322.2 341.4L322.6 341.8L322.9 342.0L323.2 342.1L323.5 342.1L323.8 342.1L324.1 342.0L324.4 341.8L324.7 341.6L325.0 341.4L325.3 341.1L325.6 340.7L325.9 340.3L326.2 339.9L326.5 339.4L326.8 338.9L327.1 338.3L327.4 337.7L327.7 337.0L328.0 336.3L328.3 335.5L328.6 334.7L328.9 333.8L329.2 332.9L329.5 332.0L329.8 330.9L330.1 329.9L330.4 328.8L330.7 327.6L331.0 326.5L331.3 325.2" fill="none" stroke="#e2acc2" stroke-width="0.90"/>
<path d="M29.6 426.0L29.9 426.0L30.2 426.0L30.5 426.0L30.8 426.0L31.1 426.0L31.4 426.0L31.7 426.0L32.0 426.0L32.3 426.0L32.6 426.0L32.9 426.0L33.2 426.0L33.5 426.0L33.8 425.6L34.1 423.8L34.4 420.8L34.7 416.9L35.0 412.4L35.3 407.6L35.6 403.0L35.9 397.9L36.2 391.9L36.5 385.1L36.8 377.7L37.1 370.0L37.4 362.1L37.7 354.4L38.0 347.0L38.3 340.1L38.7 334.0L39.0 328.1L39.3 321.9L39.6 315.5L39.9 309.1L40.2 302.8L40.5 297.0L40.8 291.6L41.1 286.9L41.4 283.1L41.7 280.3L42.0 278.7L42.3 278.4L42.6 279.2L42.9 280.9L43.2 283.4L43.5 286.6L43.8 290.4L44.1 294.6L44.4 299.1L44.7 303.9L45.0 308.9L45.3 313.8L45.6 318.7L45.9 323.3L46.2 327.7L46.5 331.6L46.8 335.1L47.1 338.5L47.4 342.0L47.7 345.6L48.0 349.1L48.3 352.7L48.6 356.3L48.9 359.8L49.2 363.2L49.5 366.6L49.8 369.9L50.1 373.0L50.4 376.0L50.7 378.7L51.0 381.3L51.3 383.7L51.6 385.8L51.9 387.7L52.2 389.2L52.5 390.6L52.8 392.0L53.1 393.3L53.4 394.6L53.7 395.9L54.0 397.2L54.3 398.4L54.6 399.5L54.9 400.6L55.2 401.7L55.5 402.6L55.8 403.5L56.1 404.3L56.5 405.0L56.8 405.6L57.1 406.2L57.4 406.6L57.7 406.9L58.0 407.1L58.3 407.1L58.6 406.9L58.9 406.3L59.2 405.2L59.5 403.9L59.8 402.1L60.1 400.1L60.4 397.8L60.7 395.3L61.0 392.5L61.3 389.5L61.6 386.4L61.9 383.2L62.2 379.9L62.5 376.5L62.8 373.0L63.1 369.6L63.4 366.1L63.7 362.7L64.0 359.2L64.3 355.2L64.6 350.6L64.9 345.6L65.2 340.4L65.5 335.0L65.8 329.6L66.1 324.3L66.4 319.2L66.7 314.5L67.0 310.1L67.3 306.4L67.6 302.9L67.9 299.3L68.2 295.6L68.5 292.0L68.8 288.5L69.1 285.2L69.4 282.3L69.7 279.7L70.0 277.7L70.3 276.2L70.6 275.3L70.9 275.2L71.2 276.1L71.5 278.0L71.8 280.8L72.1 284.3L72.4 288.3L72.7 292.8L73.0 297.6L73.3 302.6L73.6 307.5L73.9 312.4L74.3 317.0L74.6 321.1L74.9 324.8L75.2 328.3L75.5 332.0L75.8 335.8L76.1 339.8L76.4 343.8L76.7 347.8L77.0 351.8L77.3 355.6L77.6 359.2L77.9 362.6L78.2 365.7L78.5 368.5L78.8 370.8L79.1 372.7L79.4 374.0L79.7 374.8L80.0 374.9L80.3 374.8L80.6 374.5L80.9 374.1L81.2 373.6L81.5 373.0L81.8 372.3L82.1 371.5L82.4 370.7L82.7 369.8L83.0 368.9L83.3 368.0L83.6 367.0L83.9 366.1L84.2 365.3L84.5 364.4L84.8 363.7L85.1 363.0L85.4 362.4L85.7 361.9L86.0 361.5L86.3 361.2L86.6 360.9L86.9 360.6L87.2 360.3L87.5 360.1L87.8 359.9L88.1 359.7L88.4 359.5L88.7 359.3L89.0 359.2L89.3 359.0L89.6 358.8L89.9 358.5L90.2 358.3L90.5 358.0L90.8 357.7L91.1 357.4L91.4 357.0L91.8 356.5L92.1 356.0L92.4 355.3L92.7 354.5L93.0 353.7L93.3 352.8L93.6 351.9L93.9 351.0L94.2 350.1L94.5 349.2L94.8 348.3L95.1 347.5L95.4 346.7L95.7 345.8L96.0 344.9L96.3 344.0L96.6 343.0L96.9 342.0L97.2 341.0L97.5 339.9L97.8 338.9L98.1 337.8L98.4 336.7L98.7 335.6L99.0 334.5L99.3 333.4L99.6 332.3L99.9 331.2L100.2 330.1L100.5 329.0L100.8 327.9L101.1 326.9L101.4 325.8L101.7 324.8L102.0 323.8L102.3 322.9L102.6 321.9L102.9 321.0L103.2 320.1L103.5 319.3L103.8 318.5L104.1 317.8L104.4 317.1L104.7 316.4L105.0 315.8L105.3 315.3L105.6 314.8L105.9 314.4L106.2 314.0L106.5 313.7L106.8 313.5L107.1 313.4L107.4 313.3L107.7 313.3L108.0 313.6L108.3 314.0L108.6 314.6L108.9 315.4L109.2 316.4L109.6 317.5L109.9 318.7L110.2 320.0L110.5 321.4L110.8 322.9L111.1 324.5L111.4 326.1L111.7 327.8L112.0 329.5L112.3 331.2L112.6 332.9L112.9 334.6L113.2 336.3L113.5 337.9L113.8 339.5L114.1 341.1L114.4 342.5L114.7 343.9L115.0 345.1L115.3 346.2L115.6 347.2L115.9 348.0L116.2 348.7L116.5 349.2L116.8 349.5L117.1 349.6L117.4 349.5L117.7 349.3L118.0 348.8L118.3 348.2L118.6 347.5L118.9 346.7L119.2 345.8L119.5 344.8L119.8 343.8L120.1 342.7L120.4 341.6L120.7 340.6L121.0 339.5L121.3 338.5L121.6 337.5L121.9 336.6L122.2 335.9L122.5 335.2L122.8 334.7L123.1 334.3L123.4 334.0L123.7 334.0L124.0 334.1L124.3 334.2L124.6 334.5L124.9 334.8L125.2 335.1L125.5 335.5L125.8 335.9L126.1 336.4L126.4 336.8L126.7 337.3L127.0 337.7L127.4 338.1L127.7 338.5L128.0 338.8L128.3 339.1L128.6 339.3L128.9 339.5L129.2 339.5L129.5 339.5L129.8 339.4L130.1 339.1L130.4 338.9L130.7 338.5L131.0 338.1L131.3 337.7L131.6 337.2L131.9 336.6L132.2 336.0L132.5 335.3L132.8 334.7L133.1 334.0L133.4 333.2L133.7 332.5L134.0 331.7L134.3 331.0L134.6 330.2L134.9 329.5L135.2 328.7L135.5 328.0L135.8 327.2L136.1 326.5L136.4 325.9L136.7 325.2L137.0 324.6L137.3 324.1L137.6 323.5L137.9 323.1L138.2 322.7L138.5 322.3L138.8 322.1L139.1 321.9L139.4 321.7L139.7 321.7L140.0 321.7L140.3 321.9L140.6 322.1L140.9 322.5L141.2 322.9L141.5 323.4L141.8 323.9L142.1 324.5L142.4 325.2L142.7 325.9L143.0 326.6L143.3 327.4L143.6 328.2L143.9 329.0L144.2 329.8L144.5 330.6L144.8 331.4L145.2 332.2L145.5 333.0L145.8 333.8L146.1 334.5L146.4 335.2L146.7 335.8L147.0 336.4L147.3 337.0L147.6 337.4L147.9 337.8L148.2 338.1L148.5 338.4L148.8 338.5L149.1 338.5L149.4 338.5L149.7 338.3L150.0 338.0L150.3 337.7L150.6 337.2L150.9 336.7L151.2 336.1L151.5 335.5L151.8 334.8L152.1 334.1L152.4 333.3L152.7 332.5L153.0 331.7L153.3 330.8L153.6 330.0L153.9 329.1L154.2 328.3L154.5 327.5L154.8 326.6L155.1 325.9L155.4 325.1L155.7 324.4L156.0 323.7L156.3 323.1L156.6 322.6L156.9 322.1L157.2 321.7L157.5 321.4L157.8 321.2L158.1 321.0L158.4 321.0L158.7 321.1L159.0 321.3L159.3 321.6L159.6 322.0L159.9 322.5L160.2 323.0L160.5 323.6L160.8 324.3L161.1 325.0L161.4 325.8L161.7 326.6L162.0 327.5L162.3 328.3L162.6 329.2L163.0 330.1L163.3 331.0L163.6 331.9L163.9 332.8L164.2 333.6L164.5 334.4L164.8 335.2L165.1 336.0L165.4 336.7L165.7 337.3L166.0 337.8L166.3 338.3L166.6 338.7L166.9 339.1L167.2 339.3L167.5 339.4L167.8 339.4L168.1 339.3L168.4 339.0L168.7 338.7L169.0 338.3L169.3 337.8L169.6 337.2L169.9 336.6L170.2 335.8L170.5 335.1L170.8 334.3L171.1 333.4L171.4 332.5L171.7 331.6L172.0 330.7L172.3 329.8L172.6 328.9L172.9 327.9L173.2 327.0L173.5 326.2L173.8 325.3L174.1 324.5L174.4 323.8L174.7 323.1L175.0 322.4L175.3 321.8L175.6 321.4L175.9 320.9L176.2 320.6L176.5 320.4L176.8 320.3L177.1 320.4L177.4 320.5L177.7 320.7L178.0 321.1L178.3 321.6L178.6 322.1L178.9 322.7L179.2 323.4L179.5 324.2L179.8 325.0L180.1 325.8L180.4 326.7L180.8 327.7L181.1 328.6L181.4 329.6L181.7 330.5L182.0 331.5L182.3 332.5L182.6 333.4L182.9 334.3L183.2 335.2L183.5 336.0L183.8 336.8L184.1 337.5L184.4 338.2L184.7 338.8L185.0 339.3L185.3 339.7L185.6 340.0L185.9 340.2L186.2 340.2L186.5 340.2L186.8 340.0L187.1 339.8L187.4 339.4L187.7 338.9L188.0 338.3L188.3 337.7L188.6 336.9L188.9 336.1L189.2 335.3L189.5 334.4L189.8 333.5L190.1 332.5L190.4 331.5L190.7 330.5L191.0 329.5L191.3 328.5L191.6 327.5L191.9 326.6L192.2 325.6L192.5 324.7L192.8 323.9L193.1 323.1L193.4 322.4L193.7 321.7L194.0 321.1L194.3 320.6L194.6 320.2L194.9 319.9L195.2 319.7L195.5 319.6L195.8 319.7L196.1 319.9L196.4 320.2L196.7 320.6L197.0 321.2L197.3 321.8L197.6 322.5L197.9 323.2L198.3 324.1L198.6 325.0L198.9 325.9L199.2 326.9L199.5 327.9L199.8 328.9L200.1 329.9L200.4 331.0L200.7 332.0L201.0 333.0L201.3 334.0L201.6 335.0L201.9 335.9L202.2 336.8L202.5 337.6L202.8 338.4L203.1 339.1L203.4 339.7L203.7 340.2L204.0 340.6L204.3 340.9L204.6 341.0L204.9 341.1L205.2 341.0L205.5 340.8L205.8 340.4L206.1 340.0L206.4 339.4L206.7 338.8L207.0 338.1L207.3 337.3L207.6 336.4L207.9 335.5L208.2 334.5L208.5 333.5L208.8 332.4L209.1 331.4L209.4 330.3L209.7 329.2L210.0 328.2L210.3 327.1L210.6 326.1L210.9 325.1L211.2 324.1L211.5 323.2L211.8 322.4L212.1 321.6L212.4 320.9L212.7 320.3L213.0 319.8L213.3 319.4L213.6 319.2L213.9 319.0L214.2 319.0L214.5 319.1L214.8 319.3L215.1 319.7L215.4 320.2L215.7 320.8L216.1 321.5L216.4 322.2L216.7 323.1L217.0 324.0L217.3 325.0L217.6 326.0L217.9 327.1L218.2 328.1L218.5 329.2L218.8 330.4L219.1 331.5L219.4 332.6L219.7 333.7L220.0 334.7L220.3 335.8L220.6 336.7L220.9 337.7L221.2 338.5L221.5 339.3L221.8 340.0L222.1 340.6L222.4 341.1L222.7 341.5L223.0 341.8L223.3 341.9L223.6 341.9L223.9 341.8L224.2 341.5L224.5 341.1L224.8 340.6L225.1 340.0L225.4 339.2L225.7 338.4L226.0 337.5L226.3 336.6L226.6 335.6L226.9 334.5L227.2 333.4L227.5 332.3L227.8 331.2L228.1 330.0L228.4 328.9L228.7 327.7L229.0 326.6L229.3 325.5L229.6 324.5L229.9 323.5L230.2 322.5L230.5 321.7L230.8 320.9L231.1 320.2L231.4 319.6L231.7 319.1L232.0 318.7L232.3 318.4L232.6 318.3L232.9 318.3L233.2 318.5L233.5 318.8L233.9 319.2L234.2 319.8L234.5 320.5L234.8 321.2L235.1 322.1L235.4 323.0L235.7 324.0L236.0 325.1L236.3 326.2L236.6 327.3L236.9 328.5L237.2 329.6L237.5 330.8L237.8 332.0L238.1 333.2L238.4 334.4L238.7 335.5L239.0 336.6L239.3 337.6L239.6 338.5L239.9 339.4L240.2 340.2L240.5 341.0L240.8 341.6L241.1 342.1L241.4 342.5L241.7 342.7L242.0 342.8L242.3 342.7L242.6 342.5L242.9 342.2L243.2 341.7L243.5 341.1L243.8 340.4L244.1 339.6L244.4 338.7L244.7 337.8L245.0 336.7L245.3 335.7L245.6 334.5L245.9 333.3L246.2 332.1L246.5 330.9L246.8 329.7L247.1 328.5L247.4 327.3L247.7 326.1L248.0 324.9L248.3 323.8L248.6 322.8L248.9 321.8L249.2 320.9L249.5 320.1L249.8 319.4L250.1 318.8L250.4 318.3L250.7 317.9L251.0 317.7L251.3 317.6L251.7 317.7L252.0 317.9L252.3 318.3L252.6 318.8L252.9 319.4L253.2 320.2L253.5 321.0L253.8 322.0L254.1 323.0L254.4 324.0L254.7 325.2L255.0 326.4L255.3 327.6L255.6 328.8L255.9 330.1L256.2 331.4L256.5 332.6L256.8 333.9L257.1 335.1L257.4 336.3L257.7 337.4L258.0 338.5L258.3 339.5L258.6 340.4L258.9 341.2L259.2 341.9L259.5 342.5L259.8 343.0L260.1 343.4L260.4 343.6L260.7 343.6L261.0 343.5L261.3 343.3L261.6 342.9L261.9 342.3L262.2 341.6L262.5 340.9L262.8 340.0L263.1 339.0L263.4 338.0L263.7 336.8L264.0 335.7L264.3 334.4L264.6 333.2L264.9 331.9L265.2 330.6L265.5 329.3L265.8 328.0L266.1 326.7L266.4 325.5L266.7 324.3L267.0 323.2L267.3 322.1L267.6 321.1L267.9 320.1L268.2 319.3L268.5 318.6L268.8 318.0L269.1 317.5L269.5 317.2L269.8 317.0L270.1 316.9L270.4 317.1L270.7 317.4L271.0 317.8L271.3 318.4L271.6 319.1L271.9 319.9L272.2 320.9L272.5 321.9L272.8 323.0L273.1 324.1L273.4 325.4L273.7 326.6L274.0 327.9L274.3 329.3L274.6 330.6L274.9 331.9L275.2 333.3L275.5 334.6L275.8 335.9L276.1 337.1L276.4 338.3L276.7 339.4L277.0 340.4L277.3 341.3L277.6 342.2L277.9 342.9L278.2 343.5L278.5 344.0L278.8 344.3L279.1 344.5L279.4 344.5L279.7 344.3L280.0 344.0L280.3 343.5L280.6 342.9L280.9 342.1L281.2 341.3L281.5 340.3L281.8 339.2L282.1 338.1L282.4 336.9L282.7 335.6L283.0 334.3L283.3 333.0L283.6 331.6L283.9 330.3L284.2 328.9L284.5 327.5L284.8 326.2L285.1 324.9L285.4 323.6L285.7 322.4L286.0 321.3L286.3 320.3L286.6 319.3L287.0 318.5L287.3 317.8L287.6 317.2L287.9 316.7L288.2 316.4L288.5 316.3L288.8 316.3L289.1 316.5L289.4 316.9L289.7 317.4L290.0 318.0L290.3 318.8L290.6 319.7L290.9 320.7L291.2 321.9L291.5 323.0L291.8 324.3L292.1 325.6L292.4 326.9L292.7 328.3L293.0 329.7L293.3 331.2L293.6 332.6L293.9 334.0L294.2 335.3L294.5 336.7L294.8 337.9L295.1 339.2L295.4 340.3L295.7 341.4L296.0 342.3L296.3 343.2L296.6 343.9L296.9 344.5L297.2 344.9L297.5 345.2L297.8 345.3L298.1 345.3L298.4 345.0L298.7 344.6L299.0 344.1L299.3 343.4L299.6 342.6L299.9 341.6L300.2 340.6L300.5 339.4L300.8 338.2L301.1 336.9L301.4 335.6L301.7 334.2L302.0 332.7L302.3 331.3L302.6 329.9L302.9 328.4L303.2 327.0L303.5 325.6L303.8 324.2L304.1 322.9L304.4 321.7L304.8 320.5L305.1 319.5L305.4 318.5L305.7 317.7L306.0 316.9L306.3 316.4L306.6 315.9L306.9 315.7L307.2 315.6L307.5 315.7L307.8 315.9L308.1 316.4L308.4 317.0L308.7 317.7L309.0 318.6L309.3 319.6L309.6 320.7L309.9 321.9L310.2 323.1L310.5 324.5L310.8 325.9L311.1 327.3L311.4 328.8L311.7 330.3L312.0 331.8L312.3 333.2L312.6 334.7L312.9 336.1L313.2 337.5L313.5 338.8L313.8 340.1L314.1 341.3L314.4 342.4L314.7 343.3L315.0 344.2L315.3 344.9L315.6 345.5L315.9 345.9L316.2 346.1L316.5 346.2L316.8 346.1L317.1 345.8L317.4 345.3L317.7 344.6L318.0 343.9L318.3 342.9L318.6 341.9L318.9 340.8L319.2 339.5L319.5 338.2L319.8 336.9L320.1 335.4L320.4 333.9L320.7 332.4L321.0 330.9L321.3 329.4L321.6 327.9L321.9 326.4L322.2 324.9L322.6 323.5L322.9 322.2L323.2 320.9L323.5 319.7L323.8 318.6L324.1 317.7L324.4 316.8L324.7 316.1L325.0 315.5L325.3 315.1L325.6 314.9L325.9 314.9L326.2 314.9L326.5 315.1L326.8 315.3L327.1 315.5L327.4 315.9L327.7 316.3L328.0 316.7L328.3 317.3L328.6 317.9L328.9 318.5L329.2 319.3L329.5 320.1L329.8 320.9L330.1 321.9L330.4 322.9L330.7 324.0L331.0 325.1L331.3 326.3" fill="none" stroke="#aa3c3c" stroke-width="0.90"/>
<path d="M29.6 426.0L29.9 426.0L30.2 426.0L30.5 426.0L30.8 426.0L31.1 426.0L31.4 426.0L31.7 426.0L32.0 426.0L32.3 426.0L32.6 426.0L32.9 426.0L33.2 426.0L33.5 426.0L33.8 425.6L34.1 423.9L34.4 420.9L34.7 417.0L35.0 412.5L35.3 407.8L35.6 403.0L35.9 397.5L36.2 390.7L36.5 382.7L36.8 374.1L37.1 365.0L37.4 355.8L37.7 346.9L38.0 338.5L38.3 331.1L38.7 324.8L39.0 319.2L39.3 313.4L39.6 307.6L39.9 301.9L40.2 296.2L40.5 290.8L40.8 285.6L41.1 280.7L41.4 276.3L41.7 272.3L42.0 268.9L42.3 266.1L42.6 264.0L42.9 262.7L43.2 262.2L43.5 262.8L43.8 264.2L44.1 266.6L44.4 269.7L44.7 273.4L45.0 277.8L45.3 282.5L45.6 287.7L45.9 293.0L46.2 298.6L46.5 304.1L46.8 309.6L47.1 315.0L47.4 320.1L47.7 324.8L48.0 329.6L48.3 334.8L48.6 340.4L48.9 346.3L49.2 352.3L49.5 358.3L49.8 364.4L50.1 370.2L50.4 375.8L50.7 381.1L51.0 385.9L51.3 390.1L51.6 393.7L51.9 396.5L52.2 398.4L52.5 399.8L52.8 401.2L53.1 402.6L53.4 403.9L53.7 405.2L54.0 406.4L54.3 407.6L54.6 408.7L54.9 409.8L55.2 410.8L55.5 411.8L55.8 412.7L56.1 413.6L56.5 414.4L56.8 415.2L57.1 415.9L57.4 416.5L57.7 417.1L58.0 417.6L58.3 418.1L58.6 418.5L58.9 418.8L59.2 419.1L59.5 419.3L59.8 419.5L60.1 419.5L60.4 419.5L60.7 419.1L61.0 418.0L61.3 416.5L61.6 414.6L61.9 412.2L62.2 409.4L62.5 406.3L62.8 402.9L63.1 399.3L63.4 395.4L63.7 391.4L64.0 387.2L64.3 383.0L64.6 378.6L64.9 374.3L65.2 370.0L65.5 365.7L65.8 361.6L66.1 357.2L66.4 352.0L66.7 346.4L67.0 340.4L67.3 334.1L67.6 327.6L67.9 321.2L68.2 314.8L68.5 308.7L68.8 302.9L69.1 297.7L69.4 293.0L69.7 289.1L70.0 285.9L70.3 282.6L70.6 279.4L70.9 276.3L71.2 273.3L71.5 270.4L71.8 267.7L72.1 265.3L72.4 263.1L72.7 261.3L73.0 259.8L73.3 258.8L73.6 258.2L73.9 258.2L74.3 259.0L74.6 260.9L74.9 263.6L75.2 267.0L75.5 271.0L75.8 275.5L76.1 280.4L76.4 285.5L76.7 290.8L77.0 296.1L77.3 301.3L77.6 306.3L77.9 311.0L78.2 315.9L78.5 321.5L78.8 327.6L79.1 334.2L79.4 341.0L79.7 347.9L80.0 354.7L80.3 361.3L80.6 367.5L80.9 373.2L81.2 378.2L81.5 382.4L81.8 385.6L82.1 387.6L82.4 388.3L82.7 388.1L83.0 387.7L83.3 387.1L83.6 386.2L83.9 385.2L84.2 384.2L84.5 383.0L84.8 381.9L85.1 380.8L85.4 379.8L85.7 379.0L86.0 378.3L86.3 377.8L86.6 377.5L86.9 377.3L87.2 377.1L87.5 377.0L87.8 376.9L88.1 376.8L88.4 376.7L88.7 376.6L89.0 376.5L89.3 376.4L89.6 376.2L89.9 376.1L90.2 375.9L90.5 375.7L90.8 375.5L91.1 375.1L91.4 374.5L91.8 373.5L92.1 372.4L92.4 371.0L92.7 369.5L93.0 367.8L93.3 366.1L93.6 364.3L93.9 362.6L94.2 360.9L94.5 359.3L94.8 357.9L95.1 356.6L95.4 355.3L95.7 354.0L96.0 352.7L96.3 351.3L96.6 349.9L96.9 348.5L97.2 347.1L97.5 345.6L97.8 344.2L98.1 342.7L98.4 341.3L98.7 339.8L99.0 338.3L99.3 336.9L99.6 335.4L99.9 334.0L100.2 332.5L100.5 331.1L100.8 329.7L101.1 328.4L101.4 327.0L101.7 325.7L102.0 324.4L102.3 323.1L102.6 321.9L102.9 320.7L103.2 319.6L103.5 318.5L103.8 317.4L104.1 316.5L104.4 315.5L104.7 314.6L105.0 313.8L105.3 313.1L105.6 312.4L105.9 311.7L106.2 311.2L106.5 310.7L106.8 310.3L107.1 310.0L107.4 309.8L107.7 309.7L108.0 309.6L108.3 309.7L108.6 310.0L108.9 310.4L109.2 311.0L109.6 311.7L109.9 312.6L110.2 313.6L110.5 314.7L110.8 315.9L111.1 317.2L111.4 318.6L111.7 320.0L112.0 321.5L112.3 323.1L112.6 324.6L112.9 326.3L113.2 327.9L113.5 329.5L113.8 331.2L114.1 332.8L114.4 334.4L114.7 335.9L115.0 337.4L115.3 338.9L115.6 340.2L115.9 341.5L116.2 342.7L116.5 343.8L116.8 344.8L117.1 345.7L117.4 346.4L117.7 347.0L118.0 347.4L118.3 347.7L118.6 347.8L118.9 347.7L119.2 347.4L119.5 346.9L119.8 346.2L120.1 345.3L120.4 344.3L120.7 343.2L121.0 341.9L121.3 340.6L121.6 339.1L121.9 337.6L122.2 336.0L122.5 334.3L122.8 332.6L123.1 330.9L123.4 329.1L123.7 327.4L124.0 325.6L124.3 324.0L124.6 322.3L124.9 320.7L125.2 319.2L125.5 317.8L125.8 316.4L126.1 315.2L126.4 314.1L126.7 313.2L127.0 312.4L127.4 311.7L127.7 311.3L128.0 311.0L128.3 311.0L128.6 311.2L128.9 311.5L129.2 312.0L129.5 312.6L129.8 313.4L130.1 314.3L130.4 315.3L130.7 316.4L131.0 317.6L131.3 319.0L131.6 320.3L131.9 321.8L132.2 323.3L132.5 324.9L132.8 326.4L133.1 328.0L133.4 329.7L133.7 331.3L134.0 332.9L134.3 334.5L134.6 336.1L134.9 337.6L135.2 339.1L135.5 340.5L135.8 341.8L136.1 343.1L136.4 344.2L136.7 345.3L137.0 346.2L137.3 347.0L137.6 347.7L137.9 348.3L138.2 348.6L138.5 348.8L138.8 348.9L139.1 348.7L139.4 348.4L139.7 347.9L140.0 347.3L140.3 346.5L140.6 345.7L140.9 344.7L141.2 343.6L141.5 342.4L141.8 341.1L142.1 339.7L142.4 338.3L142.7 336.8L143.0 335.3L143.3 333.7L143.6 332.2L143.9 330.6L144.2 329.0L144.5 327.4L144.8 325.9L145.2 324.3L145.5 322.9L145.8 321.4L146.1 320.1L146.4 318.8L146.7 317.5L147.0 316.4L147.3 315.4L147.6 314.5L147.9 313.7L148.2 313.1L148.5 312.6L148.8 312.2L149.1 312.1L149.4 312.1L149.7 312.2L150.0 312.6L150.3 313.1L150.6 313.7L150.9 314.5L151.2 315.4L151.5 316.5L151.8 317.6L152.1 318.8L152.4 320.1L152.7 321.5L153.0 323.0L153.3 324.5L153.6 326.0L153.9 327.6L154.2 329.2L154.5 330.8L154.8 332.4L155.1 334.0L155.4 335.5L155.7 337.1L156.0 338.6L156.3 340.0L156.6 341.4L156.9 342.7L157.2 343.9L157.5 345.0L157.8 346.0L158.1 346.9L158.4 347.7L158.7 348.3L159.0 348.8L159.3 349.1L159.6 349.3L159.9 349.2L160.2 349.0L160.5 348.6L160.8 348.1L161.1 347.4L161.4 346.6L161.7 345.7L162.0 344.6L162.3 343.4L162.6 342.2L163.0 340.8L163.3 339.4L163.6 338.0L163.9 336.4L164.2 334.9L164.5 333.3L164.8 331.7L165.1 330.0L165.4 328.4L165.7 326.8L166.0 325.3L166.3 323.7L166.6 322.2L166.9 320.8L167.2 319.4L167.5 318.1L167.8 316.9L168.1 315.8L168.4 314.8L168.7 313.9L169.0 313.1L169.3 312.5L169.6 312.1L169.9 311.8L170.2 311.6L170.5 311.7L170.8 312.0L171.1 312.4L171.4 312.9L171.7 313.6L172.0 314.5L172.3 315.5L172.6 316.5L172.9 317.7L173.2 319.0L173.5 320.4L173.8 321.8L174.1 323.3L174.4 324.9L174.7 326.5L175.0 328.1L175.3 329.7L175.6 331.3L175.9 333.0L176.2 334.6L176.5 336.2L176.8 337.7L177.1 339.2L177.4 340.7L177.7 342.0L178.0 343.3L178.3 344.6L178.6 345.7L178.9 346.7L179.2 347.5L179.5 348.3L179.8 348.8L180.1 349.3L180.4 349.6L180.8 349.6L181.1 349.6L181.4 349.3L181.7 348.8L182.0 348.2L182.3 347.5L182.6 346.6L182.9 345.6L183.2 344.5L183.5 343.3L183.8 342.0L184.1 340.6L184.4 339.1L184.7 337.6L185.0 336.0L185.3 334.4L185.6 332.8L185.9 331.1L186.2 329.5L186.5 327.8L186.8 326.2L187.1 324.6L187.4 323.1L187.7 321.5L188.0 320.1L188.3 318.7L188.6 317.4L188.9 316.2L189.2 315.1L189.5 314.1L189.8 313.3L190.1 312.6L190.4 312.0L190.7 311.6L191.0 311.3L191.3 311.3L191.6 311.4L191.9 311.7L192.2 312.2L192.5 312.8L192.8 313.6L193.1 314.5L193.4 315.5L193.7 316.7L194.0 317.9L194.3 319.2L194.6 320.7L194.9 322.1L195.2 323.7L195.5 325.3L195.8 326.9L196.1 328.6L196.4 330.2L196.7 331.9L197.0 333.6L197.3 335.2L197.6 336.8L197.9 338.4L198.3 339.9L198.6 341.4L198.9 342.7L199.2 344.0L199.5 345.2L199.8 346.3L200.1 347.3L200.4 348.1L200.7 348.8L201.0 349.4L201.3 349.8L201.6 350.0L201.9 350.0L202.2 349.9L202.5 349.5L202.8 349.0L203.1 348.4L203.4 347.6L203.7 346.6L204.0 345.6L204.3 344.4L204.6 343.1L204.9 341.7L205.2 340.3L205.5 338.8L205.8 337.2L206.1 335.6L206.4 333.9L206.7 332.3L207.0 330.6L207.3 328.9L207.6 327.2L207.9 325.6L208.2 324.0L208.5 322.4L208.8 320.9L209.1 319.4L209.4 318.0L209.7 316.7L210.0 315.5L210.3 314.5L210.6 313.5L210.9 312.7L211.2 312.0L211.5 311.5L211.8 311.1L212.1 310.9L212.4 310.9L212.7 311.1L213.0 311.5L213.3 312.0L213.6 312.7L213.9 313.5L214.2 314.5L214.5 315.6L214.8 316.8L215.1 318.1L215.4 319.5L215.7 321.0L216.1 322.5L216.4 324.1L216.7 325.7L217.0 327.4L217.3 329.1L217.6 330.8L217.9 332.5L218.2 334.2L218.5 335.8L218.8 337.5L219.1 339.1L219.4 340.6L219.7 342.0L220.0 343.4L220.3 344.7L220.6 345.9L220.9 347.0L221.2 347.9L221.5 348.7L221.8 349.4L222.1 349.9L222.4 350.2L222.7 350.4L223.0 350.4L223.3 350.1L223.6 349.7L223.9 349.2L224.2 348.5L224.5 347.6L224.8 346.6L225.1 345.5L225.4 344.2L225.7 342.9L226.0 341.5L226.3 340.0L226.6 338.4L226.9 336.8L227.2 335.1L227.5 333.5L227.8 331.7L228.1 330.0L228.4 328.3L228.7 326.6L229.0 324.9L229.3 323.3L229.6 321.7L229.9 320.2L230.2 318.7L230.5 317.3L230.8 316.0L231.1 314.9L231.4 313.8L231.7 312.9L232.0 312.1L232.3 311.4L232.6 310.9L232.9 310.6L233.2 310.5L233.5 310.6L233.9 310.8L234.2 311.2L234.5 311.9L234.8 312.6L235.1 313.5L235.4 314.5L235.7 315.7L236.0 317.0L236.3 318.3L236.6 319.8L236.9 321.3L237.2 322.9L237.5 324.5L237.8 326.2L238.1 327.9L238.4 329.6L238.7 331.4L239.0 333.1L239.3 334.8L239.6 336.5L239.9 338.1L240.2 339.7L240.5 341.3L240.8 342.7L241.1 344.1L241.4 345.4L241.7 346.6L242.0 347.6L242.3 348.5L242.6 349.3L242.9 350.0L243.2 350.4L243.5 350.7L243.8 350.8L244.1 350.7L244.4 350.4L244.7 349.9L245.0 349.3L245.3 348.5L245.6 347.6L245.9 346.5L246.2 345.3L246.5 344.1L246.8 342.7L247.1 341.2L247.4 339.6L247.7 338.0L248.0 336.4L248.3 334.7L248.6 332.9L248.9 331.2L249.2 329.4L249.5 327.7L249.8 326.0L250.1 324.3L250.4 322.6L250.7 321.0L251.0 319.5L251.3 318.0L251.7 316.6L252.0 315.4L252.3 314.2L252.6 313.1L252.9 312.2L253.2 311.5L253.5 310.9L253.8 310.4L254.1 310.2L254.4 310.1L254.7 310.2L255.0 310.6L255.3 311.1L255.6 311.7L255.9 312.6L256.2 313.5L256.5 314.6L256.8 315.8L257.1 317.1L257.4 318.6L257.7 320.1L258.0 321.6L258.3 323.3L258.6 325.0L258.9 326.7L259.2 328.4L259.5 330.2L259.8 332.0L260.1 333.7L260.4 335.5L260.7 337.2L261.0 338.8L261.3 340.4L261.6 342.0L261.9 343.4L262.2 344.8L262.5 346.1L262.8 347.2L263.1 348.3L263.4 349.2L263.7 349.9L264.0 350.5L264.3 350.9L264.6 351.1L264.9 351.2L265.2 351.0L265.5 350.7L265.8 350.1L266.1 349.4L266.4 348.6L266.7 347.6L267.0 346.4L267.3 345.2L267.6 343.8L267.9 342.4L268.2 340.9L268.5 339.3L268.8 337.6L269.1 335.9L269.5 334.2L269.8 332.4L270.1 330.6L270.4 328.8L270.7 327.0L271.0 325.3L271.3 323.6L271.6 321.9L271.9 320.3L272.2 318.8L272.5 317.3L272.8 315.9L273.1 314.7L273.4 313.5L273.7 312.5L274.0 311.6L274.3 310.9L274.6 310.3L274.9 309.9L275.2 309.7L275.5 309.7L275.8 310.0L276.1 310.3L276.4 310.9L276.7 311.6L277.0 312.5L277.3 313.6L277.6 314.7L277.9 316.0L278.2 317.4L278.5 318.8L278.8 320.4L279.1 322.0L279.4 323.7L279.7 325.4L280.0 327.2L280.3 329.0L280.6 330.8L280.9 332.6L281.2 334.4L281.5 336.1L281.8 337.9L282.1 339.5L282.4 341.2L282.7 342.7L283.0 344.2L283.3 345.5L283.6 346.8L283.9 347.9L284.2 348.9L284.5 349.8L284.8 350.5L285.1 351.0L285.4 351.4L285.7 351.6L286.0 351.5L286.3 351.3L286.6 350.9L287.0 350.3L287.3 349.5L287.6 348.6L287.9 347.5L288.2 346.3L288.5 345.0L288.8 343.6L289.1 342.1L289.4 340.5L289.7 338.9L290.0 337.2L290.3 335.4L290.6 333.6L290.9 331.8L291.2 330.0L291.5 328.2L291.8 326.4L292.1 324.6L292.4 322.9L292.7 321.2L293.0 319.6L293.3 318.0L293.6 316.6L293.9 315.2L294.2 314.0L294.5 312.8L294.8 311.9L295.1 311.0L295.4 310.3L295.7 309.8L296.0 309.5L296.3 309.3L296.6 309.4L296.9 309.7L297.2 310.1L297.5 310.8L297.8 311.6L298.1 312.5L298.4 313.6L298.7 314.8L299.0 316.2L299.3 317.6L299.6 319.1L299.9 320.8L300.2 322.4L300.5 324.2L300.8 325.9L301.1 327.7L301.4 329.6L301.7 331.4L302.0 333.2L302.3 335.1L302.6 336.8L302.9 338.6L303.2 340.3L303.5 341.9L303.8 343.4L304.1 344.9L304.4 346.2L304.8 347.5L305.1 348.6L305.4 349.6L305.7 350.4L306.0 351.1L306.3 351.5L306.6 351.8L306.9 352.0L307.2 351.8L307.5 351.5L307.8 351.1L308.1 350.4L308.4 349.5L308.7 348.6L309.0 347.4L309.3 346.2L309.6 344.8L309.9 343.4L310.2 341.8L310.5 340.2L310.8 338.5L311.1 336.7L311.4 334.9L311.7 333.1L312.0 331.2L312.3 329.4L312.6 327.5L312.9 325.7L313.2 323.9L313.5 322.2L313.8 320.5L314.1 318.8L314.4 317.3L314.7 315.8L315.0 314.5L315.3 313.3L315.6 312.2L315.9 311.2L316.2 310.4L316.5 309.8L316.8 309.3L317.1 309.0L317.4 309.0L317.7 309.1L318.0 309.4L318.3 310.0L318.6 310.7L318.9 311.5L319.2 312.6L319.5 313.7L319.8 315.0L320.1 316.4L320.4 317.9L320.7 319.5L321.0 321.1L321.3 322.9L321.6 324.6L321.9 326.5L322.2 328.3L322.6 330.2L322.9 332.0L323.2 333.9L323.5 335.7L323.8 337.5L324.1 339.3L324.4 341.0L324.7 342.6L325.0 344.2L325.3 345.6L325.6 347.0L325.9 348.2L326.2 349.3L326.5 350.2L326.8 351.0L327.1 351.6L327.4 352.0L327.7 352.3L328.0 352.3L328.3 352.1L328.6 351.8L328.9 351.2L329.2 350.5L329.5 349.6L329.8 348.5L330.1 347.3L330.4 346.0L330.7 344.6L331.0 343.1L331.3 341.5" fill="none" stroke="#35357c" stroke-width="0.90"/>
<path d="M375.3 423.3L375.6 423.3L375.9 423.3L376.2 423.3L376.5 423.3L376.8 423.3L377.1 423.3L377.4 423.3L377.7 423.3L378.0 423.3L378.3 423.3L378.6 423.3L378.9 423.3L379.2 423.3L379.5 423.1L379.8 422.2L380.1 420.5L380.4 418.2L380.7 415.3L381.0 412.0L381.3 408.2L381.6 404.2L381.9 399.9L382.3 395.5L382.6 391.0L382.9 386.5L383.2 381.2L383.5 374.4L383.8 366.5L384.1 357.7L384.4 348.5L384.7 339.1L385.0 329.8L385.3 321.1L385.6 313.1L385.9 306.2L386.2 300.7L386.5 296.9L386.8 293.7L387.1 290.6L387.4 287.7L387.7 285.0L388.0 282.6L388.3 280.5L388.6 278.8L388.9 277.4L389.2 276.4L389.5 275.8L389.8 275.3L390.1 274.8L390.4 274.4L390.7 274.0L391.0 273.6L391.3 273.3L391.6 273.0L391.9 272.7L392.2 272.4L392.5 272.2L392.8 272.0L393.1 271.8L393.4 271.7L393.7 271.6L394.0 271.5L394.3 271.5L394.6 271.5L394.9 271.6L395.2 271.6L395.5 271.8L395.8 271.9L396.2 272.1L396.5 272.3L396.8 272.5L397.1 272.8L397.4 273.1L397.7 273.4L398.0 273.8L398.3 274.2L398.6 274.6L398.9 275.0L399.2 275.5L399.5 275.9L399.8 276.6L400.1 277.7L400.4 279.1L400.7 280.7L401.0 282.7L401.3 284.9L401.6 287.3L401.9 289.9L402.2 292.6L402.5 295.5L402.8 298.4L403.1 301.4L403.4 304.4L403.7 307.6L404.0 311.4L404.3 315.9L404.6 320.9L404.9 326.3L405.2 332.0L405.5 337.9L405.8 344.0L406.1 350.0L406.4 356.0L406.7 361.8L407.0 367.2L407.3 372.3L407.6 376.8L407.9 380.8L408.2 384.0L408.5 386.5L408.8 388.4L409.1 390.4L409.4 392.3L409.8 394.1L410.1 395.9L410.4 397.7L410.7 399.4L411.0 401.1L411.3 402.7L411.6 404.3L411.9 405.8L412.2 407.2L412.5 408.6L412.8 409.9L413.1 411.1L413.4 412.3L413.7 413.4L414.0 414.4L414.3 415.3L414.6 416.1L414.9 416.9L415.2 417.6L415.5 418.2L415.8 418.6L416.1 419.0L416.4 419.3L416.7 419.5L417.0 419.6L417.3 419.6L417.6 419.3L417.9 418.9L418.2 418.3L418.5 417.6L418.8 416.7L419.1 415.6L419.4 414.4L419.7 413.0L420.0 411.5L420.3 409.9L420.6 408.2L420.9 406.4L421.2 404.5L421.5 402.5L421.8 400.4L422.1 398.3L422.4 396.1L422.7 393.9L423.0 391.6L423.3 389.3L423.7 387.0L424.0 384.6L424.3 382.2L424.6 379.9L424.9 377.4L425.2 374.4L425.5 371.0L425.8 367.2L426.1 363.0L426.4 358.6L426.7 353.9L427.0 349.0L427.3 344.0L427.6 339.0L427.9 334.0L428.2 329.1L428.5 324.2L428.8 319.6L429.1 315.2L429.4 311.0L429.7 307.3L430.0 303.9L430.3 301.0L430.6 298.7L430.9 296.8L431.2 295.0L431.5 293.1L431.8 291.4L432.1 289.6L432.4 287.9L432.7 286.2L433.0 284.6L433.3 283.0L433.6 281.5L433.9 280.0L434.2 278.6L434.5 277.3L434.8 276.0L435.1 274.8L435.4 273.8L435.7 272.8L436.0 271.9L436.3 271.1L436.6 270.4L436.9 269.8L437.3 269.3L437.6 268.9L437.9 268.7L438.2 268.6L438.5 268.6L438.8 268.9L439.1 269.4L439.4 270.1L439.7 271.0L440.0 272.0L440.3 273.3L440.6 274.7L440.9 276.3L441.2 278.0L441.5 279.8L441.8 281.7L442.1 283.8L442.4 285.9L442.7 288.1L443.0 290.4L443.3 292.7L443.6 295.1L443.9 297.5L444.2 299.9L444.5 302.4L444.8 304.8L445.1 307.2L445.4 309.6L445.7 312.0L446.0 314.4L446.3 317.1L446.6 320.0L446.9 323.2L447.2 326.6L447.5 330.2L447.8 334.0L448.1 337.9L448.4 341.9L448.7 346.0L449.0 350.1L449.3 354.2L449.6 358.3L449.9 362.4L450.2 366.5L450.5 370.4L450.9 374.2L451.2 377.9L451.5 381.4L451.8 384.6L452.1 387.7L452.4 390.5L452.7 393.0L453.0 395.2L453.3 397.0L453.6 398.5L453.9 400.0L454.2 401.5L454.5 402.9L454.8 404.3L455.1 405.6L455.4 406.8L455.7 407.9L456.0 408.9L456.3 409.8L456.6 410.5L456.9 411.0L457.2 411.4L457.5 411.6L457.8 411.7L458.1 411.8L458.4 411.9L458.7 412.0L459.0 412.1L459.3 412.2L459.6 412.3L459.9 412.4L460.2 412.4L460.5 412.5L460.8 412.5L461.1 412.6L461.4 412.6L461.7 412.6L462.0 412.6L462.3 412.5L462.6 412.3L462.9 412.0L463.2 411.6L463.5 411.1L463.8 410.6L464.1 409.9L464.4 409.2L464.8 408.4L465.1 407.6L465.4 406.7L465.7 405.8L466.0 404.9L466.3 403.6L466.6 401.8L466.9 399.6L467.2 396.9L467.5 393.8L467.8 390.5L468.1 386.9L468.4 383.0L468.7 379.0L469.0 375.0L469.3 370.9L469.6 366.8L469.9 362.8L470.2 358.9L470.5 355.2L470.8 351.8L471.1 348.6L471.4 345.3L471.7 341.9L472.0 338.4L472.3 334.8L472.6 331.1L472.9 327.3L473.2 323.5L473.5 319.7L473.8 315.8L474.1 312.0L474.4 308.2L474.7 304.4L475.0 300.7L475.3 297.1L475.6 293.7L475.9 290.3L476.2 287.1L476.5 284.1L476.8 281.3L477.1 278.7L477.4 276.3L477.7 274.2L478.0 272.3L478.4 270.8L478.7 269.5L479.0 268.6L479.3 268.0L479.6 267.8L479.9 268.0L480.2 268.3L480.5 268.9L480.8 269.6L481.1 270.6L481.4 271.7L481.7 273.0L482.0 274.5L482.3 276.1L482.6 277.9L482.9 279.8L483.2 281.8L483.5 283.9L483.8 286.1L484.1 288.3L484.4 290.6L484.7 293.0L485.0 295.5L485.3 297.9L485.6 300.4L485.9 302.9L486.2 305.4L486.5 307.9L486.8 310.3L487.1 312.7L487.4 315.1L487.7 317.4L488.0 319.6L488.3 321.8L488.6 323.8L488.9 325.9L489.2 328.1L489.5 330.4L489.8 332.8L490.1 335.3L490.4 337.8L490.7 340.5L491.0 343.2L491.3 345.9L491.6 348.8L491.9 351.6L492.3 354.5L492.6 357.4L492.9 360.3L493.2 363.2L493.5 366.1L493.8 369.0L494.1 371.9L494.4 374.7L494.7 377.5L495.0 380.3L495.3 382.9L495.6 385.6L495.9 388.1L496.2 390.6L496.5 392.9L496.8 395.2L497.1 397.3L497.4 399.4L497.7 401.3L498.0 403.0L498.3 404.6L498.6 406.1L498.9 407.4L499.2 408.5L499.5 409.4L499.8 410.2L500.1 410.7L500.4 411.0L500.7 411.1L501.0 411.0L501.3 410.6L501.6 410.0L501.9 409.1L502.2 408.0L502.5 406.7L502.8 405.2L503.1 403.4L503.4 401.6L503.7 399.5L504.0 397.3L504.3 395.0L504.6 392.5L504.9 390.0L505.2 387.3L505.5 384.5L505.9 381.7L506.2 378.8L506.5 375.8L506.8 372.8L507.1 369.8L507.4 366.7L507.7 363.7L508.0 360.7L508.3 357.6L508.6 354.6L508.9 351.7L509.2 348.8L509.5 346.0L509.8 343.2L510.1 340.6L510.4 338.1L510.7 335.6L511.0 333.3L511.3 331.2L511.6 329.1L511.9 326.9L512.2 324.6L512.5 322.3L512.8 319.9L513.1 317.4L513.4 314.9L513.7 312.4L514.0 309.9L514.3 307.4L514.6 304.8L514.9 302.3L515.2 299.8L515.5 297.3L515.8 294.8L516.1 292.4L516.4 290.1L516.7 287.8L517.0 285.6L517.3 283.5L517.6 281.5L517.9 279.6L518.2 277.7L518.5 276.1L518.8 274.5L519.1 273.1L519.4 271.8L519.8 270.7L520.1 269.8L520.4 269.0L520.7 268.4L521.0 268.0L521.3 267.8L521.6 267.9L521.9 268.2L522.2 268.8L522.5 269.6L522.8 270.6L523.1 271.8L523.4 273.3L523.7 274.9L524.0 276.7L524.3 278.7L524.6 280.8L524.9 283.0L525.2 285.3L525.5 287.8L525.8 290.3L526.1 293.0L526.4 295.7L526.7 298.4L527.0 301.2L527.3 304.0L527.6 306.8L527.9 309.6L528.2 312.4L528.5 315.2L528.8 317.9L529.1 320.6L529.4 323.2L529.7 325.7L530.0 328.1L530.3 330.5L530.6 332.7L530.9 335.1L531.2 337.6L531.5 340.2L531.8 343.0L532.1 345.8L532.4 348.7L532.7 351.7L533.0 354.7L533.4 357.8L533.7 360.9L534.0 364.0L534.3 367.1L534.6 370.2L534.9 373.3L535.2 376.3L535.5 379.3L535.8 382.2L536.1 385.0L536.4 387.8L536.7 390.4L537.0 392.9L537.3 395.3L537.6 397.5L537.9 399.6L538.2 401.5L538.5 403.2L538.8 404.7L539.1 406.0L539.4 407.1L539.7 408.0L540.0 408.5L540.3 408.9L540.6 408.9L540.9 408.8L541.2 408.4L541.5 407.9L541.8 407.3L542.1 406.4L542.4 405.5L542.7 404.4L543.0 403.1L543.3 401.8L543.6 400.3L543.9 398.7L544.2 397.0L544.5 395.2L544.8 393.4L545.1 391.4L545.4 389.4L545.7 387.3L546.0 385.2L546.3 383.0L546.6 380.8L546.9 378.6L547.3 376.3L547.6 374.0L547.9 371.7L548.2 369.4L548.5 367.2L548.8 364.9L549.1 362.7L549.4 360.4L549.7 358.3L550.0 356.1L550.3 354.1L550.6 352.1L550.9 350.1L551.2 348.3L551.5 346.5L551.8 344.8L552.1 343.0L552.4 341.1L552.7 339.2L553.0 337.1L553.3 335.1L553.6 333.0L553.9 330.8L554.2 328.6L554.5 326.4L554.8 324.2L555.1 322.0L555.4 319.7L555.7 317.5L556.0 315.3L556.3 313.1L556.6 311.0L556.9 308.9L557.2 306.8L557.5 304.8L557.8 302.9L558.1 301.1L558.4 299.3L558.7 297.6L559.0 296.0L559.3 294.5L559.6 293.2L559.9 291.9L560.2 290.8L560.5 289.9L560.9 289.0L561.2 288.4L561.5 287.9L561.8 287.5L562.1 287.4L562.4 287.4L562.7 287.7L563.0 288.3L563.3 289.0L563.6 290.0L563.9 291.2L564.2 292.6L564.5 294.1L564.8 295.9L565.1 297.7L565.4 299.7L565.7 301.9L566.0 304.1L566.3 306.4L566.6 308.8L566.9 311.3L567.2 313.9L567.5 316.5L567.8 319.1L568.1 321.7L568.4 324.3L568.7 326.9L569.0 329.5L569.3 332.1L569.6 334.6L569.9 337.1L570.2 339.4L570.5 341.7L570.8 343.9L571.1 345.9L571.4 347.8L571.7 349.6L572.0 351.4L572.3 353.2L572.6 355.0L572.9 356.9L573.2 358.8L573.5 360.8L573.8 362.8L574.1 364.8L574.4 366.8L574.8 368.8L575.1 370.8L575.4 372.8L575.7 374.8L576.0 376.7L576.3 378.6L576.6 380.4L576.9 382.2L577.2 383.9L577.5 385.6L577.8 387.2L578.1 388.7L578.4 390.1L578.7 391.3L579.0 392.5L579.3 393.6L579.6 394.5L579.9 395.3L580.2 396.0L580.5 396.5L580.8 396.9L581.1 397.1L581.4 397.1L581.7 397.0L582.0 396.7L582.3 396.3L582.6 395.8L582.9 395.1L583.2 394.3L583.5 393.4L583.8 392.3L584.1 391.2L584.4 389.9L584.7 388.5L585.0 387.1L585.3 385.5L585.6 383.8L585.9 382.1L586.2 380.3L586.5 378.4L586.8 376.4L587.1 374.4L587.4 372.3L587.7 370.2L588.0 368.0L588.4 365.7L588.7 363.4L589.0 361.1L589.3 358.7L589.6 356.4L589.9 353.9L590.2 351.5L590.5 349.1L590.8 346.6L591.1 344.1L591.4 341.7L591.7 339.2L592.0 336.8L592.3 334.3L592.6 331.9L592.9 329.5L593.2 327.1L593.5 324.8L593.8 322.5L594.1 320.2L594.4 318.0L594.7 315.8L595.0 313.7L595.3 311.7L595.6 309.7L595.9 307.8L596.2 305.9L596.5 304.2L596.8 302.5L597.1 300.9L597.4 299.4L597.7 298.0L598.0 296.7L598.3 295.5L598.6 294.4L598.9 293.4L599.2 292.6L599.5 291.9L599.8 291.3L600.1 290.8L600.4 290.5L600.7 290.3L601.0 290.3L601.3 290.4L601.6 290.7L602.0 291.1L602.3 291.7L602.6 292.4L602.9 293.2L603.2 294.1L603.5 295.2L603.8 296.3L604.1 297.6L604.4 299.0L604.7 300.5L605.0 302.1L605.3 303.7L605.6 305.5L605.9 307.3L606.2 309.2L606.5 311.2L606.8 313.3L607.1 315.4L607.4 317.6L607.7 319.8L608.0 322.0L608.3 324.4L608.6 326.7L608.9 329.1L609.2 331.5L609.5 334.0L609.8 336.4L610.1 338.9L610.4 341.4L610.7 343.9L611.0 346.4L611.3 348.8L611.6 351.3L611.9 353.8L612.2 356.2L612.5 358.7L612.8 361.0L613.1 363.4L613.4 365.7L613.7 368.0L614.0 370.3L614.3 372.5L614.6 374.6L614.9 376.7L615.2 378.7L615.5 380.6L615.9 382.5L616.2 384.2L616.5 385.9L616.8 387.5L617.1 389.1L617.4 390.5L617.7 391.8L618.0 393.0L618.3 394.1L618.6 395.1L618.9 395.9L619.2 396.7L619.5 397.3L619.8 397.7L620.1 398.0L620.4 398.2L620.7 398.2L621.0 398.1L621.3 397.8L621.6 397.4L621.9 396.8L622.2 396.1L622.5 395.2L622.8 394.2L623.1 393.1L623.4 391.9L623.7 390.6L624.0 389.1L624.3 387.6L624.6 385.9L624.9 384.2L625.2 382.3L625.5 380.4L625.8 378.4L626.1 376.4L626.4 374.2L626.7 372.0L627.0 369.8L627.3 367.4L627.6 365.1L627.9 362.7L628.2 360.3L628.5 357.8L628.8 355.3L629.1 352.8L629.5 350.2L629.8 347.7L630.1 345.1L630.4 342.6L630.7 340.0L631.0 337.5L631.3 334.9L631.6 332.4L631.9 329.9L632.2 327.5L632.5 325.1L632.8 322.7L633.1 320.3L633.4 318.0L633.7 315.8L634.0 313.6L634.3 311.5L634.6 309.5L634.9 307.5L635.2 305.6L635.5 303.8L635.8 302.1L636.1 300.5L636.4 298.9L636.7 297.5L637.0 296.2L637.3 295.0L637.6 294.0L637.9 293.0L638.2 292.2L638.5 291.5L638.8 291.0L639.1 290.6L639.4 290.4L639.7 290.3L640.0 290.4L640.3 290.6L640.6 291.0L640.9 291.5L641.2 292.1L641.5 292.9L641.8 293.8L642.1 294.8L642.4 295.9L642.7 297.2L643.0 298.5L643.4 300.0L643.7 301.5L644.0 303.2L644.3 304.9L644.6 306.7L644.9 308.6L645.2 310.6L645.5 312.6L645.8 314.7L646.1 316.8L646.4 319.0L646.7 321.3L647.0 323.6L647.3 325.9L647.6 328.3L647.9 330.7L648.2 333.1L648.5 335.6L648.8 338.1L649.1 340.5L649.4 343.0L649.7 345.5L650.0 348.0L650.3 350.5L650.6 353.0L650.9 355.4L651.2 357.8L651.5 360.3L651.8 362.6L652.1 365.0L652.4 367.3L652.7 369.5L653.0 371.7L653.3 373.9L653.6 376.0L653.9 378.0L654.2 380.0L654.5 381.8L654.8 383.7L655.1 385.4L655.4 387.0L655.7 388.6L656.0 390.0L656.3 391.4L656.6 392.6L657.0 393.7L657.3 394.8L657.6 395.7L657.9 396.4L658.2 397.1L658.5 397.6L658.8 397.9L659.1 398.2L659.4 398.2L659.7 398.2L660.0 397.9L660.3 397.4L660.6 396.7L660.9 395.9L661.2 394.9L661.5 393.8L661.8 392.5L662.1 391.1L662.4 389.5L662.7 387.8L663.0 386.0L663.3 384.1L663.6 382.1L663.9 379.9L664.2 377.7L664.5 375.4L664.8 373.0L665.1 370.6L665.4 368.0L665.7 365.4L666.0 362.8L666.3 360.1L666.6 357.4L666.9 354.7L667.2 351.9L667.5 349.1L667.8 346.3L668.1 343.5L668.4 340.7L668.7 337.9L669.0 335.2L669.3 332.4L669.6 329.7L669.9 327.1L670.2 324.4L670.5 321.9L670.9 319.4L671.2 316.9L671.5 314.6L671.8 312.3L672.1 310.1L672.4 308.0L672.7 306.0L673.0 304.1L673.3 302.3L673.6 300.7L673.9 299.2L674.2 297.8L674.5 296.6L674.8 295.5L675.1 294.6L675.4 293.8L675.7 293.2L676.0 292.8L676.3 292.6L676.6 292.5L676.9 292.6L677.2 292.9L677.5 293.3" fill="none" stroke="#5ccc5c" stroke-width="0.90"/>
<path d="M375.3 423.3L375.6 423.3L375.9 423.3L376.2 423.3L376.5 423.3L376.8 423.3L377.1 423.3L377.4 423.3L377.7 423.3L378.0 423.3L378.3 423.3L378.6 423.3L378.9 423.3L379.2 423.3L379.5 423.3L379.8 423.3L380.1 423.3L380.4 423.3L380.7 423.3L381.0 423.3L381.3 423.3L381.6 423.3L381.9 423.3L382.3 423.0L382.6 422.4L382.9 421.5L383.2 420.3L383.5 418.8L383.8 417.1L384.1 415.2L384.4 413.1L384.7 410.9L385.0 408.4L385.3 405.9L385.6 403.3L385.9 400.5L386.2 397.8L386.5 394.9L386.8 392.1L387.1 389.3L387.4 386.5L387.7 383.4L388.0 379.7L388.3 375.6L388.6 371.0L388.9 366.2L389.2 361.1L389.5 355.8L389.8 350.5L390.1 345.1L390.4 339.9L390.7 334.7L391.0 329.9L391.3 325.3L391.6 321.2L391.9 317.6L392.2 314.5L392.5 312.0L392.8 309.7L393.1 307.4L393.4 305.1L393.7 302.9L394.0 300.7L394.3 298.6L394.6 296.5L394.9 294.5L395.2 292.7L395.5 290.9L395.8 289.3L396.2 287.8L396.5 286.4L396.8 285.2L397.1 284.2L397.4 283.3L397.7 282.6L398.0 282.1L398.3 281.9L398.6 281.8L398.9 282.0L399.2 282.3L399.5 282.8L399.8 283.5L400.1 284.3L400.4 285.2L400.7 286.3L401.0 287.5L401.3 288.8L401.6 290.2L401.9 291.7L402.2 293.2L402.5 294.8L402.8 296.5L403.1 298.3L403.4 300.1L403.7 301.9L404.0 303.7L404.3 305.5L404.6 307.4L404.9 309.2L405.2 311.0L405.5 312.8L405.8 314.6L406.1 316.7L406.4 319.0L406.7 321.4L407.0 324.0L407.3 326.7L407.6 329.5L407.9 332.4L408.2 335.4L408.5 338.4L408.8 341.5L409.1 344.6L409.4 347.7L409.8 350.8L410.1 353.9L410.4 356.9L410.7 359.9L411.0 362.8L411.3 365.5L411.6 368.2L411.9 370.7L412.2 373.1L412.5 375.3L412.8 377.3L413.1 379.1L413.4 380.8L413.7 382.6L414.0 384.3L414.3 386.1L414.6 387.8L414.9 389.6L415.2 391.2L415.5 392.8L415.8 394.3L416.1 395.6L416.4 396.9L416.7 398.0L417.0 398.9L417.3 399.6L417.6 400.1L417.9 400.4L418.2 400.5L418.5 400.4L418.8 400.2L419.1 399.8L419.4 399.4L419.7 398.9L420.0 398.3L420.3 397.7L420.6 396.9L420.9 396.1L421.2 395.2L421.5 394.3L421.8 393.3L422.1 392.3L422.4 391.3L422.7 390.2L423.0 389.0L423.3 387.9L423.7 386.7L424.0 385.6L424.3 384.4L424.6 383.2L424.9 382.1L425.2 380.9L425.5 379.8L425.8 378.7L426.1 377.6L426.4 376.3L426.7 374.9L427.0 373.5L427.3 371.9L427.6 370.4L427.9 368.7L428.2 367.0L428.5 365.2L428.8 363.4L429.1 361.6L429.4 359.8L429.7 357.9L430.0 356.0L430.3 354.1L430.6 352.2L430.9 350.3L431.2 348.5L431.5 346.6L431.8 344.8L432.1 343.1L432.4 341.3L432.7 339.7L433.0 338.1L433.3 336.5L433.6 335.1L433.9 333.7L434.2 332.4L434.5 331.2L434.8 330.1L435.1 329.1L435.4 328.3L435.7 327.5L436.0 326.8L436.3 326.2L436.6 325.5L436.9 324.9L437.3 324.2L437.6 323.6L437.9 322.9L438.2 322.3L438.5 321.7L438.8 321.1L439.1 320.5L439.4 319.9L439.7 319.4L440.0 318.8L440.3 318.3L440.6 317.7L440.9 317.2L441.2 316.7L441.5 316.3L441.8 315.8L442.1 315.4L442.4 314.9L442.7 314.5L443.0 314.2L443.3 313.8L443.6 313.4L443.9 313.1L444.2 312.8L444.5 312.6L444.8 312.3L445.1 312.1L445.4 311.9L445.7 311.7L446.0 311.6L446.3 311.5L446.6 311.4L446.9 311.3L447.2 311.3L447.5 311.3L447.8 311.5L448.1 311.8L448.4 312.2L448.7 312.8L449.0 313.5L449.3 314.2L449.6 315.1L449.9 316.1L450.2 317.1L450.5 318.2L450.9 319.4L451.2 320.7L451.5 322.0L451.8 323.3L452.1 324.7L452.4 326.1L452.7 327.6L453.0 329.0L453.3 330.5L453.6 331.9L453.9 333.4L454.2 334.8L454.5 336.2L454.8 337.6L455.1 338.9L455.4 340.2L455.7 341.5L456.0 342.6L456.3 343.9L456.6 345.2L456.9 346.6L457.2 348.1L457.5 349.7L457.8 351.3L458.1 352.9L458.4 354.5L458.7 356.2L459.0 357.8L459.3 359.5L459.6 361.1L459.9 362.7L460.2 364.3L460.5 365.8L460.8 367.2L461.1 368.5L461.4 369.8L461.7 371.0L462.0 372.0L462.3 373.0L462.6 373.8L462.9 374.4L463.2 374.9L463.5 375.2L463.8 375.4L464.1 375.4L464.4 375.2L464.8 374.9L465.1 374.5L465.4 373.9L465.7 373.2L466.0 372.4L466.3 371.6L466.6 370.6L466.9 369.5L467.2 368.3L467.5 367.1L467.8 365.8L468.1 364.4L468.4 363.0L468.7 361.5L469.0 360.0L469.3 358.4L469.6 356.8L469.9 355.2L470.2 353.5L470.5 351.9L470.8 350.2L471.1 348.6L471.4 346.9L471.7 345.3L472.0 343.7L472.3 342.1L472.6 340.6L472.9 339.1L473.2 337.6L473.5 336.2L473.8 334.9L474.1 333.6L474.4 332.4L474.7 331.3L475.0 330.2L475.3 329.3L475.6 328.5L475.9 327.7L476.2 327.1L476.5 326.5L476.8 325.8L477.1 325.2L477.4 324.5L477.7 323.9L478.0 323.3L478.4 322.7L478.7 322.0L479.0 321.4L479.3 320.8L479.6 320.2L479.9 319.6L480.2 319.1L480.5 318.5L480.8 317.9L481.1 317.4L481.4 316.9L481.7 316.3L482.0 315.8L482.3 315.4L482.6 314.9L482.9 314.4L483.2 314.0L483.5 313.6L483.8 313.2L484.1 312.8L484.4 312.5L484.7 312.1L485.0 311.8L485.3 311.5L485.6 311.3L485.9 311.0L486.2 310.8L486.5 310.7L486.8 310.5L487.1 310.4L487.4 310.3L487.7 310.2L488.0 310.2L488.3 310.2L488.6 310.3L488.9 310.6L489.2 310.9L489.5 311.3L489.8 311.8L490.1 312.4L490.4 313.1L490.7 313.8L491.0 314.6L491.3 315.5L491.6 316.5L491.9 317.6L492.3 318.7L492.6 319.8L492.9 321.0L493.2 322.3L493.5 323.6L493.8 325.0L494.1 326.4L494.4 327.9L494.7 329.4L495.0 330.9L495.3 332.5L495.6 334.0L495.9 335.6L496.2 337.3L496.5 338.9L496.8 340.6L497.1 342.2L497.4 343.9L497.7 345.6L498.0 347.2L498.3 348.9L498.6 350.6L498.9 352.2L499.2 353.9L499.5 355.5L499.8 357.1L500.1 358.7L500.4 360.2L500.7 361.8L501.0 363.3L501.3 364.7L501.6 366.1L501.9 367.5L502.2 368.8L502.5 370.1L502.8 371.3L503.1 372.5L503.4 373.6L503.7 374.6L504.0 375.6L504.3 376.5L504.6 377.3L504.9 378.1L505.2 378.7L505.5 379.3L505.9 379.8L506.2 380.3L506.5 380.6L506.8 380.8L507.1 380.9L507.4 380.9L507.7 380.8L508.0 380.7L508.3 380.4L508.6 380.1L508.9 379.6L509.2 379.1L509.5 378.5L509.8 377.9L510.1 377.1L510.4 376.3L510.7 375.4L511.0 374.5L511.3 373.5L511.6 372.4L511.9 371.3L512.2 370.2L512.5 368.9L512.8 367.7L513.1 366.4L513.4 365.0L513.7 363.6L514.0 362.2L514.3 360.7L514.6 359.2L514.9 357.7L515.2 356.2L515.5 354.6L515.8 353.0L516.1 351.4L516.4 349.8L516.7 348.2L517.0 346.5L517.3 344.9L517.6 343.3L517.9 341.6L518.2 340.0L518.5 338.4L518.8 336.7L519.1 335.1L519.4 333.5L519.8 331.9L520.1 330.4L520.4 328.9L520.7 327.3L521.0 325.9L521.3 324.4L521.6 323.0L521.9 321.6L522.2 320.3L522.5 319.0L522.8 317.7L523.1 316.5L523.4 315.4L523.7 314.3L524.0 313.2L524.3 312.3L524.6 311.3L524.9 310.5L525.2 309.7L525.5 309.0L525.8 308.3L526.1 307.8L526.4 307.3L526.7 306.9L527.0 306.6L527.3 306.3L527.6 306.2L527.9 306.1L528.2 306.2L528.5 306.3L528.8 306.6L529.1 306.9L529.4 307.3L529.7 307.9L530.0 308.5L530.3 309.1L530.6 309.9L530.9 310.7L531.2 311.6L531.5 312.6L531.8 313.6L532.1 314.7L532.4 315.8L532.7 317.0L533.0 318.3L533.4 319.6L533.7 321.0L534.0 322.4L534.3 323.8L534.6 325.3L534.9 326.8L535.2 328.4L535.5 330.0L535.8 331.6L536.1 333.2L536.4 334.9L536.7 336.6L537.0 338.2L537.3 339.9L537.6 341.7L537.9 343.4L538.2 345.1L538.5 346.8L538.8 348.5L539.1 350.3L539.4 352.0L539.7 353.7L540.0 355.3L540.3 357.0L540.6 358.6L540.9 360.3L541.2 361.9L541.5 363.4L541.8 365.0L542.1 366.4L542.4 367.9L542.7 369.3L543.0 370.7L543.3 372.0L543.6 373.3L543.9 374.5L544.2 375.7L544.5 376.8L544.8 377.9L545.1 378.9L545.4 379.8L545.7 380.6L546.0 381.4L546.3 382.1L546.6 382.7L546.9 383.3L547.3 383.7L547.6 384.1L547.9 384.3L548.2 384.5L548.5 384.6L548.8 384.6L549.1 384.4L549.4 384.2L549.7 383.8L550.0 383.3L550.3 382.7L550.6 382.1L550.9 381.3L551.2 380.4L551.5 379.4L551.8 378.4L552.1 377.2L552.4 376.0L552.7 374.7L553.0 373.3L553.3 371.9L553.6 370.4L553.9 368.9L554.2 367.3L554.5 365.6L554.8 363.9L555.1 362.2L555.4 360.4L555.7 358.5L556.0 356.7L556.3 354.8L556.6 352.9L556.9 351.0L557.2 349.0L557.5 347.1L557.8 345.1L558.1 343.2L558.4 341.2L558.7 339.3L559.0 337.3L559.3 335.4L559.6 333.4L559.9 331.5L560.2 329.7L560.5 327.8L560.9 326.0L561.2 324.2L561.5 322.4L561.8 320.7L562.1 319.1L562.4 317.5L562.7 315.9L563.0 314.4L563.3 313.0L563.6 311.6L563.9 310.3L564.2 309.1L564.5 308.0L564.8 306.9L565.1 306.0L565.4 305.1L565.7 304.3L566.0 303.6L566.3 303.0L566.6 302.5L566.9 302.2L567.2 301.9L567.5 301.8L567.8 301.7L568.1 301.8L568.4 302.0L568.7 302.4L569.0 302.8L569.3 303.3L569.6 303.9L569.9 304.7L570.2 305.5L570.5 306.4L570.8 307.4L571.1 308.4L571.4 309.6L571.7 310.8L572.0 312.1L572.3 313.5L572.6 314.9L572.9 316.4L573.2 317.9L573.5 319.5L573.8 321.1L574.1 322.8L574.4 324.6L574.8 326.3L575.1 328.1L575.4 330.0L575.7 331.8L576.0 333.7L576.3 335.6L576.6 337.6L576.9 339.5L577.2 341.5L577.5 343.4L577.8 345.4L578.1 347.3L578.4 349.3L578.7 351.3L579.0 353.2L579.3 355.1L579.6 357.0L579.9 358.9L580.2 360.8L580.5 362.6L580.8 364.4L581.1 366.2L581.4 367.9L581.7 369.6L582.0 371.3L582.3 372.9L582.6 374.4L582.9 375.9L583.2 377.3L583.5 378.7L583.8 380.0L584.1 381.2L584.4 382.3L584.7 383.4L585.0 384.4L585.3 385.3L585.6 386.1L585.9 386.8L586.2 387.5L586.5 388.0L586.8 388.4L587.1 388.7L587.4 388.9L587.7 389.0L588.0 389.0L588.4 388.9L588.7 388.8L589.0 388.5L589.3 388.2L589.6 387.8L589.9 387.3L590.2 386.8L590.5 386.2L590.8 385.5L591.1 384.7L591.4 384.0L591.7 383.1L592.0 382.2L592.3 381.2L592.6 380.2L592.9 379.2L593.2 378.1L593.5 376.9L593.8 375.7L594.1 374.5L594.4 373.2L594.7 371.9L595.0 370.6L595.3 369.2L595.6 367.8L595.9 366.3L596.2 364.9L596.5 363.4L596.8 361.9L597.1 360.4L597.4 358.8L597.7 357.3L598.0 355.7L598.3 354.2L598.6 352.6L598.9 351.0L599.2 349.4L599.5 347.8L599.8 346.2L600.1 344.6L600.4 343.0L600.7 341.5L601.0 339.9L601.3 338.3L601.6 336.8L602.0 335.3L602.3 333.8L602.6 332.3L602.9 330.8L603.2 329.4L603.5 327.9L603.8 326.6L604.1 325.2L604.4 323.9L604.7 322.6L605.0 321.4L605.3 320.1L605.6 319.0L605.9 317.9L606.2 316.8L606.5 315.8L606.8 314.8L607.1 313.9L607.4 313.0L607.7 312.2L608.0 311.4L608.3 310.7L608.6 310.1L608.9 309.5L609.2 309.0L609.5 308.6L609.8 308.3L610.1 308.0L610.4 307.8L610.7 307.7L611.0 307.6L611.3 307.7L611.6 307.9L611.9 308.1L612.2 308.5L612.5 309.0L612.8 309.6L613.1 310.3L613.4 311.0L613.7 311.9L614.0 312.8L614.3 313.9L614.6 315.0L614.9 316.1L615.2 317.4L615.5 318.7L615.9 320.1L616.2 321.5L616.5 323.0L616.8 324.5L617.1 326.1L617.4 327.7L617.7 329.3L618.0 331.0L618.3 332.8L618.6 334.5L618.9 336.3L619.2 338.1L619.5 339.9L619.8 341.8L620.1 343.6L620.4 345.4L620.7 347.3L621.0 349.1L621.3 351.0L621.6 352.8L621.9 354.6L622.2 356.4L622.5 358.2L622.8 360.0L623.1 361.7L623.4 363.4L623.7 365.1L624.0 366.7L624.3 368.3L624.6 369.9L624.9 371.4L625.2 372.8L625.5 374.2L625.8 375.5L626.1 376.8L626.4 378.0L626.7 379.1L627.0 380.2L627.3 381.1L627.6 382.0L627.9 382.8L628.2 383.5L628.5 384.2L628.8 384.7L629.1 385.1L629.5 385.4L629.8 385.6L630.1 385.7L630.4 385.7L630.7 385.6L631.0 385.4L631.3 385.1L631.6 384.7L631.9 384.2L632.2 383.6L632.5 383.0L632.8 382.3L633.1 381.5L633.4 380.6L633.7 379.7L634.0 378.7L634.3 377.6L634.6 376.5L634.9 375.3L635.2 374.0L635.5 372.7L635.8 371.4L636.1 370.0L636.4 368.5L636.7 367.1L637.0 365.6L637.3 364.0L637.6 362.4L637.9 360.8L638.2 359.2L638.5 357.5L638.8 355.8L639.1 354.1L639.4 352.4L639.7 350.7L640.0 348.9L640.3 347.2L640.6 345.4L640.9 343.7L641.2 341.9L641.5 340.2L641.8 338.4L642.1 336.7L642.4 335.0L642.7 333.3L643.0 331.6L643.4 330.0L643.7 328.3L644.0 326.7L644.3 325.1L644.6 323.6L644.9 322.1L645.2 320.6L645.5 319.2L645.8 317.8L646.1 316.5L646.4 315.2L646.7 314.0L647.0 312.8L647.3 311.7L647.6 310.7L647.9 309.7L648.2 308.8L648.5 307.9L648.8 307.1L649.1 306.4L649.4 305.8L649.7 305.3L650.0 304.8L650.3 304.5L650.6 304.2L650.9 304.0L651.2 303.9L651.5 304.0L651.8 304.1L652.1 304.3L652.4 304.6L652.7 305.0L653.0 305.5L653.3 306.0L653.6 306.7L653.9 307.4L654.2 308.2L654.5 309.0L654.8 310.0L655.1 311.0L655.4 312.0L655.7 313.2L656.0 314.4L656.3 315.6L656.6 316.9L657.0 318.3L657.3 319.6L657.6 321.1L657.9 322.6L658.2 324.1L658.5 325.7L658.8 327.2L659.1 328.9L659.4 330.5L659.7 332.2L660.0 333.9L660.3 335.6L660.6 337.3L660.9 339.1L661.2 340.9L661.5 342.6L661.8 344.4L662.1 346.2L662.4 348.0L662.7 349.8L663.0 351.5L663.3 353.3L663.6 355.0L663.9 356.8L664.2 358.5L664.5 360.2L664.8 361.9L665.1 363.6L665.4 365.2L665.7 366.8L666.0 368.4L666.3 369.9L666.6 371.4L666.9 372.9L667.2 374.3L667.5 375.6L667.8 376.9L668.1 378.2L668.4 379.4L668.7 380.6L669.0 381.7L669.3 382.7L669.6 383.6L669.9 384.5L670.2 385.3L670.5 386.1L670.9 386.8L671.2 387.3L671.5 387.9L671.8 388.3L672.1 388.6L672.4 388.8L672.7 389.0L673.0 389.0L673.3 389.0L673.6 389.0L673.9 388.8L674.2 388.7L674.5 388.5L674.8 388.3L675.1 388.0L675.4 387.7L675.7 387.3L676.0 386.9L676.3 386.5L676.6 386.0L676.9 385.5L677.2 384.9L677.5 384.3" fill="none" stroke="#eeee5a" stroke-width="0.90"/>
<path d="M375.3 423.3L375.6 423.3L375.9 423.3L376.2 423.3L376.5 423.3L376.8 423.3L377.1 423.3L377.4 423.3L377.7 423.3L378.0 423.3L378.3 423.3L378.6 423.3L378.9 423.3L379.2 423.3L379.5 423.3L379.8 423.3L380.1 423.3L380.4 423.3L380.7 423.3L381.0 423.3L381.3 423.3L381.6 423.3L381.9 423.3L382.3 423.3L382.6 423.3L382.9 423.3L383.2 423.3L383.5 423.3L383.8 423.3L384.1 423.3L384.4 423.3L384.7 423.3L385.0 423.3L385.3 423.3L385.6 423.3L385.9 423.3L386.2 423.3L386.5 423.3L386.8 423.3L387.1 423.3L387.4 423.3L387.7 423.3L388.0 423.3L388.3 423.3L388.6 423.3L388.9 423.3L389.2 423.3L389.5 423.3L389.8 423.3L390.1 423.3L390.4 423.3L390.7 423.3L391.0 423.3L391.3 423.3L391.6 423.3L391.9 423.3L392.2 423.3L392.5 423.3L392.8 423.3L393.1 423.3L393.4 423.3L393.7 423.3L394.0 423.3L394.3 423.3L394.6 423.2L394.9 422.7L395.2 421.7L395.5 420.4L395.8 418.7L396.2 416.7L396.5 414.5L396.8 412.1L397.1 409.5L397.4 406.8L397.7 404.0L398.0 401.2L398.3 397.8L398.6 393.4L398.9 388.2L399.2 382.4L399.5 376.1L399.8 369.5L400.1 362.7L400.4 356.1L400.7 349.6L401.0 343.6L401.3 338.1L401.6 333.3L401.9 328.6L402.2 323.6L402.5 318.6L402.8 313.5L403.1 308.5L403.4 303.5L403.7 298.6L404.0 294.0L404.3 289.7L404.6 285.7L404.9 282.1L405.2 278.9L405.5 276.3L405.8 274.3L406.1 272.9L406.4 272.3L406.7 272.4L407.0 273.2L407.3 274.6L407.6 276.6L407.9 279.1L408.2 282.1L408.5 285.4L408.8 289.0L409.1 292.9L409.4 297.0L409.8 301.2L410.1 305.5L410.4 309.7L410.7 314.0L411.0 318.1L411.3 322.0L411.6 325.7L411.9 329.1L412.2 332.2L412.5 335.3L412.8 338.4L413.1 341.6L413.4 344.9L413.7 348.1L414.0 351.4L414.3 354.7L414.6 357.9L414.9 361.1L415.2 364.2L415.5 367.2L415.8 370.1L416.1 372.9L416.4 375.5L416.7 377.9L417.0 380.2L417.3 382.2L417.6 384.0L417.9 385.6L418.2 386.9L418.5 388.1L418.8 389.3L419.1 390.5L419.4 391.6L419.7 392.7L420.0 393.7L420.3 394.6L420.6 395.5L420.9 396.2L421.2 396.7L421.5 397.2L421.8 397.4L422.1 397.5L422.4 397.4L422.7 397.2L423.0 396.8L423.3 396.2L423.7 395.6L424.0 394.8L424.3 393.9L424.6 392.8L424.9 391.7L425.2 390.5L425.5 389.3L425.8 387.9L426.1 386.5L426.4 385.1L426.7 383.6L427.0 382.0L427.3 380.5L427.6 378.9L427.9 377.4L428.2 375.8L428.5 374.3L428.8 372.8L429.1 371.3L429.4 369.8L429.7 368.5L430.0 367.1L430.3 365.9L430.6 364.7L430.9 363.6L431.2 362.5L431.5 361.3L431.8 360.2L432.1 359.0L432.4 357.7L432.7 356.5L433.0 355.2L433.3 354.0L433.6 352.7L433.9 351.4L434.2 350.1L434.5 348.7L434.8 347.4L435.1 346.1L435.4 344.7L435.7 343.4L436.0 342.0L436.3 340.7L436.6 339.3L436.9 338.0L437.3 336.6L437.6 335.3L437.9 334.0L438.2 332.7L438.5 331.4L438.8 330.1L439.1 328.8L439.4 327.5L439.7 326.3L440.0 325.1L440.3 323.9L440.6 322.7L440.9 321.5L441.2 320.4L441.5 319.3L441.8 318.2L442.1 317.2L442.4 316.2L442.7 315.2L443.0 314.3L443.3 313.4L443.6 312.5L443.9 311.7L444.2 310.9L444.5 310.2L444.8 309.5L445.1 308.9L445.4 308.3L445.7 307.7L446.0 307.2L446.3 306.8L446.6 306.4L446.9 306.1L447.2 305.8L447.5 305.6L447.8 305.5L448.1 305.4L448.4 305.4L448.7 305.5L449.0 305.7L449.3 306.1L449.6 306.5L449.9 307.1L450.2 307.7L450.5 308.5L450.9 309.3L451.2 310.2L451.5 311.2L451.8 312.3L452.1 313.5L452.4 314.7L452.7 316.0L453.0 317.4L453.3 318.8L453.6 320.3L453.9 321.8L454.2 323.4L454.5 325.0L454.8 326.6L455.1 328.3L455.4 330.1L455.7 331.8L456.0 333.6L456.3 335.3L456.6 337.1L456.9 338.9L457.2 340.7L457.5 342.5L457.8 344.3L458.1 346.1L458.4 347.9L458.7 349.6L459.0 351.3L459.3 353.0L459.6 354.7L459.9 356.4L460.2 358.0L460.5 359.5L460.8 361.0L461.1 362.5L461.4 363.9L461.7 365.2L462.0 366.5L462.3 367.7L462.6 368.9L462.9 369.9L463.2 370.9L463.5 371.8L463.8 372.6L464.1 373.3L464.4 374.0L464.8 374.5L465.1 374.9L465.4 375.2L465.7 375.3L466.0 375.4L466.3 375.3L466.6 375.2L466.9 374.9L467.2 374.5L467.5 374.0L467.8 373.3L468.1 372.6L468.4 371.8L468.7 370.9L469.0 369.9L469.3 368.9L469.6 367.7L469.9 366.5L470.2 365.2L470.5 363.9L470.8 362.5L471.1 361.0L471.4 359.5L471.7 358.0L472.0 356.4L472.3 354.7L472.6 353.0L472.9 351.3L473.2 349.6L473.5 347.9L473.8 346.1L474.1 344.3L474.4 342.5L474.7 340.7L475.0 338.9L475.3 337.1L475.6 335.3L475.9 333.6L476.2 331.8L476.5 330.1L476.8 328.3L477.1 326.6L477.4 325.0L477.7 323.4L478.0 321.8L478.4 320.3L478.7 318.8L479.0 317.4L479.3 316.0L479.6 314.7L479.9 313.5L480.2 312.3L480.5 311.2L480.8 310.2L481.1 309.3L481.4 308.5L481.7 307.7L482.0 307.1L482.3 306.5L482.6 306.1L482.9 305.7L483.2 305.5L483.5 305.4L483.8 305.4L484.1 305.6L484.4 305.8L484.7 306.2L485.0 306.7L485.3 307.3L485.6 307.9L485.9 308.7L486.2 309.6L486.5 310.5L486.8 311.6L487.1 312.7L487.4 313.9L487.7 315.1L488.0 316.5L488.3 317.9L488.6 319.3L488.9 320.8L489.2 322.4L489.5 324.0L489.8 325.7L490.1 327.4L490.4 329.1L490.7 330.9L491.0 332.6L491.3 334.5L491.6 336.3L491.9 338.2L492.3 340.0L492.6 341.9L492.9 343.8L493.2 345.7L493.5 347.5L493.8 349.4L494.1 351.3L494.4 353.1L494.7 354.9L495.0 356.7L495.3 358.5L495.6 360.3L495.9 362.0L496.2 363.6L496.5 365.3L496.8 366.8L497.1 368.4L497.4 369.9L497.7 371.3L498.0 372.6L498.3 373.9L498.6 375.1L498.9 376.3L499.2 377.3L499.5 378.3L499.8 379.2L500.1 380.0L500.4 380.7L500.7 381.3L501.0 381.8L501.3 382.2L501.6 382.5L501.9 382.7L502.2 382.8L502.5 382.7L502.8 382.6L503.1 382.3L503.4 381.9L503.7 381.5L504.0 380.9L504.3 380.3L504.6 379.5L504.9 378.7L505.2 377.8L505.5 376.9L505.9 375.8L506.2 374.7L506.5 373.6L506.8 372.3L507.1 371.0L507.4 369.7L507.7 368.3L508.0 366.8L508.3 365.3L508.6 363.8L508.9 362.2L509.2 360.6L509.5 358.9L509.8 357.2L510.1 355.5L510.4 353.8L510.7 352.1L511.0 350.3L511.3 348.5L511.6 346.8L511.9 345.0L512.2 343.2L512.5 341.4L512.8 339.6L513.1 337.9L513.4 336.1L513.7 334.4L514.0 332.6L514.3 330.9L514.6 329.3L514.9 327.6L515.2 326.0L515.5 324.4L515.8 322.9L516.1 321.4L516.4 319.9L516.7 318.5L517.0 317.2L517.3 315.9L517.6 314.6L517.9 313.5L518.2 312.3L518.5 311.3L518.8 310.3L519.1 309.5L519.4 308.6L519.8 307.9L520.1 307.3L520.4 306.7L520.7 306.3L521.0 305.9L521.3 305.6L521.6 305.5L521.9 305.4L522.2 305.5L522.5 305.7L522.8 306.0L523.1 306.4L523.4 307.0L523.7 307.6L524.0 308.4L524.3 309.2L524.6 310.2L524.9 311.2L525.2 312.4L525.5 313.6L525.8 314.9L526.1 316.3L526.4 317.7L526.7 319.3L527.0 320.8L527.3 322.5L527.6 324.2L527.9 325.9L528.2 327.7L528.5 329.5L528.8 331.4L529.1 333.3L529.4 335.2L529.7 337.2L530.0 339.2L530.3 341.2L530.6 343.2L530.9 345.2L531.2 347.2L531.5 349.2L531.8 351.2L532.1 353.2L532.4 355.2L532.7 357.2L533.0 359.1L533.4 361.0L533.7 362.9L534.0 364.8L534.3 366.6L534.6 368.4L534.9 370.1L535.2 371.8L535.5 373.4L535.8 375.0L536.1 376.5L536.4 377.9L536.7 379.2L537.0 380.5L537.3 381.7L537.6 382.8L537.9 383.9L538.2 384.8L538.5 385.6L538.8 386.3L539.1 386.9L539.4 387.5L539.7 387.9L540.0 388.1L540.3 388.3L540.6 388.3L540.9 388.2L541.2 387.9L541.5 387.6L541.8 387.1L542.1 386.5L542.4 385.7L542.7 384.9L543.0 383.9L543.3 382.9L543.6 381.7L543.9 380.5L544.2 379.2L544.5 377.8L544.8 376.3L545.1 374.7L545.4 373.1L545.7 371.4L546.0 369.6L546.3 367.8L546.6 365.9L546.9 364.0L547.3 362.0L547.6 360.0L547.9 358.0L548.2 355.9L548.5 353.8L548.8 351.6L549.1 349.5L549.4 347.3L549.7 345.2L550.0 343.0L550.3 340.8L550.6 338.6L550.9 336.4L551.2 334.3L551.5 332.1L551.8 330.0L552.1 327.9L552.4 325.9L552.7 323.8L553.0 321.8L553.3 319.9L553.6 318.0L553.9 316.1L554.2 314.3L554.5 312.5L554.8 310.9L555.1 309.3L555.4 307.7L555.7 306.3L556.0 304.9L556.3 303.6L556.6 302.4L556.9 301.3L557.2 300.2L557.5 299.3L557.8 298.5L558.1 297.8L558.4 297.3L558.7 296.8L559.0 296.5L559.3 296.3L559.6 296.2L559.9 296.3L560.2 296.5L560.5 296.9L560.9 297.4L561.2 298.0L561.5 298.7L561.8 299.6L562.1 300.6L562.4 301.7L562.7 302.9L563.0 304.3L563.3 305.7L563.6 307.2L563.9 308.8L564.2 310.4L564.5 312.2L564.8 314.0L565.1 315.9L565.4 317.9L565.7 319.9L566.0 322.0L566.3 324.1L566.6 326.2L566.9 328.4L567.2 330.7L567.5 332.9L567.8 335.2L568.1 337.5L568.4 339.8L568.7 342.2L569.0 344.5L569.3 346.8L569.6 349.1L569.9 351.4L570.2 353.7L570.5 356.0L570.8 358.3L571.1 360.5L571.4 362.7L571.7 364.8L572.0 366.9L572.3 369.0L572.6 371.0L572.9 372.9L573.2 374.8L573.5 376.6L573.8 378.3L574.1 380.0L574.4 381.5L574.8 383.0L575.1 384.4L575.4 385.7L575.7 386.8L576.0 387.9L576.3 388.9L576.6 389.7L576.9 390.4L577.2 391.0L577.5 391.5L577.8 391.8L578.1 392.0L578.4 392.0L578.7 391.9L579.0 391.6L579.3 391.2L579.6 390.7L579.9 390.0L580.2 389.2L580.5 388.3L580.8 387.3L581.1 386.2L581.4 385.0L581.7 383.6L582.0 382.2L582.3 380.7L582.6 379.1L582.9 377.5L583.2 375.7L583.5 373.9L583.8 372.0L584.1 370.1L584.4 368.1L584.7 366.0L585.0 363.9L585.3 361.8L585.6 359.6L585.9 357.4L586.2 355.2L586.5 353.0L586.8 350.7L587.1 348.4L587.4 346.2L587.7 343.9L588.0 341.6L588.4 339.3L588.7 337.1L589.0 334.8L589.3 332.6L589.6 330.4L589.9 328.2L590.2 326.1L590.5 324.0L590.8 321.9L591.1 320.0L591.4 318.0L591.7 316.1L592.0 314.3L592.3 312.6L592.6 310.9L592.9 309.3L593.2 307.8L593.5 306.4L593.8 305.1L594.1 303.8L594.4 302.7L594.7 301.7L595.0 300.8L595.3 300.0L595.6 299.4L595.9 298.8L596.2 298.4L596.5 298.2L596.8 298.1L597.1 298.1L597.4 298.2L597.7 298.5L598.0 299.0L598.3 299.5L598.6 300.2L598.9 301.0L599.2 301.9L599.5 302.9L599.8 304.1L600.1 305.3L600.4 306.6L600.7 308.0L601.0 309.5L601.3 311.1L601.6 312.7L602.0 314.5L602.3 316.2L602.6 318.1L602.9 320.0L603.2 322.0L603.5 324.0L603.8 326.1L604.1 328.2L604.4 330.3L604.7 332.5L605.0 334.7L605.3 336.9L605.6 339.2L605.9 341.4L606.2 343.7L606.5 345.9L606.8 348.2L607.1 350.5L607.4 352.7L607.7 355.0L608.0 357.2L608.3 359.4L608.6 361.6L608.9 363.7L609.2 365.8L609.5 367.9L609.8 369.9L610.1 371.9L610.4 373.8L610.7 375.6L611.0 377.4L611.3 379.1L611.6 380.8L611.9 382.4L612.2 383.9L612.5 385.3L612.8 386.6L613.1 387.8L613.4 388.9L613.7 390.0L614.0 390.9L614.3 391.7L614.6 392.3L614.9 392.9L615.2 393.3L615.5 393.6L615.9 393.8L616.2 393.8L616.5 393.7L616.8 393.4L617.1 393.0L617.4 392.5L617.7 391.8L618.0 391.0L618.3 390.1L618.6 389.1L618.9 388.0L619.2 386.7L619.5 385.4L619.8 384.0L620.1 382.5L620.4 380.9L620.7 379.2L621.0 377.4L621.3 375.6L621.6 373.6L621.9 371.7L622.2 369.7L622.5 367.6L622.8 365.4L623.1 363.3L623.4 361.1L623.7 358.8L624.0 356.5L624.3 354.2L624.6 351.9L624.9 349.6L625.2 347.2L625.5 344.9L625.8 342.5L626.1 340.2L626.4 337.8L626.7 335.5L627.0 333.2L627.3 330.9L627.6 328.6L627.9 326.4L628.2 324.2L628.5 322.0L628.8 319.9L629.1 317.9L629.5 315.8L629.8 313.9L630.1 312.0L630.4 310.2L630.7 308.5L631.0 306.8L631.3 305.2L631.6 303.7L631.9 302.3L632.2 301.0L632.5 299.8L632.8 298.7L633.1 297.7L633.4 296.9L633.7 296.1L634.0 295.5L634.3 295.0L634.6 294.7L634.9 294.4L635.2 294.4L635.5 294.5L635.8 294.7L636.1 295.2L636.4 295.8L636.7 296.6L637.0 297.5L637.3 298.6L637.6 299.8L637.9 301.2L638.2 302.7L638.5 304.3L638.8 306.1L639.1 307.9L639.4 309.9L639.7 311.9L640.0 314.0L640.3 316.2L640.6 318.5L640.9 320.9L641.2 323.3L641.5 325.8L641.8 328.3L642.1 330.9L642.4 333.5L642.7 336.1L643.0 338.8L643.4 341.4L643.7 344.1L644.0 346.8L644.3 349.5L644.6 352.1L644.9 354.8L645.2 357.4L645.5 360.0L645.8 362.6L646.1 365.1L646.4 367.5L646.7 369.9L647.0 372.3L647.3 374.5L647.6 376.7L647.9 378.8L648.2 380.8L648.5 382.7L648.8 384.6L649.1 386.3L649.4 387.8L649.7 389.3L650.0 390.6L650.3 391.8L650.6 392.8L650.9 393.7L651.2 394.5L651.5 395.0L651.8 395.4L652.1 395.6L652.4 395.7L652.7 395.6L653.0 395.3L653.3 395.0L653.6 394.5L653.9 393.9L654.2 393.3L654.5 392.5L654.8 391.6L655.1 390.6L655.4 389.5L655.7 388.4L656.0 387.1L656.3 385.8L656.6 384.4L657.0 382.9L657.3 381.3L657.6 379.7L657.9 378.0L658.2 376.3L658.5 374.5L658.8 372.6L659.1 370.7L659.4 368.8L659.7 366.8L660.0 364.8L660.3 362.7L660.6 360.7L660.9 358.5L661.2 356.4L661.5 354.3L661.8 352.1L662.1 349.9L662.4 347.8L662.7 345.6L663.0 343.4L663.3 341.2L663.6 339.0L663.9 336.9L664.2 334.7L664.5 332.6L664.8 330.5L665.1 328.4L665.4 326.4L665.7 324.4L666.0 322.4L666.3 320.5L666.6 318.6L666.9 316.8L667.2 315.0L667.5 313.3L667.8 311.6L668.1 310.0L668.4 308.5L668.7 307.0L669.0 305.6L669.3 304.3L669.6 303.1L669.9 302.0L670.2 300.9L670.5 300.0L670.9 299.1L671.2 298.4L671.5 297.7L671.8 297.2L672.1 296.8L672.4 296.5L672.7 296.3L673.0 296.2L673.3 296.2L673.6 296.3L673.9 296.4L674.2 296.6L674.5 296.8L674.8 297.1L675.1 297.4L675.4 297.7L675.7 298.1L676.0 298.6L676.3 299.1L676.6 299.6L676.9 300.2L677.2 300.9L677.5 301.6" fill="none" stroke="#e2acc2" stroke-width="0.90"/>
<path d="M375.3 423.3L375.6 423.3L375.9 423.3L376.2 423.3L376.5 423.3L376.8 423.3L377.1 423.3L377.4 423.3L377.7 423.3L378.0 423.3L378.3 423.3L378.6 423.3L378.9 423.3L379.2 423.3L379.5 423.3L379.8 423.3L380.1 423.3L380.4 423.3L380.7 423.3L381.0 423.3L381.3 423.3L381.6 423.3L381.9 423.3L382.3 423.3L382.6 423.3L382.9 423.3L383.2 423.3L383.5 423.3L383.8 423.3L384.1 423.3L384.4 423.3L384.7 423.3L385.0 423.3L385.3 423.3L385.6 423.3L385.9 423.3L386.2 423.3L386.5 423.3L386.8 423.3L387.1 423.3L387.4 423.3L387.7 423.3L388.0 423.3L388.3 423.3L388.6 423.3L388.9 423.3L389.2 423.3L389.5 423.3L389.8 423.3L390.1 423.3L390.4 423.3L390.7 423.3L391.0 423.3L391.3 423.3L391.6 423.3L391.9 423.3L392.2 423.3L392.5 423.3L392.8 423.3L393.1 423.3L393.4 423.3L393.7 423.3L394.0 423.3L394.3 423.3L394.6 423.2L394.9 422.7L395.2 421.7L395.5 420.4L395.8 418.7L396.2 416.7L396.5 414.5L396.8 412.1L397.1 409.5L397.4 406.8L397.7 404.0L398.0 401.2L398.3 397.8L398.6 393.6L398.9 388.5L399.2 382.8L399.5 376.7L399.8 370.2L400.1 363.6L400.4 356.9L400.7 350.4L401.0 344.2L401.3 338.4L401.6 333.2L401.9 327.7L402.2 322.0L402.5 316.0L402.8 309.9L403.1 303.8L403.4 297.8L403.7 292.0L404.0 286.6L404.3 281.5L404.6 277.0L404.9 273.2L405.2 270.1L405.5 267.9L405.8 266.6L406.1 266.4L406.4 267.1L406.7 268.4L407.0 270.5L407.3 273.1L407.6 276.2L407.9 279.8L408.2 283.8L408.5 288.0L408.8 292.5L409.1 297.1L409.4 301.8L409.8 306.5L410.1 311.2L410.4 315.7L410.7 320.1L411.0 324.2L411.3 327.9L411.6 331.2L411.9 334.3L412.2 337.5L412.5 340.7L412.8 343.9L413.1 347.1L413.4 350.3L413.7 353.5L414.0 356.6L414.3 359.7L414.6 362.8L414.9 365.8L415.2 368.7L415.5 371.5L415.8 374.2L416.1 376.8L416.4 379.3L416.7 381.6L417.0 383.8L417.3 385.8L417.6 387.6L417.9 389.2L418.2 390.6L418.5 392.0L418.8 393.4L419.1 394.7L419.4 396.1L419.7 397.4L420.0 398.6L420.3 399.7L420.6 400.8L420.9 401.7L421.2 402.6L421.5 403.3L421.8 403.8L422.1 404.2L422.4 404.5L422.7 404.5L423.0 404.3L423.3 404.0L423.7 403.5L424.0 402.8L424.3 401.9L424.6 400.9L424.9 399.8L425.2 398.5L425.5 397.2L425.8 395.7L426.1 394.2L426.4 392.6L426.7 390.9L427.0 389.2L427.3 387.4L427.6 385.6L427.9 383.8L428.2 382.0L428.5 380.2L428.8 378.4L429.1 376.6L429.4 374.9L429.7 373.2L430.0 371.5L430.3 370.0L430.6 368.5L430.9 367.1L431.2 365.6L431.5 364.1L431.8 362.5L432.1 360.9L432.4 359.3L432.7 357.6L433.0 355.8L433.3 354.1L433.6 352.3L433.9 350.4L434.2 348.6L434.5 346.7L434.8 344.8L435.1 342.9L435.4 341.0L435.7 339.1L436.0 337.2L436.3 335.4L436.6 333.5L436.9 331.6L437.3 329.7L437.6 327.9L437.9 326.1L438.2 324.3L438.5 322.5L438.8 320.8L439.1 319.1L439.4 317.5L439.7 315.9L440.0 314.3L440.3 312.8L440.6 311.4L440.9 310.0L441.2 308.7L441.5 307.5L441.8 306.3L442.1 305.2L442.4 304.2L442.7 303.2L443.0 302.4L443.3 301.6L443.6 301.0L443.9 300.4L444.2 299.9L444.5 299.6L444.8 299.3L445.1 299.2L445.4 299.2L445.7 299.3L446.0 299.5L446.3 299.8L446.6 300.3L446.9 300.9L447.2 301.5L447.5 302.3L447.8 303.2L448.1 304.1L448.4 305.2L448.7 306.3L449.0 307.5L449.3 308.8L449.6 310.2L449.9 311.6L450.2 313.1L450.5 314.7L450.9 316.3L451.2 318.0L451.5 319.7L451.8 321.4L452.1 323.2L452.4 325.1L452.7 326.9L453.0 328.8L453.3 330.7L453.6 332.6L453.9 334.6L454.2 336.5L454.5 338.5L454.8 340.5L455.1 342.4L455.4 344.4L455.7 346.3L456.0 348.3L456.3 350.2L456.6 352.1L456.9 353.9L457.2 355.7L457.5 357.5L457.8 359.3L458.1 361.0L458.4 362.7L458.7 364.3L459.0 365.8L459.3 367.3L459.6 368.8L459.9 370.1L460.2 371.4L460.5 372.7L460.8 373.8L461.1 374.8L461.4 375.8L461.7 376.7L462.0 377.5L462.3 378.1L462.6 378.7L462.9 379.1L463.2 379.5L463.5 379.7L463.8 379.8L464.1 379.8L464.4 379.6L464.8 379.3L465.1 378.9L465.4 378.4L465.7 377.7L466.0 376.9L466.3 376.0L466.6 375.1L466.9 374.0L467.2 372.8L467.5 371.5L467.8 370.2L468.1 368.7L468.4 367.2L468.7 365.6L469.0 364.0L469.3 362.3L469.6 360.5L469.9 358.7L470.2 356.8L470.5 354.9L470.8 353.0L471.1 351.0L471.4 349.0L471.7 347.0L472.0 345.0L472.3 342.9L472.6 340.9L472.9 338.8L473.2 336.8L473.5 334.7L473.8 332.7L474.1 330.7L474.4 328.7L474.7 326.7L475.0 324.8L475.3 322.9L475.6 321.0L475.9 319.2L476.2 317.4L476.5 315.7L476.8 314.1L477.1 312.5L477.4 311.0L477.7 309.6L478.0 308.2L478.4 306.9L478.7 305.7L479.0 304.7L479.3 303.7L479.6 302.8L479.9 302.0L480.2 301.3L480.5 300.8L480.8 300.4L481.1 300.1L481.4 299.9L481.7 299.9L482.0 300.0L482.3 300.3L482.6 300.8L482.9 301.4L483.2 302.1L483.5 303.0L483.8 304.0L484.1 305.2L484.4 306.4L484.7 307.8L485.0 309.2L485.3 310.8L485.6 312.5L485.9 314.2L486.2 316.0L486.5 317.9L486.8 319.9L487.1 321.9L487.4 324.0L487.7 326.2L488.0 328.4L488.3 330.6L488.6 332.8L488.9 335.1L489.2 337.4L489.5 339.7L489.8 342.0L490.1 344.4L490.4 346.7L490.7 349.0L491.0 351.3L491.3 353.5L491.6 355.8L491.9 358.0L492.3 360.1L492.6 362.2L492.9 364.3L493.2 366.3L493.5 368.2L493.8 370.1L494.1 371.8L494.4 373.5L494.7 375.1L495.0 376.6L495.3 378.0L495.6 379.3L495.9 380.5L496.2 381.5L496.5 382.5L496.8 383.3L497.1 383.9L497.4 384.4L497.7 384.8L498.0 384.9L498.3 385.0L498.6 384.8L498.9 384.6L499.2 384.1L499.5 383.5L499.8 382.8L500.1 382.0L500.4 381.0L500.7 379.9L501.0 378.7L501.3 377.4L501.6 376.0L501.9 374.4L502.2 372.8L502.5 371.2L502.8 369.4L503.1 367.6L503.4 365.7L503.7 363.7L504.0 361.7L504.3 359.6L504.6 357.5L504.9 355.3L505.2 353.2L505.5 351.0L505.9 348.8L506.2 346.5L506.5 344.3L506.8 342.0L507.1 339.8L507.4 337.6L507.7 335.4L508.0 333.2L508.3 331.0L508.6 328.9L508.9 326.8L509.2 324.8L509.5 322.8L509.8 320.9L510.1 319.0L510.4 317.2L510.7 315.5L511.0 313.9L511.3 312.4L511.6 310.9L511.9 309.6L512.2 308.3L512.5 307.2L512.8 306.2L513.1 305.3L513.4 304.5L513.7 303.9L514.0 303.4L514.3 303.1L514.6 302.9L514.9 302.8L515.2 302.9L515.5 303.2L515.8 303.5L516.1 304.0L516.4 304.6L516.7 305.3L517.0 306.1L517.3 307.0L517.6 308.0L517.9 309.0L518.2 310.2L518.5 311.5L518.8 312.8L519.1 314.2L519.4 315.7L519.8 317.3L520.1 318.9L520.4 320.5L520.7 322.3L521.0 324.1L521.3 325.9L521.6 327.7L521.9 329.7L522.2 331.6L522.5 333.6L522.8 335.6L523.1 337.6L523.4 339.6L523.7 341.7L524.0 343.7L524.3 345.8L524.6 347.9L524.9 349.9L525.2 352.0L525.5 354.0L525.8 356.1L526.1 358.1L526.4 360.1L526.7 362.0L527.0 364.0L527.3 365.9L527.6 367.7L527.9 369.5L528.2 371.3L528.5 373.0L528.8 374.6L529.1 376.2L529.4 377.8L529.7 379.2L530.0 380.6L530.3 381.9L530.6 383.2L530.9 384.3L531.2 385.4L531.5 386.3L531.8 387.2L532.1 387.9L532.4 388.6L532.7 389.1L533.0 389.6L533.4 389.9L533.7 390.1L534.0 390.1L534.3 390.1L534.6 389.8L534.9 389.4L535.2 388.8L535.5 388.0L535.8 387.1L536.1 386.1L536.4 384.9L536.7 383.6L537.0 382.2L537.3 380.6L537.6 378.9L537.9 377.2L538.2 375.3L538.5 373.4L538.8 371.3L539.1 369.2L539.4 367.0L539.7 364.8L540.0 362.5L540.3 360.1L540.6 357.7L540.9 355.2L541.2 352.7L541.5 350.2L541.8 347.7L542.1 345.1L542.4 342.6L542.7 340.0L543.0 337.4L543.3 334.9L543.6 332.3L543.9 329.8L544.2 327.4L544.5 324.9L544.8 322.5L545.1 320.2L545.4 317.9L545.7 315.6L546.0 313.5L546.3 311.4L546.6 309.4L546.9 307.4L547.3 305.6L547.6 303.9L547.9 302.3L548.2 300.8L548.5 299.4L548.8 298.1L549.1 297.0L549.4 296.0L549.7 295.1L550.0 294.4L550.3 293.9L550.6 293.5L550.9 293.3L551.2 293.3L551.5 293.4L551.8 293.7L552.1 294.1L552.4 294.7L552.7 295.4L553.0 296.2L553.3 297.2L553.6 298.3L553.9 299.5L554.2 300.8L554.5 302.2L554.8 303.7L555.1 305.3L555.4 307.0L555.7 308.8L556.0 310.7L556.3 312.6L556.6 314.6L556.9 316.7L557.2 318.8L557.5 321.0L557.8 323.3L558.1 325.6L558.4 327.9L558.7 330.2L559.0 332.6L559.3 335.0L559.6 337.4L559.9 339.9L560.2 342.3L560.5 344.8L560.9 347.2L561.2 349.6L561.5 352.1L561.8 354.5L562.1 356.9L562.4 359.2L562.7 361.5L563.0 363.8L563.3 366.0L563.6 368.2L563.9 370.4L564.2 372.4L564.5 374.5L564.8 376.4L565.1 378.3L565.4 380.1L565.7 381.8L566.0 383.4L566.3 384.9L566.6 386.3L566.9 387.6L567.2 388.8L567.5 389.9L567.8 390.9L568.1 391.7L568.4 392.4L568.7 393.0L569.0 393.4L569.3 393.7L569.6 393.8L569.9 393.8L570.2 393.6L570.5 393.3L570.8 392.7L571.1 392.1L571.4 391.3L571.7 390.4L572.0 389.3L572.3 388.2L572.6 386.9L572.9 385.5L573.2 383.9L573.5 382.3L573.8 380.6L574.1 378.8L574.4 376.9L574.8 375.0L575.1 373.0L575.4 370.9L575.7 368.7L576.0 366.5L576.3 364.2L576.6 361.9L576.9 359.6L577.2 357.2L577.5 354.8L577.8 352.4L578.1 350.0L578.4 347.5L578.7 345.1L579.0 342.6L579.3 340.2L579.6 337.8L579.9 335.4L580.2 333.0L580.5 330.7L580.8 328.4L581.1 326.1L581.4 323.9L581.7 321.8L582.0 319.7L582.3 317.6L582.6 315.7L582.9 313.8L583.2 312.0L583.5 310.3L583.8 308.7L584.1 307.2L584.4 305.7L584.7 304.5L585.0 303.3L585.3 302.2L585.6 301.3L585.9 300.5L586.2 299.9L586.5 299.4L586.8 299.0L587.1 298.8L587.4 298.8L587.7 298.9L588.0 299.2L588.4 299.6L588.7 300.1L589.0 300.8L589.3 301.5L589.6 302.4L589.9 303.4L590.2 304.6L590.5 305.8L590.8 307.1L591.1 308.5L591.4 310.0L591.7 311.6L592.0 313.3L592.3 315.0L592.6 316.8L592.9 318.7L593.2 320.6L593.5 322.6L593.8 324.6L594.1 326.7L594.4 328.8L594.7 331.0L595.0 333.2L595.3 335.4L595.6 337.6L595.9 339.9L596.2 342.2L596.5 344.4L596.8 346.7L597.1 349.0L597.4 351.2L597.7 353.5L598.0 355.7L598.3 358.0L598.6 360.1L598.9 362.3L599.2 364.4L599.5 366.5L599.8 368.5L600.1 370.5L600.4 372.5L600.7 374.3L601.0 376.1L601.3 377.9L601.6 379.5L602.0 381.1L602.3 382.6L602.6 384.0L602.9 385.4L603.2 386.6L603.5 387.7L603.8 388.7L604.1 389.6L604.4 390.4L604.7 391.0L605.0 391.6L605.3 392.0L605.6 392.2L605.9 392.3L606.2 392.3L606.5 392.1L606.8 391.8L607.1 391.2L607.4 390.6L607.7 389.8L608.0 388.8L608.3 387.7L608.6 386.5L608.9 385.1L609.2 383.7L609.5 382.1L609.8 380.5L610.1 378.7L610.4 376.8L610.7 374.9L611.0 372.9L611.3 370.8L611.6 368.6L611.9 366.4L612.2 364.1L612.5 361.7L612.8 359.3L613.1 356.9L613.4 354.5L613.7 352.0L614.0 349.5L614.3 347.0L614.6 344.4L614.9 341.9L615.2 339.4L615.5 336.9L615.9 334.4L616.2 331.9L616.5 329.4L616.8 327.0L617.1 324.6L617.4 322.3L617.7 320.0L618.0 317.8L618.3 315.6L618.6 313.5L618.9 311.5L619.2 309.5L619.5 307.7L619.8 305.9L620.1 304.2L620.4 302.7L620.7 301.2L621.0 299.9L621.3 298.6L621.6 297.6L621.9 296.6L622.2 295.8L622.5 295.1L622.8 294.6L623.1 294.2L623.4 294.0L623.7 294.0L624.0 294.2L624.3 294.5L624.6 295.0L624.9 295.7L625.2 296.5L625.5 297.5L625.8 298.6L626.1 299.9L626.4 301.3L626.7 302.8L627.0 304.5L627.3 306.2L627.6 308.1L627.9 310.0L628.2 312.1L628.5 314.2L628.8 316.5L629.1 318.8L629.5 321.1L629.8 323.5L630.1 326.0L630.4 328.5L630.7 331.1L631.0 333.7L631.3 336.3L631.6 339.0L631.9 341.6L632.2 344.3L632.5 346.9L632.8 349.6L633.1 352.2L633.4 354.9L633.7 357.5L634.0 360.0L634.3 362.5L634.6 365.0L634.9 367.4L635.2 369.8L635.5 372.1L635.8 374.3L636.1 376.5L636.4 378.5L636.7 380.5L637.0 382.3L637.3 384.1L637.6 385.8L637.9 387.3L638.2 388.7L638.5 389.9L638.8 391.1L639.1 392.1L639.4 392.9L639.7 393.6L640.0 394.1L640.3 394.4L640.6 394.6L640.9 394.5L641.2 394.3L641.5 394.0L641.8 393.4L642.1 392.8L642.4 392.0L642.7 391.0L643.0 389.9L643.4 388.7L643.7 387.4L644.0 385.9L644.3 384.3L644.6 382.7L644.9 380.9L645.2 379.0L645.5 377.1L645.8 375.1L646.1 373.0L646.4 370.8L646.7 368.6L647.0 366.3L647.3 363.9L647.6 361.6L647.9 359.1L648.2 356.7L648.5 354.2L648.8 351.7L649.1 349.2L649.4 346.6L649.7 344.1L650.0 341.6L650.3 339.1L650.6 336.6L650.9 334.1L651.2 331.6L651.5 329.2L651.8 326.8L652.1 324.5L652.4 322.2L652.7 320.0L653.0 317.8L653.3 315.7L653.6 313.7L653.9 311.7L654.2 309.9L654.5 308.1L654.8 306.4L655.1 304.9L655.4 303.4L655.7 302.1L656.0 300.9L656.3 299.8L656.6 298.8L657.0 298.0L657.3 297.3L657.6 296.8L657.9 296.4L658.2 296.2L658.5 296.2L658.8 296.4L659.1 296.7L659.4 297.1L659.7 297.7L660.0 298.5L660.3 299.4L660.6 300.4L660.9 301.6L661.2 302.9L661.5 304.3L661.8 305.8L662.1 307.4L662.4 309.2L662.7 311.0L663.0 312.9L663.3 314.9L663.6 316.9L663.9 319.1L664.2 321.3L664.5 323.5L664.8 325.8L665.1 328.2L665.4 330.6L665.7 333.0L666.0 335.4L666.3 337.9L666.6 340.4L666.9 342.9L667.2 345.4L667.5 347.9L667.8 350.4L668.1 352.9L668.4 355.4L668.7 357.8L669.0 360.3L669.3 362.6L669.6 365.0L669.9 367.3L670.2 369.5L670.5 371.7L670.9 373.8L671.2 375.8L671.5 377.8L671.8 379.7L672.1 381.4L672.4 383.1L672.7 384.7L673.0 386.2L673.3 387.6L673.6 388.8L673.9 389.9L674.2 390.9L674.5 391.8L674.8 392.5L675.1 393.1L675.4 393.5L675.7 393.7L676.0 393.8L676.3 393.8L676.6 393.7L676.9 393.5L677.2 393.3L677.5 393.0" fill="none" stroke="#aa3c3c" stroke-width="0.90"/>
<path d="M375.3 423.3L375.6 423.3L375.9 423.3L376.2 423.3L376.5 423.3L376.8 423.3L377.1 423.3L377.4 423.3L377.7 423.3L378.0 423.3L378.3 423.3L378.6 423.3L378.9 423.3L379.2 423.3L379.5 423.3L379.8 423.3L380.1 423.3L380.4 423.3L380.7 423.3L381.0 423.3L381.3 423.3L381.6 423.3L381.9 423.3L382.3 423.3L382.6 423.3L382.9 423.3L383.2 423.3L383.5 423.3L383.8 423.3L384.1 423.3L384.4 423.3L384.7 423.3L385.0 423.3L385.3 423.3L385.6 423.3L385.9 423.3L386.2 423.3L386.5 423.3L386.8 423.3L387.1 423.3L387.4 423.3L387.7 423.3L388.0 423.3L388.3 423.3L388.6 423.3L388.9 423.3L389.2 423.3L389.5 423.3L389.8 423.3L390.1 423.3L390.4 423.3L390.7 423.3L391.0 423.3L391.3 423.3L391.6 423.3L391.9 423.3L392.2 423.3L392.5 423.3L392.8 423.3L393.1 423.3L393.4 423.3L393.7 423.3L394.0 423.3L394.3 423.3L394.6 423.2L394.9 422.8L395.2 422.0L395.5 421.0L395.8 419.6L396.2 418.1L396.5 416.3L396.8 414.3L397.1 412.1L397.4 409.8L397.7 407.4L398.0 404.9L398.3 401.6L398.6 396.9L398.9 391.2L399.2 384.5L399.5 377.3L399.8 369.6L400.1 361.9L400.4 354.2L400.7 346.9L401.0 340.3L401.3 334.5L401.6 329.7L401.9 325.2L402.2 320.6L402.5 315.9L402.8 311.3L403.1 306.7L403.4 302.2L403.7 297.7L404.0 293.3L404.3 289.0L404.6 284.9L404.9 280.9L405.2 277.1L405.5 273.5L405.8 270.2L406.1 267.1L406.4 264.2L406.7 261.7L407.0 259.5L407.3 257.7L407.6 256.2L407.9 255.1L408.2 254.4L408.5 254.2L408.8 254.5L409.1 255.3L409.4 256.6L409.8 258.3L410.1 260.4L410.4 263.0L410.7 265.8L411.0 269.0L411.3 272.5L411.6 276.2L411.9 280.1L412.2 284.2L412.5 288.4L412.8 292.7L413.1 297.0L413.4 301.4L413.7 305.8L414.0 310.2L414.3 314.5L414.6 318.6L414.9 322.6L415.2 326.4L415.5 330.1L415.8 333.5L416.1 337.2L416.4 341.0L416.7 345.0L417.0 349.0L417.3 353.2L417.6 357.4L417.9 361.6L418.2 365.8L418.5 369.9L418.8 374.0L419.1 377.9L419.4 381.7L419.7 385.2L420.0 388.6L420.3 391.7L420.6 394.4L420.9 396.9L421.2 399.0L421.5 400.7L421.8 402.1L422.1 403.4L422.4 404.7L422.7 406.0L423.0 407.2L423.3 408.4L423.7 409.5L424.0 410.6L424.3 411.5L424.6 412.4L424.9 413.2L425.2 413.9L425.5 414.5L425.8 414.9L426.1 415.3L426.4 415.5L426.7 415.6L427.0 415.5L427.3 415.2L427.6 414.9L427.9 414.3L428.2 413.7L428.5 412.9L428.8 412.0L429.1 411.1L429.4 410.0L429.7 408.9L430.0 407.7L430.3 406.5L430.6 405.2L430.9 403.9L431.2 402.5L431.5 401.2L431.8 399.8L432.1 398.5L432.4 397.2L432.7 395.9L433.0 394.6L433.3 393.4L433.6 392.2L433.9 390.8L434.2 389.4L434.5 387.9L434.8 386.4L435.1 384.8L435.4 383.2L435.7 381.6L436.0 379.9L436.3 378.2L436.6 376.6L436.9 374.9L437.3 373.2L437.6 371.5L437.9 369.9L438.2 368.3L438.5 366.7L438.8 365.2L439.1 363.8L439.4 362.4L439.7 361.1L440.0 359.8L440.3 358.7L440.6 357.6L440.9 356.7L441.2 355.8L441.5 354.8L441.8 353.9L442.1 353.0L442.4 352.0L442.7 351.1L443.0 350.2L443.3 349.3L443.6 348.4L443.9 347.5L444.2 346.6L444.5 345.7L444.8 344.8L445.1 344.0L445.4 343.1L445.7 342.3L446.0 341.5L446.3 340.7L446.6 340.0L446.9 339.2L447.2 338.5L447.5 337.8L447.8 337.2L448.1 336.5L448.4 335.9L448.7 335.3L449.0 334.8L449.3 334.3L449.6 333.8L449.9 333.4L450.2 332.9L450.5 332.6L450.9 332.3L451.2 332.0L451.5 331.7L451.8 331.5L452.1 331.4L452.4 331.3L452.7 331.2L453.0 331.2L453.3 331.2L453.6 331.3L453.9 331.3L454.2 331.4L454.5 331.5L454.8 331.6L455.1 331.7L455.4 331.9L455.7 332.0L456.0 332.2L456.3 332.4L456.6 332.6L456.9 332.8L457.2 333.1L457.5 333.3L457.8 333.6L458.1 333.8L458.4 334.1L458.7 334.4L459.0 334.7L459.3 335.0L459.6 335.3L459.9 335.6L460.2 335.9L460.5 336.2L460.8 336.5L461.1 336.9L461.4 337.2L461.7 337.5L462.0 337.8L462.3 338.2L462.6 338.5L462.9 338.8L463.2 339.2L463.5 339.5L463.8 339.8L464.1 340.1L464.4 340.5L464.8 340.8L465.1 341.1L465.4 341.4L465.7 341.7L466.0 341.9L466.3 342.2L466.6 342.5L466.9 342.7L467.2 343.0L467.5 343.2L467.8 343.4L468.1 343.6L468.4 343.8L468.7 344.0L469.0 344.2L469.3 344.3L469.6 344.4L469.9 344.5L470.2 344.6L470.5 344.7L470.8 344.8L471.1 344.8L471.4 344.8L471.7 344.8L472.0 344.8L472.3 344.8L472.6 344.7L472.9 344.7L473.2 344.6L473.5 344.5L473.8 344.5L474.1 344.4L474.4 344.3L474.7 344.1L475.0 344.0L475.3 343.9L475.6 343.7L475.9 343.6L476.2 343.4L476.5 343.3L476.8 343.1L477.1 342.9L477.4 342.7L477.7 342.5L478.0 342.3L478.4 342.1L478.7 341.9L479.0 341.7L479.3 341.5L479.6 341.3L479.9 341.1L480.2 340.9L480.5 340.7L480.8 340.4L481.1 340.2L481.4 340.0L481.7 339.8L482.0 339.6L482.3 339.3L482.6 339.1L482.9 338.9L483.2 338.7L483.5 338.5L483.8 338.3L484.1 338.1L484.4 337.9L484.7 337.7L485.0 337.5L485.3 337.3L485.6 337.1L485.9 336.9L486.2 336.8L486.5 336.6L486.8 336.4L487.1 336.3L487.4 336.2L487.7 336.0L488.0 335.9L488.3 335.8L488.6 335.7L488.9 335.6L489.2 335.5L489.5 335.4L489.8 335.4L490.1 335.3L490.4 335.3L490.7 335.3L491.0 335.3L491.3 335.3L491.6 335.3L491.9 335.3L492.3 335.4L492.6 335.4L492.9 335.5L493.2 335.6L493.5 335.7L493.8 335.8L494.1 335.9L494.4 336.0L494.7 336.2L495.0 336.3L495.3 336.5L495.6 336.7L495.9 336.9L496.2 337.1L496.5 337.3L496.8 337.5L497.1 337.7L497.4 337.9L497.7 338.2L498.0 338.4L498.3 338.6L498.6 338.9L498.9 339.1L499.2 339.4L499.5 339.7L499.8 339.9L500.1 340.2L500.4 340.5L500.7 340.7L501.0 341.0L501.3 341.3L501.6 341.6L501.9 341.8L502.2 342.1L502.5 342.4L502.8 342.7L503.1 342.9L503.4 343.2L503.7 343.5L504.0 343.8L504.3 344.0L504.6 344.3L504.9 344.5L505.2 344.8L505.5 345.0L505.9 345.3L506.2 345.5L506.5 345.8L506.8 346.0L507.1 346.2L507.4 346.4L507.7 346.6L508.0 346.8L508.3 347.0L508.6 347.2L508.9 347.4L509.2 347.5L509.5 347.7L509.8 347.8L510.1 347.9L510.4 348.1L510.7 348.2L511.0 348.3L511.3 348.3L511.6 348.4L511.9 348.4L512.2 348.5L512.5 348.5L512.8 348.5L513.1 348.5L513.4 348.5L513.7 348.4L514.0 348.4L514.3 348.3L514.6 348.2L514.9 348.1L515.2 348.0L515.5 347.9L515.8 347.7L516.1 347.6L516.4 347.4L516.7 347.2L517.0 347.0L517.3 346.8L517.6 346.6L517.9 346.4L518.2 346.2L518.5 345.9L518.8 345.7L519.1 345.4L519.4 345.2L519.8 344.9L520.1 344.7L520.4 344.4L520.7 344.1L521.0 343.8L521.3 343.5L521.6 343.3L521.9 343.0L522.2 342.7L522.5 342.4L522.8 342.1L523.1 341.8L523.4 341.5L523.7 341.2L524.0 341.0L524.3 340.7L524.6 340.4L524.9 340.1L525.2 339.9L525.5 339.6L525.8 339.3L526.1 339.1L526.4 338.8L526.7 338.6L527.0 338.3L527.3 338.1L527.6 337.9L527.9 337.7L528.2 337.5L528.5 337.3L528.8 337.1L529.1 336.9L529.4 336.8L529.7 336.6L530.0 336.5L530.3 336.4L530.6 336.3L530.9 336.2L531.2 336.1L531.5 336.1L531.8 336.0L532.1 336.0L532.4 336.0L532.7 336.0L533.0 336.0L533.4 336.1L533.7 336.1L534.0 336.2L534.3 336.3L534.6 336.4L534.9 336.6L535.2 336.7L535.5 336.9L535.8 337.1L536.1 337.3L536.4 337.5L536.7 337.7L537.0 337.9L537.3 338.1L537.6 338.4L537.9 338.7L538.2 338.9L538.5 339.2L538.8 339.5L539.1 339.8L539.4 340.1L539.7 340.4L540.0 340.7L540.3 341.0L540.6 341.4L540.9 341.7L541.2 342.0L541.5 342.4L541.8 342.7L542.1 343.1L542.4 343.4L542.7 343.7L543.0 344.1L543.3 344.4L543.6 344.8L543.9 345.1L544.2 345.5L544.5 345.8L544.8 346.2L545.1 346.5L545.4 346.8L545.7 347.2L546.0 347.5L546.3 347.8L546.6 348.1L546.9 348.4L547.3 348.7L547.6 349.0L547.9 349.3L548.2 349.5L548.5 349.8L548.8 350.0L549.1 350.3L549.4 350.5L549.7 350.7L550.0 350.9L550.3 351.1L550.6 351.3L550.9 351.5L551.2 351.6L551.5 351.7L551.8 351.9L552.1 352.0L552.4 352.0L552.7 352.1L553.0 352.2L553.3 352.2L553.6 352.2L553.9 352.2L554.2 352.2L554.5 352.1L554.8 352.0L555.1 351.9L555.4 351.8L555.7 351.7L556.0 351.6L556.3 351.4L556.6 351.2L556.9 351.0L557.2 350.8L557.5 350.6L557.8 350.4L558.1 350.1L558.4 349.8L558.7 349.6L559.0 349.3L559.3 349.0L559.6 348.7L559.9 348.4L560.2 348.1L560.5 347.8L560.9 347.4L561.2 347.1L561.5 346.8L561.8 346.4L562.1 346.1L562.4 345.7L562.7 345.4L563.0 345.0L563.3 344.6L563.6 344.3L563.9 343.9L564.2 343.6L564.5 343.2L564.8 342.9L565.1 342.5L565.4 342.2L565.7 341.8L566.0 341.5L566.3 341.2L566.6 340.8L566.9 340.5L567.2 340.2L567.5 339.9L567.8 339.6L568.1 339.3L568.4 339.1L568.7 338.8L569.0 338.6L569.3 338.3L569.6 338.1L569.9 337.9L570.2 337.7L570.5 337.5L570.8 337.4L571.1 337.2L571.4 337.1L571.7 337.0L572.0 336.9L572.3 336.8L572.6 336.8L572.9 336.7L573.2 336.7L573.5 336.7L573.8 336.8L574.1 336.8L574.4 336.9L574.8 337.0L575.1 337.1L575.4 337.2L575.7 337.3L576.0 337.5L576.3 337.6L576.6 337.8L576.9 338.0L577.2 338.2L577.5 338.4L577.8 338.6L578.1 338.9L578.4 339.1L578.7 339.4L579.0 339.7L579.3 340.0L579.6 340.2L579.9 340.6L580.2 340.9L580.5 341.2L580.8 341.5L581.1 341.8L581.4 342.2L581.7 342.5L582.0 342.9L582.3 343.2L582.6 343.6L582.9 343.9L583.2 344.3L583.5 344.7L583.8 345.0L584.1 345.4L584.4 345.8L584.7 346.1L585.0 346.5L585.3 346.9L585.6 347.2L585.9 347.6L586.2 347.9L586.5 348.3L586.8 348.7L587.1 349.0L587.4 349.4L587.7 349.7L588.0 350.0L588.4 350.4L588.7 350.7L589.0 351.0L589.3 351.3L589.6 351.6L589.9 351.9L590.2 352.2L590.5 352.5L590.8 352.7L591.1 353.0L591.4 353.2L591.7 353.5L592.0 353.7L592.3 353.9L592.6 354.1L592.9 354.3L593.2 354.4L593.5 354.6L593.8 354.7L594.1 354.8L594.4 354.9L594.7 355.0L595.0 355.1L595.3 355.1L595.6 355.1L595.9 355.1L596.2 355.1L596.5 355.1L596.8 355.0L597.1 354.9L597.4 354.8L597.7 354.7L598.0 354.6L598.3 354.4L598.6 354.2L598.9 354.0L599.2 353.8L599.5 353.5L599.8 353.2L600.1 353.0L600.4 352.7L600.7 352.4L601.0 352.0L601.3 351.7L601.6 351.4L602.0 351.0L602.3 350.6L602.6 350.3L602.9 349.9L603.2 349.5L603.5 349.1L603.8 348.7L604.1 348.3L604.4 347.8L604.7 347.4L605.0 347.0L605.3 346.6L605.6 346.1L605.9 345.7L606.2 345.3L606.5 344.8L606.8 344.4L607.1 344.0L607.4 343.6L607.7 343.1L608.0 342.7L608.3 342.3L608.6 341.9L608.9 341.5L609.2 341.1L609.5 340.7L609.8 340.4L610.1 340.0L610.4 339.7L610.7 339.3L611.0 339.0L611.3 338.7L611.6 338.4L611.9 338.1L612.2 337.8L612.5 337.5L612.8 337.3L613.1 337.1L613.4 336.9L613.7 336.7L614.0 336.5L614.3 336.4L614.6 336.3L614.9 336.2L615.2 336.1L615.5 336.0L615.9 336.0L616.2 336.0L616.5 336.0L616.8 336.1L617.1 336.2L617.4 336.3L617.7 336.4L618.0 336.6L618.3 336.8L618.6 337.0L618.9 337.2L619.2 337.5L619.5 337.8L619.8 338.1L620.1 338.4L620.4 338.8L620.7 339.2L621.0 339.5L621.3 339.9L621.6 340.4L621.9 340.8L622.2 341.2L622.5 341.7L622.8 342.2L623.1 342.6L623.4 343.1L623.7 343.6L624.0 344.1L624.3 344.6L624.6 345.1L624.9 345.7L625.2 346.2L625.5 346.7L625.8 347.2L626.1 347.8L626.4 348.3L626.7 348.8L627.0 349.4L627.3 349.9L627.6 350.4L627.9 350.9L628.2 351.4L628.5 351.9L628.8 352.4L629.1 352.9L629.5 353.4L629.8 353.9L630.1 354.3L630.4 354.8L630.7 355.2L631.0 355.6L631.3 356.0L631.6 356.4L631.9 356.8L632.2 357.1L632.5 357.4L632.8 357.8L633.1 358.0L633.4 358.3L633.7 358.6L634.0 358.8L634.3 359.0L634.6 359.1L634.9 359.3L635.2 359.4L635.5 359.5L635.8 359.5L636.1 359.6L636.4 359.6L636.7 359.5L637.0 359.5L637.3 359.4L637.6 359.2L637.9 359.1L638.2 358.9L638.5 358.7L638.8 358.5L639.1 358.2L639.4 358.0L639.7 357.7L640.0 357.3L640.3 357.0L640.6 356.6L640.9 356.3L641.2 355.9L641.5 355.5L641.8 355.0L642.1 354.6L642.4 354.2L642.7 353.7L643.0 353.2L643.4 352.7L643.7 352.2L644.0 351.7L644.3 351.2L644.6 350.7L644.9 350.1L645.2 349.6L645.5 349.1L645.8 348.5L646.1 348.0L646.4 347.4L646.7 346.9L647.0 346.3L647.3 345.8L647.6 345.2L647.9 344.7L648.2 344.1L648.5 343.6L648.8 343.0L649.1 342.5L649.4 342.0L649.7 341.5L650.0 341.0L650.3 340.5L650.6 340.0L650.9 339.5L651.2 339.0L651.5 338.6L651.8 338.2L652.1 337.7L652.4 337.3L652.7 336.9L653.0 336.6L653.3 336.2L653.6 335.9L653.9 335.6L654.2 335.3L654.5 335.0L654.8 334.8L655.1 334.6L655.4 334.4L655.7 334.2L656.0 334.1L656.3 333.9L656.6 333.9L657.0 333.8L657.3 333.8L657.6 333.8L657.9 333.8L658.2 333.9L658.5 334.0L658.8 334.2L659.1 334.4L659.4 334.6L659.7 334.8L660.0 335.1L660.3 335.4L660.6 335.7L660.9 336.1L661.2 336.5L661.5 336.9L661.8 337.3L662.1 337.7L662.4 338.2L662.7 338.7L663.0 339.2L663.3 339.7L663.6 340.3L663.9 340.8L664.2 341.4L664.5 342.0L664.8 342.6L665.1 343.2L665.4 343.8L665.7 344.4L666.0 345.0L666.3 345.6L666.6 346.3L666.9 346.9L667.2 347.5L667.5 348.2L667.8 348.8L668.1 349.4L668.4 350.1L668.7 350.7L669.0 351.3L669.3 352.0L669.6 352.6L669.9 353.2L670.2 353.8L670.5 354.3L670.9 354.9L671.2 355.5L671.5 356.0L671.8 356.5L672.1 357.1L672.4 357.6L672.7 358.0L673.0 358.5L673.3 358.9L673.6 359.3L673.9 359.7L674.2 360.1L674.5 360.4L674.8 360.7L675.1 361.0L675.4 361.3L675.7 361.5L676.0 361.7L676.3 361.9L676.6 362.0L676.9 362.1L677.2 362.1L677.5 362.1" fill="none" stroke="#35357c" stroke-width="0.90"/>
<line x1="28.00" y1="187.00" x2="28.00" y2="184.00" stroke="#555" stroke-width="0.8"/>
<line x1="28.00" y1="3.00" x2="28.00" y2="6.00" stroke="#555" stroke-width="0.8"/>
<line x1="58.20" y1="187.00" x2="58.20" y2="184.00" stroke="#555" stroke-width="0.8"/>
<line x1="58.20" y1="3.00" x2="58.20" y2="6.00" stroke="#555" stroke-width="0.8"/>
<line x1="88.40" y1="187.00" x2="88.40" y2="184.00" stroke="#555" stroke-width="0.8"/>
<line x1="88.40" y1="3.00" x2="88.40" y2="6.00" stroke="#555" stroke-width="0.8"/>
<line x1="118.60" y1="187.00" x2="118.60" y2="184.00" stroke="#555" stroke-width="0.8"/>
<line x1="118.60" y1="3.00" x2="118.60" y2="6.00" stroke="#555" stroke-width="0.8"/>
<line x1="148.80" y1="187.00" x2="148.80" y2="184.00" stroke="#555" stroke-width="0.8"/>
<line x1="148.80" y1="3.00" x2="148.80" y2="6.00" stroke="#555" stroke-width="0.8"/>
<line x1="179.00" y1="187.00" x2="179.00" y2="184.00" stroke="#555" stroke-width="0.8"/>
<line x1="179.00" y1="3.00" x2="179.00" y2="6.00" stroke="#555" stroke-width="0.8"/>
<line x1="209.20" y1="187.00" x2="209.20" y2="184.00" stroke="#555" stroke-width="0.8"/>
<line x1="209.20" y1="3.00" x2="209.20" y2="6.00" stroke="#555" stroke-width="0.8"/>
<line x1="239.40" y1="187.00" x2="239.40" y2="184.00" stroke="#555" stroke-width="0.8"/>
<line x1="239.40" y1="3.00" x2="239.40" y2="6.00" stroke="#555" stroke-width="0.8"/>
<line x1="269.60" y1="187.00" x2="269.60" y2="184.00" stroke="#555" stroke-width="0.8"/>
<line x1="269.60" y1="3.00" x2="269.60" y2="6.00" stroke="#555" stroke-width="0.8"/>
<line x1="299.80" y1="187.00" x2="299.80" y2="184.00" stroke="#555" stroke-width="0.8"/>
<line x1="299.80" y1="3.00" x2="299.80" y2="6.00" stroke="#555" stroke-width="0.8"/>
<line x1="330.00" y1="187.00" x2="330.00" y2="184.00" stroke="#555" stroke-width="0.8"/>
<line x1="330.00" y1="3.00" x2="330.00" y2="6.00" stroke="#555" stroke-width="0.8"/>
<line x1="28.00" y1="187.00" x2="31.00" y2="187.00" stroke="#555" stroke-width="0.8"/>
<line x1="330.50" y1="187.00" x2="327.50" y2="187.00" stroke="#555" stroke-width="0.8"/>
<line x1="28.00" y1="168.60" x2="31.00" y2="168.60" stroke="#555" stroke-width="0.8"/>
<line x1="330.50" y1="168.60" x2="327.50" y2="168.60" stroke="#555" stroke-width="0.8"/>
<line x1="28.00" y1="150.20" x2="31.00" y2="150.20" stroke="#555" stroke-width="0.8"/>
<line x1="330.50" y1="150.20" x2="327.50" y2="150.20" stroke="#555" stroke-width="0.8"/>
<line x1="28.00" y1="131.80" x2="31.00" y2="131.80" stroke="#555" stroke-width="0.8"/>
<line x1="330.50" y1="131.80" x2="327.50" y2="131.80" stroke="#555" stroke-width="0.8"/>
<line x1="28.00" y1="113.40" x2="31.00" y2="113.40" stroke="#555" stroke-width="0.8"/>
<line x1="330.50" y1="113.40" x2="327.50" y2="113.40" stroke="#555" stroke-width="0.8"/>
<line x1="28.00" y1="95.00" x2="31.00" y2="95.00" stroke="#555" stroke-width="0.8"/>
<line x1="330.50" y1="95.00" x2="327.50" y2="95.00" stroke="#555" stroke-width="0.8"/>
<line x1="28.00" y1="76.60" x2="31.00" y2="76.60" stroke="#555" stroke-width="0.8"/>
<line x1="330.50" y1="76.60" x2="327.50" y2="76.60" stroke="#555" stroke-width="0.8"/>
<line x1="28.00" y1="58.20" x2="31.00" y2="58.20" stroke="#555" stroke-width="0.8"/>
<line x1="330.50" y1="58.20" x2="327.50" y2="58.20" stroke="#555" stroke-width="0.8"/>
<line x1="28.00" y1="39.80" x2="31.00" y2="39.80" stroke="#555" stroke-width="0.8"/>
<line x1="330.50" y1="39.80" x2="327.50" y2="39.80" stroke="#555" stroke-width="0.8"/>
<line x1="28.00" y1="21.40" x2="31.00" y2="21.40" stroke="#555" stroke-width="0.8"/>
<line x1="330.50" y1="21.40" x2="327.50" y2="21.40" stroke="#555" stroke-width="0.8"/>
<line x1="28.00" y1="3.00" x2="31.00" y2="3.00" stroke="#555" stroke-width="0.8"/>
<line x1="330.50" y1="3.00" x2="327.50" y2="3.00" stroke="#555" stroke-width="0.8"/>
<line x1="372.50" y1="189.20" x2="372.50" y2="186.20" stroke="#555" stroke-width="0.8"/>
<line x1="372.50" y1="3.50" x2="372.50" y2="6.50" stroke="#555" stroke-width="0.8"/>
<line x1="403.05" y1="189.20" x2="403.05" y2="186.20" stroke="#555" stroke-width="0.8"/>
<line x1="403.05" y1="3.50" x2="403.05" y2="6.50" stroke="#555" stroke-width="0.8"/>
<line x1="433.60" y1="189.20" x2="433.60" y2="186.20" stroke="#555" stroke-width="0.8"/>
<line x1="433.60" y1="3.50" x2="433.60" y2="6.50" stroke="#555" stroke-width="0.8"/>
<line x1="464.15" y1="189.20" x2="464.15" y2="186.20" stroke="#555" stroke-width="0.8"/>
<line x1="464.15" y1="3.50" x2="464.15" y2="6.50" stroke="#555" stroke-width="0.8"/>
<line x1="494.70" y1="189.20" x2="494.70" y2="186.20" stroke="#555" stroke-width="0.8"/>
<line x1="494.70" y1="3.50" x2="494.70" y2="6.50" stroke="#555" stroke-width="0.8"/>
<line x1="525.25" y1="189.20" x2="525.25" y2="186.20" stroke="#555" stroke-width="0.8"/>
<line x1="525.25" y1="3.50" x2="525.25" y2="6.50" stroke="#555" stroke-width="0.8"/>
<line x1="555.80" y1="189.20" x2="555.80" y2="186.20" stroke="#555" stroke-width="0.8"/>
<line x1="555.80" y1="3.50" x2="555.80" y2="6.50" stroke="#555" stroke-width="0.8"/>
<line x1="586.35" y1="189.20" x2="586.35" y2="186.20" stroke="#555" stroke-width="0.8"/>
<line x1="586.35" y1="3.50" x2="586.35" y2="6.50" stroke="#555" stroke-width="0.8"/>
<line x1="616.90" y1="189.20" x2="616.90" y2="186.20" stroke="#555" stroke-width="0.8"/>
<line x1="616.90" y1="3.50" x2="616.90" y2="6.50" stroke="#555" stroke-width="0.8"/>
<line x1="647.45" y1="189.20" x2="647.45" y2="186.20" stroke="#555" stroke-width="0.8"/>
<line x1="647.45" y1="3.50" x2="647.45" y2="6.50" stroke="#555" stroke-width="0.8"/>
<line x1="678.00" y1="189.20" x2="678.00" y2="186.20" stroke="#555" stroke-width="0.8"/>
<line x1="678.00" y1="3.50" x2="678.00" y2="6.50" stroke="#555" stroke-width="0.8"/>
<line x1="372.30" y1="189.20" x2="375.30" y2="189.20" stroke="#555" stroke-width="0.8"/>
<line x1="678.50" y1="189.20" x2="675.50" y2="189.20" stroke="#555" stroke-width="0.8"/>
<line x1="372.30" y1="165.92" x2="375.30" y2="165.92" stroke="#555" stroke-width="0.8"/>
<line x1="678.50" y1="165.92" x2="675.50" y2="165.92" stroke="#555" stroke-width="0.8"/>
<line x1="372.30" y1="142.65" x2="375.30" y2="142.65" stroke="#555" stroke-width="0.8"/>
<line x1="678.50" y1="142.65" x2="675.50" y2="142.65" stroke="#555" stroke-width="0.8"/>
<line x1="372.30" y1="119.38" x2="375.30" y2="119.38" stroke="#555" stroke-width="0.8"/>
<line x1="678.50" y1="119.38" x2="675.50" y2="119.38" stroke="#555" stroke-width="0.8"/>
<line x1="372.30" y1="96.10" x2="375.30" y2="96.10" stroke="#555" stroke-width="0.8"/>
<line x1="678.50" y1="96.10" x2="675.50" y2="96.10" stroke="#555" stroke-width="0.8"/>
<line x1="372.30" y1="72.82" x2="375.30" y2="72.82" stroke="#555" stroke-width="0.8"/>
<line x1="678.50" y1="72.82" x2="675.50" y2="72.82" stroke="#555" stroke-width="0.8"/>
<line x1="372.30" y1="49.55" x2="375.30" y2="49.55" stroke="#555" stroke-width="0.8"/>
<line x1="678.50" y1="49.55" x2="675.50" y2="49.55" stroke="#555" stroke-width="0.8"/>
<line x1="372.30" y1="26.28" x2="375.30" y2="26.28" stroke="#555" stroke-width="0.8"/>
<line x1="678.50" y1="26.28" x2="675.50" y2="26.28" stroke="#555" stroke-width="0.8"/>
<line x1="372.30" y1="3.00" x2="375.30" y2="3.00" stroke="#555" stroke-width="0.8"/>
<line x1="678.50" y1="3.00" x2="675.50" y2="3.00" stroke="#555" stroke-width="0.8"/>
<line x1="29.60" y1="426.20" x2="29.60" y2="423.20" stroke="#555" stroke-width="0.8"/>
<line x1="29.60" y1="241.80" x2="29.60" y2="244.80" stroke="#555" stroke-width="0.8"/>
<line x1="79.88" y1="426.20" x2="79.88" y2="423.20" stroke="#555" stroke-width="0.8"/>
<line x1="79.88" y1="241.80" x2="79.88" y2="244.80" stroke="#555" stroke-width="0.8"/>
<line x1="130.17" y1="426.20" x2="130.17" y2="423.20" stroke="#555" stroke-width="0.8"/>
<line x1="130.17" y1="241.80" x2="130.17" y2="244.80" stroke="#555" stroke-width="0.8"/>
<line x1="180.45" y1="426.20" x2="180.45" y2="423.20" stroke="#555" stroke-width="0.8"/>
<line x1="180.45" y1="241.80" x2="180.45" y2="244.80" stroke="#555" stroke-width="0.8"/>
<line x1="230.73" y1="426.20" x2="230.73" y2="423.20" stroke="#555" stroke-width="0.8"/>
<line x1="230.73" y1="241.80" x2="230.73" y2="244.80" stroke="#555" stroke-width="0.8"/>
<line x1="281.02" y1="426.20" x2="281.02" y2="423.20" stroke="#555" stroke-width="0.8"/>
<line x1="281.02" y1="241.80" x2="281.02" y2="244.80" stroke="#555" stroke-width="0.8"/>
<line x1="331.30" y1="426.20" x2="331.30" y2="423.20" stroke="#555" stroke-width="0.8"/>
<line x1="331.30" y1="241.80" x2="331.30" y2="244.80" stroke="#555" stroke-width="0.8"/>
<line x1="29.50" y1="426.00" x2="32.50" y2="426.00" stroke="#555" stroke-width="0.8"/>
<line x1="331.30" y1="426.00" x2="328.30" y2="426.00" stroke="#555" stroke-width="0.8"/>
<line x1="29.50" y1="403.00" x2="32.50" y2="403.00" stroke="#555" stroke-width="0.8"/>
<line x1="331.30" y1="403.00" x2="328.30" y2="403.00" stroke="#555" stroke-width="0.8"/>
<line x1="29.50" y1="380.00" x2="32.50" y2="380.00" stroke="#555" stroke-width="0.8"/>
<line x1="331.30" y1="380.00" x2="328.30" y2="380.00" stroke="#555" stroke-width="0.8"/>
<line x1="29.50" y1="357.00" x2="32.50" y2="357.00" stroke="#555" stroke-width="0.8"/>
<line x1="331.30" y1="357.00" x2="328.30" y2="357.00" stroke="#555" stroke-width="0.8"/>
<line x1="29.50" y1="334.00" x2="32.50" y2="334.00" stroke="#555" stroke-width="0.8"/>
<line x1="331.30" y1="334.00" x2="328.30" y2="334.00" stroke="#555" stroke-width="0.8"/>
<line x1="29.50" y1="311.00" x2="32.50" y2="311.00" stroke="#555" stroke-width="0.8"/>
<line x1="331.30" y1="311.00" x2="328.30" y2="311.00" stroke="#555" stroke-width="0.8"/>
<line x1="29.50" y1="288.00" x2="32.50" y2="288.00" stroke="#555" stroke-width="0.8"/>
<line x1="331.30" y1="288.00" x2="328.30" y2="288.00" stroke="#555" stroke-width="0.8"/>
<line x1="29.50" y1="265.00" x2="32.50" y2="265.00" stroke="#555" stroke-width="0.8"/>
<line x1="331.30" y1="265.00" x2="328.30" y2="265.00" stroke="#555" stroke-width="0.8"/>
<line x1="29.50" y1="242.00" x2="32.50" y2="242.00" stroke="#555" stroke-width="0.8"/>
<line x1="331.30" y1="242.00" x2="328.30" y2="242.00" stroke="#555" stroke-width="0.8"/>
<line x1="375.30" y1="423.50" x2="375.30" y2="420.50" stroke="#555" stroke-width="0.8"/>
<line x1="375.30" y1="239.50" x2="375.30" y2="242.50" stroke="#555" stroke-width="0.8"/>
<line x1="425.67" y1="423.50" x2="425.67" y2="420.50" stroke="#555" stroke-width="0.8"/>
<line x1="425.67" y1="239.50" x2="425.67" y2="242.50" stroke="#555" stroke-width="0.8"/>
<line x1="476.03" y1="423.50" x2="476.03" y2="420.50" stroke="#555" stroke-width="0.8"/>
<line x1="476.03" y1="239.50" x2="476.03" y2="242.50" stroke="#555" stroke-width="0.8"/>
<line x1="526.40" y1="423.50" x2="526.40" y2="420.50" stroke="#555" stroke-width="0.8"/>
<line x1="526.40" y1="239.50" x2="526.40" y2="242.50" stroke="#555" stroke-width="0.8"/>
<line x1="576.77" y1="423.50" x2="576.77" y2="420.50" stroke="#555" stroke-width="0.8"/>
<line x1="576.77" y1="239.50" x2="576.77" y2="242.50" stroke="#555" stroke-width="0.8"/>
<line x1="627.13" y1="423.50" x2="627.13" y2="420.50" stroke="#555" stroke-width="0.8"/>
<line x1="627.13" y1="239.50" x2="627.13" y2="242.50" stroke="#555" stroke-width="0.8"/>
<line x1="677.50" y1="423.50" x2="677.50" y2="420.50" stroke="#555" stroke-width="0.8"/>
<line x1="677.50" y1="239.50" x2="677.50" y2="242.50" stroke="#555" stroke-width="0.8"/>
<line x1="374.80" y1="423.30" x2="377.80" y2="423.30" stroke="#555" stroke-width="0.8"/>
<line x1="677.50" y1="423.30" x2="674.50" y2="423.30" stroke="#555" stroke-width="0.8"/>
<line x1="374.80" y1="404.88" x2="377.80" y2="404.88" stroke="#555" stroke-width="0.8"/>
<line x1="677.50" y1="404.88" x2="674.50" y2="404.88" stroke="#555" stroke-width="0.8"/>
<line x1="374.80" y1="386.46" x2="377.80" y2="386.46" stroke="#555" stroke-width="0.8"/>
<line x1="677.50" y1="386.46" x2="674.50" y2="386.46" stroke="#555" stroke-width="0.8"/>
<line x1="374.80" y1="368.04" x2="377.80" y2="368.04" stroke="#555" stroke-width="0.8"/>
<line x1="677.50" y1="368.04" x2="674.50" y2="368.04" stroke="#555" stroke-width="0.8"/>
<line x1="374.80" y1="349.62" x2="377.80" y2="349.62" stroke="#555" stroke-width="0.8"/>
<line x1="677.50" y1="349.62" x2="674.50" y2="349.62" stroke="#555" stroke-width="0.8"/>
<line x1="374.80" y1="331.20" x2="377.80" y2="331.20" stroke="#555" stroke-width="0.8"/>
<line x1="677.50" y1="331.20" x2="674.50" y2="331.20" stroke="#555" stroke-width="0.8"/>
<line x1="374.80" y1="312.78" x2="377.80" y2="312.78" stroke="#555" stroke-width="0.8"/>
<line x1="677.50" y1="312.78" x2="674.50" y2="312.78" stroke="#555" stroke-width="0.8"/>
<line x1="374.80" y1="294.36" x2="377.80" y2="294.36" stroke="#555" stroke-width="0.8"/>
<line x1="677.50" y1="294.36" x2="674.50" y2="294.36" stroke="#555" stroke-width="0.8"/>
<line x1="374.80" y1="275.94" x2="377.80" y2="275.94" stroke="#555" stroke-width="0.8"/>
<line x1="677.50" y1="275.94" x2="674.50" y2="275.94" stroke="#555" stroke-width="0.8"/>
<line x1="374.80" y1="257.52" x2="377.80" y2="257.52" stroke="#555" stroke-width="0.8"/>
<line x1="677.50" y1="257.52" x2="674.50" y2="257.52" stroke="#555" stroke-width="0.8"/>
<line x1="374.80" y1="239.10" x2="377.80" y2="239.10" stroke="#555" stroke-width="0.8"/>
<line x1="677.50" y1="239.10" x2="674.50" y2="239.10" stroke="#555" stroke-width="0.8"/>
<g font-size="7.3">
<text x="28.00" y="198.20" text-anchor="middle">0</text>
<text x="58.20" y="198.20" text-anchor="middle">0.5</text>
<text x="88.40" y="198.20" text-anchor="middle">1</text>
<text x="118.60" y="198.20" text-anchor="middle">1.5</text>
<text x="148.80" y="198.20" text-anchor="middle">2</text>
<text x="179.00" y="198.20" text-anchor="middle">2.5</text>
<text x="209.20" y="198.20" text-anchor="middle">3</text>
<text x="239.40" y="198.20" text-anchor="middle">3.5</text>
<text x="269.60" y="198.20" text-anchor="middle">4</text>
<text x="299.80" y="198.20" text-anchor="middle">4.5</text>
<text x="330.00" y="198.20" text-anchor="middle">5</text>
<text x="24.40" y="190.50" text-anchor="end">0</text>
<text x="24.40" y="172.10" text-anchor="end">0.5</text>
<text x="24.40" y="153.70" text-anchor="end">1</text>
<text x="24.40" y="135.30" text-anchor="end">1.5</text>
<text x="24.40" y="116.90" text-anchor="end">2</text>
<text x="24.40" y="98.50" text-anchor="end">2.5</text>
<text x="24.40" y="80.10" text-anchor="end">3</text>
<text x="24.40" y="61.70" text-anchor="end">3.5</text>
<text x="24.40" y="43.30" text-anchor="end">4</text>
<text x="24.40" y="24.90" text-anchor="end">4.5</text>
<text x="24.40" y="6.50" text-anchor="end">5</text>
<text x="372.50" y="201.10" text-anchor="middle">0</text>
<text x="403.05" y="201.10" text-anchor="middle">0.5</text>
<text x="433.60" y="201.10" text-anchor="middle">1</text>
<text x="464.15" y="201.10" text-anchor="middle">1.5</text>
<text x="494.70" y="201.10" text-anchor="middle">2</text>
<text x="525.25" y="201.10" text-anchor="middle">2.5</text>
<text x="555.80" y="201.10" text-anchor="middle">3</text>
<text x="586.35" y="201.10" text-anchor="middle">3.5</text>
<text x="616.90" y="201.10" text-anchor="middle">4</text>
<text x="647.45" y="201.10" text-anchor="middle">4.5</text>
<text x="678.00" y="201.10" text-anchor="middle">5</text>
<text x="368.70" y="192.70" text-anchor="end">0</text>
<text x="368.70" y="169.42" text-anchor="end">0.5</text>
<text x="368.70" y="146.15" text-anchor="end">1</text>
<text x="368.70" y="122.88" text-anchor="end">1.5</text>
<text x="368.70" y="99.60" text-anchor="end">2</text>
<text x="368.70" y="76.32" text-anchor="end">2.5</text>
<text x="368.70" y="53.05" text-anchor="end">3</text>
<text x="368.70" y="29.78" text-anchor="end">3.5</text>
<text x="368.70" y="6.50" text-anchor="end">4</text>
</g><g font-size="7.6">
<text x="29.60" y="437.30" text-anchor="middle">0</text>
<text x="79.88" y="437.30" text-anchor="middle">1</text>
<text x="130.17" y="437.30" text-anchor="middle">2</text>
<text x="180.45" y="437.30" text-anchor="middle">3</text>
<text x="230.73" y="437.30" text-anchor="middle">4</text>
<text x="281.02" y="437.30" text-anchor="middle">5</text>
<text x="331.30" y="437.30" text-anchor="middle">6</text>
<text x="26.50" y="429.50" text-anchor="end">0</text>
<text x="26.50" y="406.50" text-anchor="end">0.5</text>
<text x="26.50" y="383.50" text-anchor="end">1</text>
<text x="26.50" y="360.50" text-anchor="end">1.5</text>
<text x="26.50" y="337.50" text-anchor="end">2</text>
<text x="26.50" y="314.50" text-anchor="end">2.5</text>
<text x="26.50" y="291.50" text-anchor="end">3</text>
<text x="26.50" y="268.50" text-anchor="end">3.5</text>
<text x="26.50" y="245.50" text-anchor="end">4</text>
<text x="375.30" y="434.80" text-anchor="middle">0</text>
<text x="425.67" y="434.80" text-anchor="middle">1</text>
<text x="476.03" y="434.80" text-anchor="middle">2</text>
<text x="526.40" y="434.80" text-anchor="middle">3</text>
<text x="576.77" y="434.80" text-anchor="middle">4</text>
<text x="627.13" y="434.80" text-anchor="middle">5</text>
<text x="677.50" y="434.80" text-anchor="middle">6</text>
<text x="371.50" y="426.80" text-anchor="end">0</text>
<text x="371.50" y="408.38" text-anchor="end">0.5</text>
<text x="371.50" y="389.96" text-anchor="end">1</text>
<text x="371.50" y="371.54" text-anchor="end">1.5</text>
<text x="371.50" y="353.12" text-anchor="end">2</text>
<text x="371.50" y="334.70" text-anchor="end">2.5</text>
<text x="371.50" y="316.28" text-anchor="end">3</text>
<text x="371.50" y="297.86" text-anchor="end">3.5</text>
<text x="371.50" y="279.44" text-anchor="end">4</text>
<text x="371.50" y="261.02" text-anchor="end">4.5</text>
<text x="371.50" y="242.60" text-anchor="end">5</text>
</g>
<g font-size="8.2">
<text x="179.3" y="210.7" text-anchor="middle">time</text>
<text x="525.3" y="213.9" text-anchor="middle" font-size="8.4">time</text>
<text x="180.6" y="449.6" text-anchor="middle">time</text>
<text x="526.4" y="447.2" text-anchor="middle">time</text>
</g><g font-size="8.8">
<text transform="translate(8.7,94.8) rotate(-90)" text-anchor="middle" font-size="8.6">Concentration B</text>
<text transform="translate(353.8,96.1) rotate(-90)" text-anchor="middle">Concentration A</text>
<text transform="translate(9.4,333.2) rotate(-90)" text-anchor="middle">Concentration B</text>
<text transform="translate(356.2,331.5) rotate(-90)" text-anchor="middle">Cocentration A</text>
</g>
<text x="312.10" y="211.50" font-size="7.6">&#215;</text><text x="318.20" y="211.80" font-size="7.3">10</text><text x="326.90" y="207.80" font-size="5.2">4</text>
<text x="659.90" y="214.50" font-size="7.6">&#215;</text><text x="666.00" y="214.80" font-size="7.3">10</text><text x="674.70" y="210.80" font-size="5.2">4</text>
<text x="313.40" y="450.50" font-size="7.6">&#215;</text><text x="319.50" y="450.80" font-size="7.3">10</text><text x="328.20" y="446.80" font-size="5.2">4</text>
<text x="659.10" y="448.30" font-size="7.6">&#215;</text><text x="665.20" y="448.60" font-size="7.3">10</text><text x="673.90" y="444.60" font-size="5.2">4</text>
<text x="179.50" y="225.00" text-anchor="middle" font-size="13.0" style="font-family:'Liberation Serif', serif;font-weight:bold;fill:#111">(a)</text>
<text x="524.90" y="227.00" text-anchor="middle" font-size="14.0" style="font-family:'Liberation Serif', serif;font-weight:bold;fill:#111">(b)</text>
<text x="180.40" y="466.60" text-anchor="middle" font-size="13.0" style="font-family:'Liberation Serif', serif;font-weight:bold;fill:#111">(c)</text>
<text x="526.20" y="468.40" text-anchor="middle" font-size="13.5" style="font-family:'Liberation Serif', serif;font-weight:bold;fill:#111">(d)</text>
<g font-size="7.1">
<line x1="165.70" y1="11.50" x2="182.00" y2="11.50" stroke="#2f72ad" stroke-width="0.60"/>
<text x="184.60" y="13.40">PD(k<tspan dy="3.3" font-size="5.0">p</tspan><tspan dy="-3.3">=[0.21,0.05,0.05],k</tspan><tspan dy="3.3" font-size="5.0">d</tspan><tspan dy="-3.3">=[0.01,0.001,0.001])</tspan></text>
<line x1="165.70" y1="24.50" x2="182.00" y2="24.50" stroke="#c0583a" stroke-width="0.60"/>
<text x="184.60" y="26.60">PD(k<tspan dy="3.3" font-size="5.0">p</tspan><tspan dy="-3.3">=[0.24,0.04,0.04],k</tspan><tspan dy="3.3" font-size="5.0">d</tspan><tspan dy="-3.3">=[0.02,0.001,0.001])</tspan></text>
<line x1="165.70" y1="37.50" x2="182.00" y2="37.50" stroke="#d9aa35" stroke-width="0.60"/>
<text x="184.60" y="39.80">PD(k<tspan dy="3.3" font-size="5.0">p</tspan><tspan dy="-3.3">=[0.26,0.06,0.06],k</tspan><tspan dy="3.3" font-size="5.0">d</tspan><tspan dy="-3.3">=[0.04,0.001,0.001])</tspan></text>
<line x1="165.70" y1="50.50" x2="182.00" y2="50.50" stroke="#4e3366" stroke-width="0.60"/>
<text x="184.60" y="53.00">PD(k<tspan dy="3.3" font-size="5.0">p</tspan><tspan dy="-3.3">=[0.18,0.04,0.04],k</tspan><tspan dy="3.3" font-size="5.0">d</tspan><tspan dy="-3.3">=[0.02,0.001,0.001])</tspan></text>
<line x1="165.70" y1="63.50" x2="182.00" y2="63.50" stroke="#76893a" stroke-width="0.60"/>
<text x="184.60" y="66.20">PD(k<tspan dy="3.3" font-size="5.0">p</tspan><tspan dy="-3.3">=[0.12,0.05,0.05],k</tspan><tspan dy="3.3" font-size="5.0">d</tspan><tspan dy="-3.3">=[0.02,0.001,0.001])</tspan></text>
</g>
<g font-size="7.2">
<line x1="509.90" y1="12.50" x2="526.30" y2="12.50" stroke="#2f72ad" stroke-width="0.60"/>
<text x="529.10" y="14.70">PD(k<tspan dy="3.3" font-size="5.0">p</tspan><tspan dy="-3.3">=[0.21,0.05,0.05],k</tspan><tspan dy="3.3" font-size="5.0">d</tspan><tspan dy="-3.3">=[0.01,0.001,0.001])</tspan></text>
<line x1="509.90" y1="25.50" x2="526.30" y2="25.50" stroke="#c0583a" stroke-width="0.60"/>
<text x="529.10" y="28.20">PD(k<tspan dy="3.3" font-size="5.0">p</tspan><tspan dy="-3.3">=[0.24,0.04,0.04],k</tspan><tspan dy="3.3" font-size="5.0">d</tspan><tspan dy="-3.3">=[0.02,0.001,0.001])</tspan></text>
<line x1="509.90" y1="39.50" x2="526.30" y2="39.50" stroke="#d9aa35" stroke-width="0.60"/>
<text x="529.10" y="41.70">PD(k<tspan dy="3.3" font-size="5.0">p</tspan><tspan dy="-3.3">=[0.26,0.06,0.06],k</tspan><tspan dy="3.3" font-size="5.0">d</tspan><tspan dy="-3.3">=[0.04,0.001,0.001])</tspan></text>
<line x1="509.90" y1="52.50" x2="526.30" y2="52.50" stroke="#4e3366" stroke-width="0.60"/>
<text x="529.10" y="55.20">PD(k<tspan dy="3.3" font-size="5.0">p</tspan><tspan dy="-3.3">=[0.18,0.04,0.04],k</tspan><tspan dy="3.3" font-size="5.0">d</tspan><tspan dy="-3.3">=[0.02,0.001,0.001])</tspan></text>
<line x1="509.90" y1="66.50" x2="526.30" y2="66.50" stroke="#76893a" stroke-width="0.60"/>
<text x="529.10" y="68.70">PD(k<tspan dy="3.3" font-size="5.0">p</tspan><tspan dy="-3.3">=[0.12,0.05,0.05],k</tspan><tspan dy="3.3" font-size="5.0">d</tspan><tspan dy="-3.3">=[0.02,0.001,0.001])</tspan></text>
</g>
<g font-size="7.0">
<line x1="53.90" y1="248.50" x2="70.40" y2="248.50" stroke="#aa3c3c" stroke-width="0.90"/>
<text x="73.00" y="250.40">PID(k<tspan dy="3.3" font-size="4.9">p</tspan><tspan dy="-3.3">=[0.21,0.05,0.05],k</tspan><tspan dy="3.3" font-size="4.9">d</tspan><tspan dy="-3.3">=[0.01,0.001,0.001],k</tspan><tspan dy="3.3" font-size="4.9">i</tspan><tspan dy="-3.3">=[0.00002,0.00002,0.00002])</tspan></text>
<line x1="53.90" y1="261.50" x2="70.40" y2="261.50" stroke="#5ccc5c" stroke-width="0.90"/>
<text x="73.00" y="263.70">PID(k<tspan dy="3.3" font-size="4.9">p</tspan><tspan dy="-3.3">=[0.24,0.04,0.04],k</tspan><tspan dy="3.3" font-size="4.9">d</tspan><tspan dy="-3.3">=[0.02,0.001,0.001],k</tspan><tspan dy="3.3" font-size="4.9">i</tspan><tspan dy="-3.3">=[0.00001,0.00001,0.00001])</tspan></text>
<line x1="53.90" y1="274.50" x2="70.40" y2="274.50" stroke="#35357c" stroke-width="1.40"/>
<text x="73.00" y="277.00">PID(k<tspan dy="3.3" font-size="4.9">p</tspan><tspan dy="-3.3">=[0.19,0.045,0.045],k</tspan><tspan dy="3.3" font-size="4.9">d</tspan><tspan dy="-3.3">=[0.04,0.001,0.001],k</tspan><tspan dy="3.3" font-size="4.9">i</tspan><tspan dy="-3.3">=[0.00002,0.00002,0.00002])</tspan></text>
<line x1="53.90" y1="287.50" x2="70.40" y2="287.50" stroke="#e2acc2" stroke-width="0.90"/>
<text x="73.00" y="290.30">PID(k<tspan dy="3.3" font-size="4.9">p</tspan><tspan dy="-3.3">=[0.18,0.045,0.045],k</tspan><tspan dy="3.3" font-size="4.9">d</tspan><tspan dy="-3.3">=[0.04,0.001,0.001],k</tspan><tspan dy="3.3" font-size="4.9">i</tspan><tspan dy="-3.3">=[0.000018,0.000018,0.000018])</tspan></text>
<line x1="53.90" y1="301.50" x2="70.40" y2="301.50" stroke="#eeee5a" stroke-width="1.10"/>
<text x="73.00" y="303.60">PID(k<tspan dy="3.3" font-size="4.9">p</tspan><tspan dy="-3.3">=[0.17,0.04,0.04],k</tspan><tspan dy="3.3" font-size="4.9">d</tspan><tspan dy="-3.3">=[0.03,0.001,0.001],k</tspan><tspan dy="3.3" font-size="4.9">i</tspan><tspan dy="-3.3">=[0.000015,0.000015,0.000015])</tspan></text>
</g>
<g font-size="7.0">
<line x1="398.90" y1="246.50" x2="415.40" y2="246.50" stroke="#aa3c3c" stroke-width="0.90"/>
<text x="418.00" y="248.40">PID(k<tspan dy="3.3" font-size="4.9">p</tspan><tspan dy="-3.3">=[0.21,0.05,0.05],k</tspan><tspan dy="3.3" font-size="4.9">d</tspan><tspan dy="-3.3">=[0.01,0.001,0.001],k</tspan><tspan dy="3.3" font-size="4.9">i</tspan><tspan dy="-3.3">=[0.00002,0.00002,0.00002])</tspan></text>
<line x1="398.90" y1="259.50" x2="415.40" y2="259.50" stroke="#5ccc5c" stroke-width="0.90"/>
<text x="418.00" y="261.60">PID(k<tspan dy="3.3" font-size="4.9">p</tspan><tspan dy="-3.3">=[0.24,0.04,0.04],k</tspan><tspan dy="3.3" font-size="4.9">d</tspan><tspan dy="-3.3">=[0.02,0.001,0.001],k</tspan><tspan dy="3.3" font-size="4.9">i</tspan><tspan dy="-3.3">=[0.00001,0.00001,0.00001])</tspan></text>
<line x1="398.90" y1="272.50" x2="415.40" y2="272.50" stroke="#35357c" stroke-width="1.40"/>
<text x="418.00" y="274.80">PID(k<tspan dy="3.3" font-size="4.9">p</tspan><tspan dy="-3.3">=[0.19,0.045,0.045],k</tspan><tspan dy="3.3" font-size="4.9">d</tspan><tspan dy="-3.3">=[0.04,0.001,0.001],k</tspan><tspan dy="3.3" font-size="4.9">i</tspan><tspan dy="-3.3">=[0.00002,0.00002,0.00002])</tspan></text>
<line x1="398.90" y1="285.50" x2="415.40" y2="285.50" stroke="#e2acc2" stroke-width="0.90"/>
<text x="418.00" y="288.00">PID(k<tspan dy="3.3" font-size="4.9">p</tspan><tspan dy="-3.3">=[0.18,0.045,0.045],k</tspan><tspan dy="3.3" font-size="4.9">d</tspan><tspan dy="-3.3">=[0.04,0.001,0.001],k</tspan><tspan dy="3.3" font-size="4.9">i</tspan><tspan dy="-3.3">=[0.000018,0.000018,0.000018])</tspan></text>
<line x1="398.90" y1="298.50" x2="415.40" y2="298.50" stroke="#eeee5a" stroke-width="1.10"/>
<text x="418.00" y="301.20">PID(k<tspan dy="3.3" font-size="4.9">p</tspan><tspan dy="-3.3">=[0.17,0.04,0.04],k</tspan><tspan dy="3.3" font-size="4.9">d</tspan><tspan dy="-3.3">=[0.03,0.001,0.001],k</tspan><tspan dy="3.3" font-size="4.9">i</tspan><tspan dy="-3.3">=[0.000015,0.000015,0.000015])</tspan></text>
</g>
</svg></body></html>
